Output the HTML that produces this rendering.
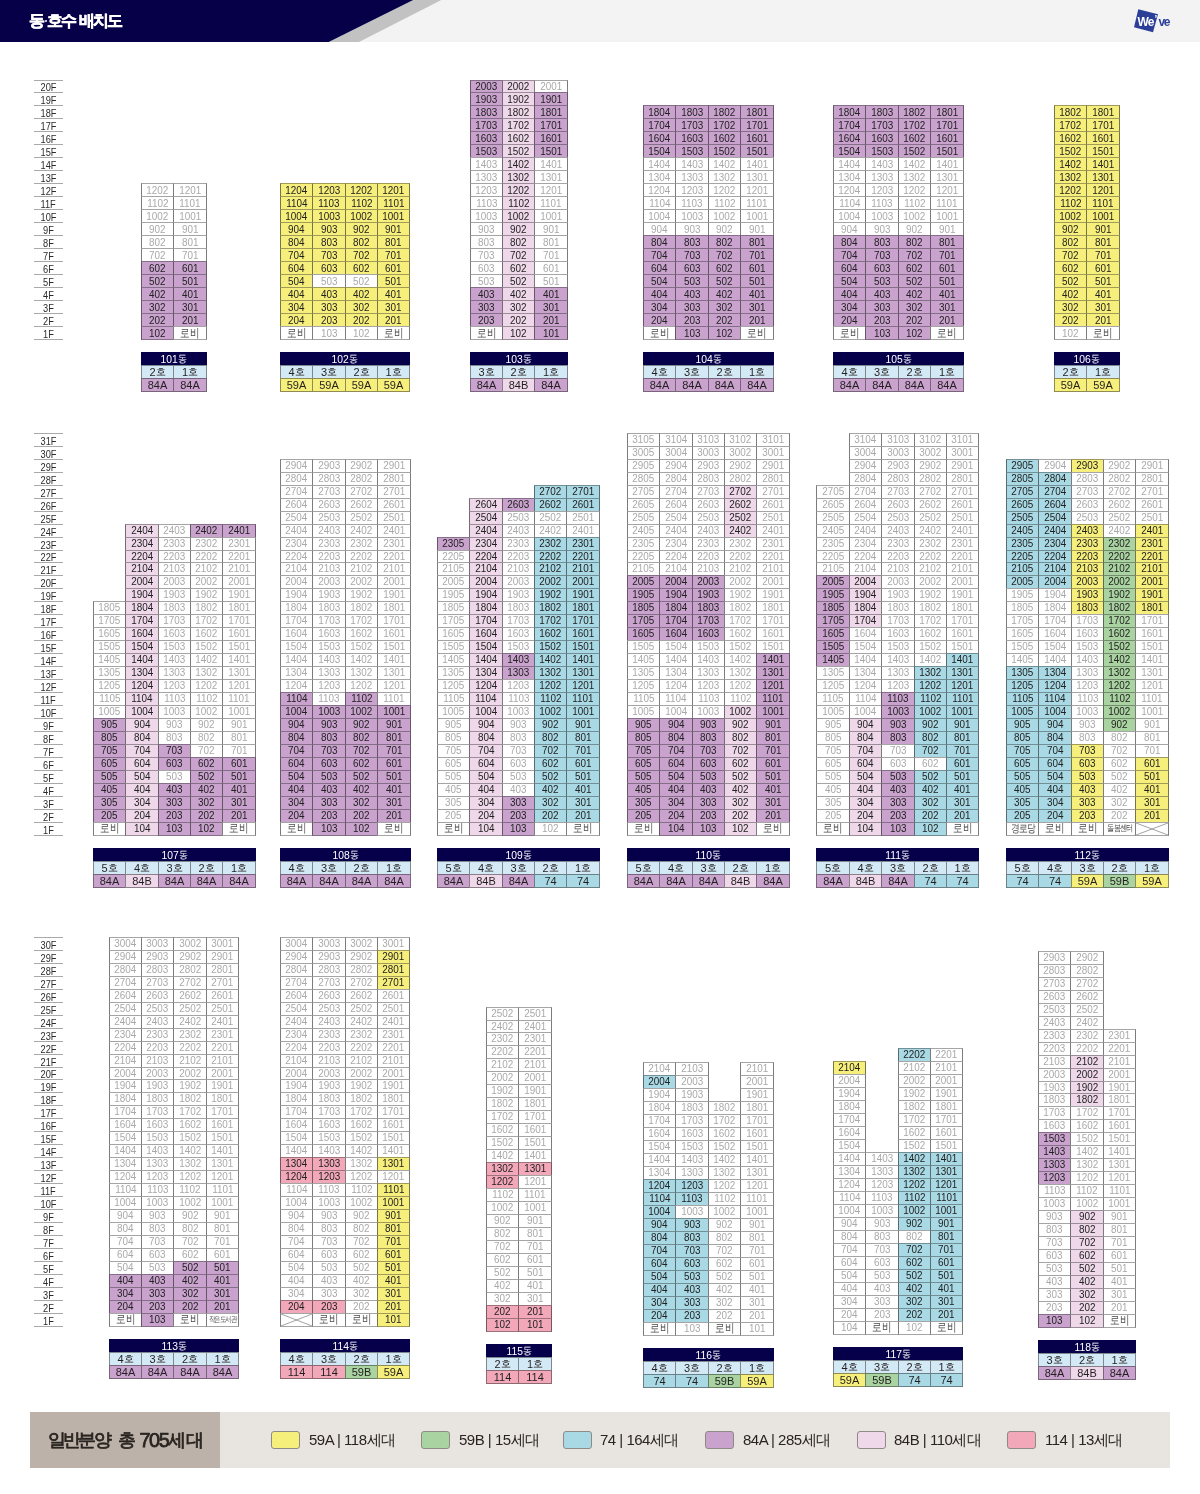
<!DOCTYPE html><html><head><meta charset="utf-8"><title>동·호수 배치도</title><style>
*{margin:0;padding:0;box-sizing:border-box}
html,body{width:1200px;height:1494px;background:#fff;overflow:hidden}
body{position:relative;font-family:"Liberation Sans",sans-serif;color:#222}
.a{position:absolute}
.c{position:absolute;border:1px solid rgba(40,40,40,.42);border-left-color:rgba(30,30,30,.58);border-right-color:rgba(30,30,30,.58);text-align:center;font-size:11px;white-space:nowrap;overflow:hidden}
.c span{display:inline-block;transform:scaleX(.9);transform-origin:50% 50%;margin:0 -20px}
.W{color:#a9a9a9}
.w{color:#4a4a4a}
.c.w span{transform:scaleX(.8)}
i{font-style:normal;font-size:10px;position:relative;top:-1px}
.k{font-size:11.5px}
.s{font-size:9px;letter-spacing:-1px}
.xs{font-size:8px;letter-spacing:-1px}
.m{font-size:11px;letter-spacing:-1px}
.fl{position:absolute;left:34px;width:29px;text-align:center;font-size:11px;color:#2b2b2b;border-top:1px solid #a9a9a9;padding-top:1px}
.fl span{display:inline-block;transform:scaleX(.84)}
.flb{position:absolute;left:34px;width:29px;border-top:1px solid #a9a9a9}
.lh{position:absolute;background:#06004a;color:#fff;text-align:center;font-size:11.5px;border:1px solid #06004a}
.lh span{display:inline-block;transform:scaleX(.9)}
.lc{position:absolute;border:1px solid rgba(40,40,40,.5);text-align:center;font-size:11px;color:#231f20}
..c span{display:inline-block;transform:scaleX(.9)}
</style></head><body><div class="a" style="left:0;top:0;width:1200px;height:1494px;will-change:transform">
<div class="a" style="left:0;top:0;width:1200px;height:42px;background:#f3f3f3"></div>
<svg class="a" style="left:0;top:0" width="1200" height="42" viewBox="0 0 1200 42"><polygon points="413.2,0 441.3,0 359,42 328.7,42" fill="#c2c2c2"/><polygon points="0,0 413.2,0 328.7,42 0,42" fill="#060048"/></svg>
<div class="a" style="left:29.2px;top:9px;height:24px;line-height:24px;font-size:16px;font-weight:bold;-webkit-text-stroke:0.5px #fff;color:#fff;white-space:nowrap">동</div>
<div class="a" style="left:47.2px;top:9px;height:24px;line-height:24px;font-size:16px;font-weight:bold;-webkit-text-stroke:0.5px #fff;color:#fff;white-space:nowrap">호</div>
<div class="a" style="left:61.2px;top:9px;height:24px;line-height:24px;font-size:16px;font-weight:bold;-webkit-text-stroke:0.5px #fff;color:#fff;white-space:nowrap">수</div>
<div class="a" style="left:79.2px;top:9px;height:24px;line-height:24px;font-size:16px;font-weight:bold;-webkit-text-stroke:0.5px #fff;color:#fff;white-space:nowrap">배</div>
<div class="a" style="left:93.2px;top:9px;height:24px;line-height:24px;font-size:16px;font-weight:bold;-webkit-text-stroke:0.5px #fff;color:#fff;white-space:nowrap">치</div>
<div class="a" style="left:107.2px;top:9px;height:24px;line-height:24px;font-size:16px;font-weight:bold;-webkit-text-stroke:0.5px #fff;color:#fff;white-space:nowrap">도</div>
<div class="a" style="left:44.6px;top:19.6px;width:2.6px;height:2.6px;border-radius:50%;background:#fff"></div>
<svg class="a" style="left:1128px;top:4px" width="46" height="34" viewBox="0 0 46 34"><polygon points="10.3,5.3 30,10.3 25,28.3 6,23.3" fill="#2b3f99"/><text x="9.6" y="21.7" font-family="Liberation Sans" font-weight="bold" font-size="12" fill="#fff" letter-spacing="-1">We</text><text x="26.6" y="18.5" font-family="Liberation Sans" font-weight="bold" font-size="10" fill="#fff">’</text><text x="30.5" y="21.7" font-family="Liberation Sans" font-weight="bold" font-size="12" fill="#2b3f99" letter-spacing="-1.3">ve</text></svg>
<div class="fl" style="top:80px;height:12px;line-height:11px"><span>20F</span></div>
<div class="fl" style="top:92px;height:13px;line-height:12px"><span>19F</span></div>
<div class="fl" style="top:105px;height:13px;line-height:12px"><span>18F</span></div>
<div class="fl" style="top:118px;height:13px;line-height:12px"><span>17F</span></div>
<div class="fl" style="top:131px;height:13px;line-height:12px"><span>16F</span></div>
<div class="fl" style="top:144px;height:13px;line-height:12px"><span>15F</span></div>
<div class="fl" style="top:157px;height:13px;line-height:12px"><span>14F</span></div>
<div class="fl" style="top:170px;height:13px;line-height:12px"><span>13F</span></div>
<div class="fl" style="top:183px;height:13px;line-height:12px"><span>12F</span></div>
<div class="fl" style="top:196px;height:13px;line-height:12px"><span>11F</span></div>
<div class="fl" style="top:209px;height:13px;line-height:12px"><span>10F</span></div>
<div class="fl" style="top:222px;height:13px;line-height:12px"><span>9F</span></div>
<div class="fl" style="top:235px;height:13px;line-height:12px"><span>8F</span></div>
<div class="fl" style="top:248px;height:13px;line-height:12px"><span>7F</span></div>
<div class="fl" style="top:261px;height:13px;line-height:12px"><span>6F</span></div>
<div class="fl" style="top:274px;height:13px;line-height:12px"><span>5F</span></div>
<div class="fl" style="top:287px;height:13px;line-height:12px"><span>4F</span></div>
<div class="fl" style="top:300px;height:13px;line-height:12px"><span>3F</span></div>
<div class="fl" style="top:313px;height:13px;line-height:12px"><span>2F</span></div>
<div class="fl" style="top:326px;height:13px;line-height:12px"><span>1F</span></div>
<div class="flb" style="top:339px;height:1px"></div>
<div class="fl" style="top:433px;height:13px;line-height:12px"><span>31F</span></div>
<div class="fl" style="top:446px;height:13px;line-height:12px"><span>30F</span></div>
<div class="fl" style="top:459px;height:13px;line-height:12px"><span>29F</span></div>
<div class="fl" style="top:472px;height:13px;line-height:12px"><span>28F</span></div>
<div class="fl" style="top:485px;height:13px;line-height:12px"><span>27F</span></div>
<div class="fl" style="top:498px;height:13px;line-height:12px"><span>26F</span></div>
<div class="fl" style="top:511px;height:13px;line-height:12px"><span>25F</span></div>
<div class="fl" style="top:524px;height:13px;line-height:12px"><span>24F</span></div>
<div class="fl" style="top:537px;height:13px;line-height:12px"><span>23F</span></div>
<div class="fl" style="top:550px;height:12px;line-height:11px"><span>22F</span></div>
<div class="fl" style="top:562px;height:13px;line-height:12px"><span>21F</span></div>
<div class="fl" style="top:575px;height:13px;line-height:12px"><span>20F</span></div>
<div class="fl" style="top:588px;height:13px;line-height:12px"><span>19F</span></div>
<div class="fl" style="top:601px;height:13px;line-height:12px"><span>18F</span></div>
<div class="fl" style="top:614px;height:13px;line-height:12px"><span>17F</span></div>
<div class="fl" style="top:627px;height:13px;line-height:12px"><span>16F</span></div>
<div class="fl" style="top:640px;height:13px;line-height:12px"><span>15F</span></div>
<div class="fl" style="top:653px;height:13px;line-height:12px"><span>14F</span></div>
<div class="fl" style="top:666px;height:13px;line-height:12px"><span>13F</span></div>
<div class="fl" style="top:679px;height:13px;line-height:12px"><span>12F</span></div>
<div class="fl" style="top:692px;height:13px;line-height:12px"><span>11F</span></div>
<div class="fl" style="top:705px;height:13px;line-height:12px"><span>10F</span></div>
<div class="fl" style="top:718px;height:13px;line-height:12px"><span>9F</span></div>
<div class="fl" style="top:731px;height:13px;line-height:12px"><span>8F</span></div>
<div class="fl" style="top:744px;height:13px;line-height:12px"><span>7F</span></div>
<div class="fl" style="top:757px;height:13px;line-height:12px"><span>6F</span></div>
<div class="fl" style="top:770px;height:13px;line-height:12px"><span>5F</span></div>
<div class="fl" style="top:783px;height:13px;line-height:12px"><span>4F</span></div>
<div class="fl" style="top:796px;height:13px;line-height:12px"><span>3F</span></div>
<div class="fl" style="top:809px;height:13px;line-height:12px"><span>2F</span></div>
<div class="fl" style="top:822px;height:13px;line-height:12px"><span>1F</span></div>
<div class="flb" style="top:835px;height:1px"></div>
<div class="fl" style="top:937px;height:13px;line-height:12px"><span>30F</span></div>
<div class="fl" style="top:950px;height:13px;line-height:12px"><span>29F</span></div>
<div class="fl" style="top:963px;height:13px;line-height:12px"><span>28F</span></div>
<div class="fl" style="top:976px;height:13px;line-height:12px"><span>27F</span></div>
<div class="fl" style="top:989px;height:13px;line-height:12px"><span>26F</span></div>
<div class="fl" style="top:1002px;height:13px;line-height:12px"><span>25F</span></div>
<div class="fl" style="top:1015px;height:13px;line-height:12px"><span>24F</span></div>
<div class="fl" style="top:1028px;height:13px;line-height:12px"><span>23F</span></div>
<div class="fl" style="top:1041px;height:13px;line-height:12px"><span>22F</span></div>
<div class="fl" style="top:1054px;height:13px;line-height:12px"><span>21F</span></div>
<div class="fl" style="top:1067px;height:12px;line-height:11px"><span>20F</span></div>
<div class="fl" style="top:1079px;height:13px;line-height:12px"><span>19F</span></div>
<div class="fl" style="top:1092px;height:13px;line-height:12px"><span>18F</span></div>
<div class="fl" style="top:1105px;height:13px;line-height:12px"><span>17F</span></div>
<div class="fl" style="top:1118px;height:13px;line-height:12px"><span>16F</span></div>
<div class="fl" style="top:1131px;height:13px;line-height:12px"><span>15F</span></div>
<div class="fl" style="top:1144px;height:13px;line-height:12px"><span>14F</span></div>
<div class="fl" style="top:1157px;height:13px;line-height:12px"><span>13F</span></div>
<div class="fl" style="top:1170px;height:13px;line-height:12px"><span>12F</span></div>
<div class="fl" style="top:1183px;height:13px;line-height:12px"><span>11F</span></div>
<div class="fl" style="top:1196px;height:13px;line-height:12px"><span>10F</span></div>
<div class="fl" style="top:1209px;height:13px;line-height:12px"><span>9F</span></div>
<div class="fl" style="top:1222px;height:13px;line-height:12px"><span>8F</span></div>
<div class="fl" style="top:1235px;height:13px;line-height:12px"><span>7F</span></div>
<div class="fl" style="top:1248px;height:13px;line-height:12px"><span>6F</span></div>
<div class="fl" style="top:1261px;height:13px;line-height:12px"><span>5F</span></div>
<div class="fl" style="top:1274px;height:13px;line-height:12px"><span>4F</span></div>
<div class="fl" style="top:1287px;height:13px;line-height:12px"><span>3F</span></div>
<div class="fl" style="top:1300px;height:13px;line-height:12px"><span>2F</span></div>
<div class="fl" style="top:1313px;height:13px;line-height:12px"><span>1F</span></div>
<div class="flb" style="top:1326px;height:1px"></div>
<div class="c W" style="left:141px;top:183px;width:32px;height:13px;line-height:12px;background:#ffffff;border-right-width:0px;border-bottom-width:0px"><span>1202</span></div>
<div class="c W" style="left:173px;top:183px;width:34px;height:13px;line-height:12px;background:#ffffff;border-right-width:1px;border-bottom-width:0px"><span>1201</span></div>
<div class="c W" style="left:141px;top:196px;width:32px;height:13px;line-height:12px;background:#ffffff;border-right-width:0px;border-bottom-width:0px"><span>1102</span></div>
<div class="c W" style="left:173px;top:196px;width:34px;height:13px;line-height:12px;background:#ffffff;border-right-width:1px;border-bottom-width:0px"><span>1101</span></div>
<div class="c W" style="left:141px;top:209px;width:32px;height:13px;line-height:12px;background:#ffffff;border-right-width:0px;border-bottom-width:0px"><span>1002</span></div>
<div class="c W" style="left:173px;top:209px;width:34px;height:13px;line-height:12px;background:#ffffff;border-right-width:1px;border-bottom-width:0px"><span>1001</span></div>
<div class="c W" style="left:141px;top:222px;width:32px;height:13px;line-height:12px;background:#ffffff;border-right-width:0px;border-bottom-width:0px"><span>902</span></div>
<div class="c W" style="left:173px;top:222px;width:34px;height:13px;line-height:12px;background:#ffffff;border-right-width:1px;border-bottom-width:0px"><span>901</span></div>
<div class="c W" style="left:141px;top:235px;width:32px;height:13px;line-height:12px;background:#ffffff;border-right-width:0px;border-bottom-width:0px"><span>802</span></div>
<div class="c W" style="left:173px;top:235px;width:34px;height:13px;line-height:12px;background:#ffffff;border-right-width:1px;border-bottom-width:0px"><span>801</span></div>
<div class="c W" style="left:141px;top:248px;width:32px;height:13px;line-height:12px;background:#ffffff;border-right-width:0px;border-bottom-width:0px"><span>702</span></div>
<div class="c W" style="left:173px;top:248px;width:34px;height:13px;line-height:12px;background:#ffffff;border-right-width:1px;border-bottom-width:0px"><span>701</span></div>
<div class="c" style="left:141px;top:261px;width:32px;height:13px;line-height:12px;background:#c9a2cd;border-right-width:0px;border-bottom-width:0px"><span>602</span></div>
<div class="c" style="left:173px;top:261px;width:34px;height:13px;line-height:12px;background:#c9a2cd;border-right-width:1px;border-bottom-width:0px"><span>601</span></div>
<div class="c" style="left:141px;top:274px;width:32px;height:13px;line-height:12px;background:#c9a2cd;border-right-width:0px;border-bottom-width:0px"><span>502</span></div>
<div class="c" style="left:173px;top:274px;width:34px;height:13px;line-height:12px;background:#c9a2cd;border-right-width:1px;border-bottom-width:0px"><span>501</span></div>
<div class="c" style="left:141px;top:287px;width:32px;height:13px;line-height:12px;background:#c9a2cd;border-right-width:0px;border-bottom-width:0px"><span>402</span></div>
<div class="c" style="left:173px;top:287px;width:34px;height:13px;line-height:12px;background:#c9a2cd;border-right-width:1px;border-bottom-width:0px"><span>401</span></div>
<div class="c" style="left:141px;top:300px;width:32px;height:13px;line-height:12px;background:#c9a2cd;border-right-width:0px;border-bottom-width:0px"><span>302</span></div>
<div class="c" style="left:173px;top:300px;width:34px;height:13px;line-height:12px;background:#c9a2cd;border-right-width:1px;border-bottom-width:0px"><span>301</span></div>
<div class="c" style="left:141px;top:313px;width:32px;height:13px;line-height:12px;background:#c9a2cd;border-right-width:0px;border-bottom-width:0px"><span>202</span></div>
<div class="c" style="left:173px;top:313px;width:34px;height:13px;line-height:12px;background:#c9a2cd;border-right-width:1px;border-bottom-width:0px"><span>201</span></div>
<div class="c" style="left:141px;top:326px;width:32px;height:14px;line-height:12px;background:#c9a2cd;border-right-width:0px;border-bottom-width:1px"><span>102</span></div>
<div class="c w k" style="left:173px;top:326px;width:34px;height:14px;line-height:12px;background:#ffffff;border-right-width:1px;border-bottom-width:1px"><span>로비</span></div>
<div class="lh" style="left:141px;top:352px;width:66px;height:14px;line-height:12px"><span>101<i>동</i></span></div>
<div class="lc" style="left:141px;top:365px;width:33px;height:14px;line-height:12px;background:#d3eaf6"><span>2<i>호</i></span></div>
<div class="lc" style="left:141px;top:378px;width:33px;height:14px;line-height:12px;background:#c9a2cd"><span>84A</span></div>
<div class="lc" style="left:173px;top:365px;width:34px;height:14px;line-height:12px;background:#d3eaf6"><span>1<i>호</i></span></div>
<div class="lc" style="left:173px;top:378px;width:34px;height:14px;line-height:12px;background:#c9a2cd"><span>84A</span></div>
<div class="c" style="left:280px;top:183px;width:32px;height:13px;line-height:12px;background:#f7ef7b;border-right-width:0px;border-bottom-width:0px"><span>1204</span></div>
<div class="c" style="left:312px;top:183px;width:33px;height:13px;line-height:12px;background:#f7ef7b;border-right-width:0px;border-bottom-width:0px"><span>1203</span></div>
<div class="c" style="left:345px;top:183px;width:32px;height:13px;line-height:12px;background:#f7ef7b;border-right-width:0px;border-bottom-width:0px"><span>1202</span></div>
<div class="c" style="left:377px;top:183px;width:33px;height:13px;line-height:12px;background:#f7ef7b;border-right-width:1px;border-bottom-width:0px"><span>1201</span></div>
<div class="c" style="left:280px;top:196px;width:32px;height:13px;line-height:12px;background:#f7ef7b;border-right-width:0px;border-bottom-width:0px"><span>1104</span></div>
<div class="c" style="left:312px;top:196px;width:33px;height:13px;line-height:12px;background:#f7ef7b;border-right-width:0px;border-bottom-width:0px"><span>1103</span></div>
<div class="c" style="left:345px;top:196px;width:32px;height:13px;line-height:12px;background:#f7ef7b;border-right-width:0px;border-bottom-width:0px"><span>1102</span></div>
<div class="c" style="left:377px;top:196px;width:33px;height:13px;line-height:12px;background:#f7ef7b;border-right-width:1px;border-bottom-width:0px"><span>1101</span></div>
<div class="c" style="left:280px;top:209px;width:32px;height:13px;line-height:12px;background:#f7ef7b;border-right-width:0px;border-bottom-width:0px"><span>1004</span></div>
<div class="c" style="left:312px;top:209px;width:33px;height:13px;line-height:12px;background:#f7ef7b;border-right-width:0px;border-bottom-width:0px"><span>1003</span></div>
<div class="c" style="left:345px;top:209px;width:32px;height:13px;line-height:12px;background:#f7ef7b;border-right-width:0px;border-bottom-width:0px"><span>1002</span></div>
<div class="c" style="left:377px;top:209px;width:33px;height:13px;line-height:12px;background:#f7ef7b;border-right-width:1px;border-bottom-width:0px"><span>1001</span></div>
<div class="c" style="left:280px;top:222px;width:32px;height:13px;line-height:12px;background:#f7ef7b;border-right-width:0px;border-bottom-width:0px"><span>904</span></div>
<div class="c" style="left:312px;top:222px;width:33px;height:13px;line-height:12px;background:#f7ef7b;border-right-width:0px;border-bottom-width:0px"><span>903</span></div>
<div class="c" style="left:345px;top:222px;width:32px;height:13px;line-height:12px;background:#f7ef7b;border-right-width:0px;border-bottom-width:0px"><span>902</span></div>
<div class="c" style="left:377px;top:222px;width:33px;height:13px;line-height:12px;background:#f7ef7b;border-right-width:1px;border-bottom-width:0px"><span>901</span></div>
<div class="c" style="left:280px;top:235px;width:32px;height:13px;line-height:12px;background:#f7ef7b;border-right-width:0px;border-bottom-width:0px"><span>804</span></div>
<div class="c" style="left:312px;top:235px;width:33px;height:13px;line-height:12px;background:#f7ef7b;border-right-width:0px;border-bottom-width:0px"><span>803</span></div>
<div class="c" style="left:345px;top:235px;width:32px;height:13px;line-height:12px;background:#f7ef7b;border-right-width:0px;border-bottom-width:0px"><span>802</span></div>
<div class="c" style="left:377px;top:235px;width:33px;height:13px;line-height:12px;background:#f7ef7b;border-right-width:1px;border-bottom-width:0px"><span>801</span></div>
<div class="c" style="left:280px;top:248px;width:32px;height:13px;line-height:12px;background:#f7ef7b;border-right-width:0px;border-bottom-width:0px"><span>704</span></div>
<div class="c" style="left:312px;top:248px;width:33px;height:13px;line-height:12px;background:#f7ef7b;border-right-width:0px;border-bottom-width:0px"><span>703</span></div>
<div class="c" style="left:345px;top:248px;width:32px;height:13px;line-height:12px;background:#f7ef7b;border-right-width:0px;border-bottom-width:0px"><span>702</span></div>
<div class="c" style="left:377px;top:248px;width:33px;height:13px;line-height:12px;background:#f7ef7b;border-right-width:1px;border-bottom-width:0px"><span>701</span></div>
<div class="c" style="left:280px;top:261px;width:32px;height:13px;line-height:12px;background:#f7ef7b;border-right-width:0px;border-bottom-width:0px"><span>604</span></div>
<div class="c" style="left:312px;top:261px;width:33px;height:13px;line-height:12px;background:#f7ef7b;border-right-width:0px;border-bottom-width:0px"><span>603</span></div>
<div class="c" style="left:345px;top:261px;width:32px;height:13px;line-height:12px;background:#f7ef7b;border-right-width:0px;border-bottom-width:0px"><span>602</span></div>
<div class="c" style="left:377px;top:261px;width:33px;height:13px;line-height:12px;background:#f7ef7b;border-right-width:1px;border-bottom-width:0px"><span>601</span></div>
<div class="c" style="left:280px;top:274px;width:32px;height:13px;line-height:12px;background:#f7ef7b;border-right-width:0px;border-bottom-width:0px"><span>504</span></div>
<div class="c W" style="left:312px;top:274px;width:33px;height:13px;line-height:12px;background:#ffffff;border-right-width:0px;border-bottom-width:0px"><span>503</span></div>
<div class="c W" style="left:345px;top:274px;width:32px;height:13px;line-height:12px;background:#ffffff;border-right-width:0px;border-bottom-width:0px"><span>502</span></div>
<div class="c" style="left:377px;top:274px;width:33px;height:13px;line-height:12px;background:#f7ef7b;border-right-width:1px;border-bottom-width:0px"><span>501</span></div>
<div class="c" style="left:280px;top:287px;width:32px;height:13px;line-height:12px;background:#f7ef7b;border-right-width:0px;border-bottom-width:0px"><span>404</span></div>
<div class="c" style="left:312px;top:287px;width:33px;height:13px;line-height:12px;background:#f7ef7b;border-right-width:0px;border-bottom-width:0px"><span>403</span></div>
<div class="c" style="left:345px;top:287px;width:32px;height:13px;line-height:12px;background:#f7ef7b;border-right-width:0px;border-bottom-width:0px"><span>402</span></div>
<div class="c" style="left:377px;top:287px;width:33px;height:13px;line-height:12px;background:#f7ef7b;border-right-width:1px;border-bottom-width:0px"><span>401</span></div>
<div class="c" style="left:280px;top:300px;width:32px;height:13px;line-height:12px;background:#f7ef7b;border-right-width:0px;border-bottom-width:0px"><span>304</span></div>
<div class="c" style="left:312px;top:300px;width:33px;height:13px;line-height:12px;background:#f7ef7b;border-right-width:0px;border-bottom-width:0px"><span>303</span></div>
<div class="c" style="left:345px;top:300px;width:32px;height:13px;line-height:12px;background:#f7ef7b;border-right-width:0px;border-bottom-width:0px"><span>302</span></div>
<div class="c" style="left:377px;top:300px;width:33px;height:13px;line-height:12px;background:#f7ef7b;border-right-width:1px;border-bottom-width:0px"><span>301</span></div>
<div class="c" style="left:280px;top:313px;width:32px;height:13px;line-height:12px;background:#f7ef7b;border-right-width:0px;border-bottom-width:0px"><span>204</span></div>
<div class="c" style="left:312px;top:313px;width:33px;height:13px;line-height:12px;background:#f7ef7b;border-right-width:0px;border-bottom-width:0px"><span>203</span></div>
<div class="c" style="left:345px;top:313px;width:32px;height:13px;line-height:12px;background:#f7ef7b;border-right-width:0px;border-bottom-width:0px"><span>202</span></div>
<div class="c" style="left:377px;top:313px;width:33px;height:13px;line-height:12px;background:#f7ef7b;border-right-width:1px;border-bottom-width:0px"><span>201</span></div>
<div class="c w k" style="left:280px;top:326px;width:32px;height:14px;line-height:12px;background:#ffffff;border-right-width:0px;border-bottom-width:1px"><span>로비</span></div>
<div class="c W" style="left:312px;top:326px;width:33px;height:14px;line-height:12px;background:#ffffff;border-right-width:0px;border-bottom-width:1px"><span>103</span></div>
<div class="c W" style="left:345px;top:326px;width:32px;height:14px;line-height:12px;background:#ffffff;border-right-width:0px;border-bottom-width:1px"><span>102</span></div>
<div class="c w k" style="left:377px;top:326px;width:33px;height:14px;line-height:12px;background:#ffffff;border-right-width:1px;border-bottom-width:1px"><span>로비</span></div>
<div class="lh" style="left:280px;top:352px;width:130px;height:14px;line-height:12px"><span>102<i>동</i></span></div>
<div class="lc" style="left:280px;top:365px;width:33px;height:14px;line-height:12px;background:#d3eaf6"><span>4<i>호</i></span></div>
<div class="lc" style="left:280px;top:378px;width:33px;height:14px;line-height:12px;background:#f7ef7b"><span>59A</span></div>
<div class="lc" style="left:312px;top:365px;width:34px;height:14px;line-height:12px;background:#d3eaf6"><span>3<i>호</i></span></div>
<div class="lc" style="left:312px;top:378px;width:34px;height:14px;line-height:12px;background:#f7ef7b"><span>59A</span></div>
<div class="lc" style="left:345px;top:365px;width:33px;height:14px;line-height:12px;background:#d3eaf6"><span>2<i>호</i></span></div>
<div class="lc" style="left:345px;top:378px;width:33px;height:14px;line-height:12px;background:#f7ef7b"><span>59A</span></div>
<div class="lc" style="left:377px;top:365px;width:33px;height:14px;line-height:12px;background:#d3eaf6"><span>1<i>호</i></span></div>
<div class="lc" style="left:377px;top:378px;width:33px;height:14px;line-height:12px;background:#f7ef7b"><span>59A</span></div>
<div class="c" style="left:470px;top:80px;width:32px;height:12px;line-height:11px;background:#c9a2cd;border-right-width:0px;border-bottom-width:0px"><span>2003</span></div>
<div class="c" style="left:502px;top:80px;width:32px;height:12px;line-height:11px;background:#eed8e9;border-right-width:0px;border-bottom-width:0px"><span>2002</span></div>
<div class="c W" style="left:534px;top:80px;width:34px;height:12px;line-height:11px;background:#ffffff;border-right-width:1px;border-bottom-width:0px"><span>2001</span></div>
<div class="c" style="left:470px;top:92px;width:32px;height:13px;line-height:12px;background:#c9a2cd;border-right-width:0px;border-bottom-width:0px"><span>1903</span></div>
<div class="c" style="left:502px;top:92px;width:32px;height:13px;line-height:12px;background:#eed8e9;border-right-width:0px;border-bottom-width:0px"><span>1902</span></div>
<div class="c" style="left:534px;top:92px;width:34px;height:13px;line-height:12px;background:#c9a2cd;border-right-width:1px;border-bottom-width:0px"><span>1901</span></div>
<div class="c" style="left:470px;top:105px;width:32px;height:13px;line-height:12px;background:#c9a2cd;border-right-width:0px;border-bottom-width:0px"><span>1803</span></div>
<div class="c" style="left:502px;top:105px;width:32px;height:13px;line-height:12px;background:#eed8e9;border-right-width:0px;border-bottom-width:0px"><span>1802</span></div>
<div class="c" style="left:534px;top:105px;width:34px;height:13px;line-height:12px;background:#c9a2cd;border-right-width:1px;border-bottom-width:0px"><span>1801</span></div>
<div class="c" style="left:470px;top:118px;width:32px;height:13px;line-height:12px;background:#c9a2cd;border-right-width:0px;border-bottom-width:0px"><span>1703</span></div>
<div class="c" style="left:502px;top:118px;width:32px;height:13px;line-height:12px;background:#eed8e9;border-right-width:0px;border-bottom-width:0px"><span>1702</span></div>
<div class="c" style="left:534px;top:118px;width:34px;height:13px;line-height:12px;background:#c9a2cd;border-right-width:1px;border-bottom-width:0px"><span>1701</span></div>
<div class="c" style="left:470px;top:131px;width:32px;height:13px;line-height:12px;background:#c9a2cd;border-right-width:0px;border-bottom-width:0px"><span>1603</span></div>
<div class="c" style="left:502px;top:131px;width:32px;height:13px;line-height:12px;background:#eed8e9;border-right-width:0px;border-bottom-width:0px"><span>1602</span></div>
<div class="c" style="left:534px;top:131px;width:34px;height:13px;line-height:12px;background:#c9a2cd;border-right-width:1px;border-bottom-width:0px"><span>1601</span></div>
<div class="c" style="left:470px;top:144px;width:32px;height:13px;line-height:12px;background:#c9a2cd;border-right-width:0px;border-bottom-width:0px"><span>1503</span></div>
<div class="c" style="left:502px;top:144px;width:32px;height:13px;line-height:12px;background:#eed8e9;border-right-width:0px;border-bottom-width:0px"><span>1502</span></div>
<div class="c" style="left:534px;top:144px;width:34px;height:13px;line-height:12px;background:#c9a2cd;border-right-width:1px;border-bottom-width:0px"><span>1501</span></div>
<div class="c W" style="left:470px;top:157px;width:32px;height:13px;line-height:12px;background:#ffffff;border-right-width:0px;border-bottom-width:0px"><span>1403</span></div>
<div class="c" style="left:502px;top:157px;width:32px;height:13px;line-height:12px;background:#eed8e9;border-right-width:0px;border-bottom-width:0px"><span>1402</span></div>
<div class="c W" style="left:534px;top:157px;width:34px;height:13px;line-height:12px;background:#ffffff;border-right-width:1px;border-bottom-width:0px"><span>1401</span></div>
<div class="c W" style="left:470px;top:170px;width:32px;height:13px;line-height:12px;background:#ffffff;border-right-width:0px;border-bottom-width:0px"><span>1303</span></div>
<div class="c" style="left:502px;top:170px;width:32px;height:13px;line-height:12px;background:#eed8e9;border-right-width:0px;border-bottom-width:0px"><span>1302</span></div>
<div class="c W" style="left:534px;top:170px;width:34px;height:13px;line-height:12px;background:#ffffff;border-right-width:1px;border-bottom-width:0px"><span>1301</span></div>
<div class="c W" style="left:470px;top:183px;width:32px;height:13px;line-height:12px;background:#ffffff;border-right-width:0px;border-bottom-width:0px"><span>1203</span></div>
<div class="c" style="left:502px;top:183px;width:32px;height:13px;line-height:12px;background:#eed8e9;border-right-width:0px;border-bottom-width:0px"><span>1202</span></div>
<div class="c W" style="left:534px;top:183px;width:34px;height:13px;line-height:12px;background:#ffffff;border-right-width:1px;border-bottom-width:0px"><span>1201</span></div>
<div class="c W" style="left:470px;top:196px;width:32px;height:13px;line-height:12px;background:#ffffff;border-right-width:0px;border-bottom-width:0px"><span>1103</span></div>
<div class="c" style="left:502px;top:196px;width:32px;height:13px;line-height:12px;background:#eed8e9;border-right-width:0px;border-bottom-width:0px"><span>1102</span></div>
<div class="c W" style="left:534px;top:196px;width:34px;height:13px;line-height:12px;background:#ffffff;border-right-width:1px;border-bottom-width:0px"><span>1101</span></div>
<div class="c W" style="left:470px;top:209px;width:32px;height:13px;line-height:12px;background:#ffffff;border-right-width:0px;border-bottom-width:0px"><span>1003</span></div>
<div class="c" style="left:502px;top:209px;width:32px;height:13px;line-height:12px;background:#eed8e9;border-right-width:0px;border-bottom-width:0px"><span>1002</span></div>
<div class="c W" style="left:534px;top:209px;width:34px;height:13px;line-height:12px;background:#ffffff;border-right-width:1px;border-bottom-width:0px"><span>1001</span></div>
<div class="c W" style="left:470px;top:222px;width:32px;height:13px;line-height:12px;background:#ffffff;border-right-width:0px;border-bottom-width:0px"><span>903</span></div>
<div class="c" style="left:502px;top:222px;width:32px;height:13px;line-height:12px;background:#eed8e9;border-right-width:0px;border-bottom-width:0px"><span>902</span></div>
<div class="c W" style="left:534px;top:222px;width:34px;height:13px;line-height:12px;background:#ffffff;border-right-width:1px;border-bottom-width:0px"><span>901</span></div>
<div class="c W" style="left:470px;top:235px;width:32px;height:13px;line-height:12px;background:#ffffff;border-right-width:0px;border-bottom-width:0px"><span>803</span></div>
<div class="c" style="left:502px;top:235px;width:32px;height:13px;line-height:12px;background:#eed8e9;border-right-width:0px;border-bottom-width:0px"><span>802</span></div>
<div class="c W" style="left:534px;top:235px;width:34px;height:13px;line-height:12px;background:#ffffff;border-right-width:1px;border-bottom-width:0px"><span>801</span></div>
<div class="c W" style="left:470px;top:248px;width:32px;height:13px;line-height:12px;background:#ffffff;border-right-width:0px;border-bottom-width:0px"><span>703</span></div>
<div class="c" style="left:502px;top:248px;width:32px;height:13px;line-height:12px;background:#eed8e9;border-right-width:0px;border-bottom-width:0px"><span>702</span></div>
<div class="c W" style="left:534px;top:248px;width:34px;height:13px;line-height:12px;background:#ffffff;border-right-width:1px;border-bottom-width:0px"><span>701</span></div>
<div class="c W" style="left:470px;top:261px;width:32px;height:13px;line-height:12px;background:#ffffff;border-right-width:0px;border-bottom-width:0px"><span>603</span></div>
<div class="c" style="left:502px;top:261px;width:32px;height:13px;line-height:12px;background:#eed8e9;border-right-width:0px;border-bottom-width:0px"><span>602</span></div>
<div class="c W" style="left:534px;top:261px;width:34px;height:13px;line-height:12px;background:#ffffff;border-right-width:1px;border-bottom-width:0px"><span>601</span></div>
<div class="c W" style="left:470px;top:274px;width:32px;height:13px;line-height:12px;background:#ffffff;border-right-width:0px;border-bottom-width:0px"><span>503</span></div>
<div class="c" style="left:502px;top:274px;width:32px;height:13px;line-height:12px;background:#eed8e9;border-right-width:0px;border-bottom-width:0px"><span>502</span></div>
<div class="c W" style="left:534px;top:274px;width:34px;height:13px;line-height:12px;background:#ffffff;border-right-width:1px;border-bottom-width:0px"><span>501</span></div>
<div class="c" style="left:470px;top:287px;width:32px;height:13px;line-height:12px;background:#c9a2cd;border-right-width:0px;border-bottom-width:0px"><span>403</span></div>
<div class="c" style="left:502px;top:287px;width:32px;height:13px;line-height:12px;background:#eed8e9;border-right-width:0px;border-bottom-width:0px"><span>402</span></div>
<div class="c" style="left:534px;top:287px;width:34px;height:13px;line-height:12px;background:#c9a2cd;border-right-width:1px;border-bottom-width:0px"><span>401</span></div>
<div class="c" style="left:470px;top:300px;width:32px;height:13px;line-height:12px;background:#c9a2cd;border-right-width:0px;border-bottom-width:0px"><span>303</span></div>
<div class="c" style="left:502px;top:300px;width:32px;height:13px;line-height:12px;background:#eed8e9;border-right-width:0px;border-bottom-width:0px"><span>302</span></div>
<div class="c" style="left:534px;top:300px;width:34px;height:13px;line-height:12px;background:#c9a2cd;border-right-width:1px;border-bottom-width:0px"><span>301</span></div>
<div class="c" style="left:470px;top:313px;width:32px;height:13px;line-height:12px;background:#c9a2cd;border-right-width:0px;border-bottom-width:0px"><span>203</span></div>
<div class="c" style="left:502px;top:313px;width:32px;height:13px;line-height:12px;background:#eed8e9;border-right-width:0px;border-bottom-width:0px"><span>202</span></div>
<div class="c" style="left:534px;top:313px;width:34px;height:13px;line-height:12px;background:#c9a2cd;border-right-width:1px;border-bottom-width:0px"><span>201</span></div>
<div class="c w k" style="left:470px;top:326px;width:32px;height:14px;line-height:12px;background:#ffffff;border-right-width:0px;border-bottom-width:1px"><span>로비</span></div>
<div class="c" style="left:502px;top:326px;width:32px;height:14px;line-height:12px;background:#eed8e9;border-right-width:0px;border-bottom-width:1px"><span>102</span></div>
<div class="c" style="left:534px;top:326px;width:34px;height:14px;line-height:12px;background:#c9a2cd;border-right-width:1px;border-bottom-width:1px"><span>101</span></div>
<div class="lh" style="left:470px;top:352px;width:98px;height:14px;line-height:12px"><span>103<i>동</i></span></div>
<div class="lc" style="left:470px;top:365px;width:33px;height:14px;line-height:12px;background:#d3eaf6"><span>3<i>호</i></span></div>
<div class="lc" style="left:470px;top:378px;width:33px;height:14px;line-height:12px;background:#c9a2cd"><span>84A</span></div>
<div class="lc" style="left:502px;top:365px;width:33px;height:14px;line-height:12px;background:#d3eaf6"><span>2<i>호</i></span></div>
<div class="lc" style="left:502px;top:378px;width:33px;height:14px;line-height:12px;background:#eed8e9"><span>84B</span></div>
<div class="lc" style="left:534px;top:365px;width:34px;height:14px;line-height:12px;background:#d3eaf6"><span>1<i>호</i></span></div>
<div class="lc" style="left:534px;top:378px;width:34px;height:14px;line-height:12px;background:#c9a2cd"><span>84A</span></div>
<div class="c" style="left:643px;top:105px;width:32px;height:13px;line-height:12px;background:#c9a2cd;border-right-width:0px;border-bottom-width:0px"><span>1804</span></div>
<div class="c" style="left:675px;top:105px;width:33px;height:13px;line-height:12px;background:#c9a2cd;border-right-width:0px;border-bottom-width:0px"><span>1803</span></div>
<div class="c" style="left:708px;top:105px;width:32px;height:13px;line-height:12px;background:#c9a2cd;border-right-width:0px;border-bottom-width:0px"><span>1802</span></div>
<div class="c" style="left:740px;top:105px;width:34px;height:13px;line-height:12px;background:#c9a2cd;border-right-width:1px;border-bottom-width:0px"><span>1801</span></div>
<div class="c" style="left:643px;top:118px;width:32px;height:13px;line-height:12px;background:#c9a2cd;border-right-width:0px;border-bottom-width:0px"><span>1704</span></div>
<div class="c" style="left:675px;top:118px;width:33px;height:13px;line-height:12px;background:#c9a2cd;border-right-width:0px;border-bottom-width:0px"><span>1703</span></div>
<div class="c" style="left:708px;top:118px;width:32px;height:13px;line-height:12px;background:#c9a2cd;border-right-width:0px;border-bottom-width:0px"><span>1702</span></div>
<div class="c" style="left:740px;top:118px;width:34px;height:13px;line-height:12px;background:#c9a2cd;border-right-width:1px;border-bottom-width:0px"><span>1701</span></div>
<div class="c" style="left:643px;top:131px;width:32px;height:13px;line-height:12px;background:#c9a2cd;border-right-width:0px;border-bottom-width:0px"><span>1604</span></div>
<div class="c" style="left:675px;top:131px;width:33px;height:13px;line-height:12px;background:#c9a2cd;border-right-width:0px;border-bottom-width:0px"><span>1603</span></div>
<div class="c" style="left:708px;top:131px;width:32px;height:13px;line-height:12px;background:#c9a2cd;border-right-width:0px;border-bottom-width:0px"><span>1602</span></div>
<div class="c" style="left:740px;top:131px;width:34px;height:13px;line-height:12px;background:#c9a2cd;border-right-width:1px;border-bottom-width:0px"><span>1601</span></div>
<div class="c" style="left:643px;top:144px;width:32px;height:13px;line-height:12px;background:#c9a2cd;border-right-width:0px;border-bottom-width:0px"><span>1504</span></div>
<div class="c" style="left:675px;top:144px;width:33px;height:13px;line-height:12px;background:#c9a2cd;border-right-width:0px;border-bottom-width:0px"><span>1503</span></div>
<div class="c" style="left:708px;top:144px;width:32px;height:13px;line-height:12px;background:#c9a2cd;border-right-width:0px;border-bottom-width:0px"><span>1502</span></div>
<div class="c" style="left:740px;top:144px;width:34px;height:13px;line-height:12px;background:#c9a2cd;border-right-width:1px;border-bottom-width:0px"><span>1501</span></div>
<div class="c W" style="left:643px;top:157px;width:32px;height:13px;line-height:12px;background:#ffffff;border-right-width:0px;border-bottom-width:0px"><span>1404</span></div>
<div class="c W" style="left:675px;top:157px;width:33px;height:13px;line-height:12px;background:#ffffff;border-right-width:0px;border-bottom-width:0px"><span>1403</span></div>
<div class="c W" style="left:708px;top:157px;width:32px;height:13px;line-height:12px;background:#ffffff;border-right-width:0px;border-bottom-width:0px"><span>1402</span></div>
<div class="c W" style="left:740px;top:157px;width:34px;height:13px;line-height:12px;background:#ffffff;border-right-width:1px;border-bottom-width:0px"><span>1401</span></div>
<div class="c W" style="left:643px;top:170px;width:32px;height:13px;line-height:12px;background:#ffffff;border-right-width:0px;border-bottom-width:0px"><span>1304</span></div>
<div class="c W" style="left:675px;top:170px;width:33px;height:13px;line-height:12px;background:#ffffff;border-right-width:0px;border-bottom-width:0px"><span>1303</span></div>
<div class="c W" style="left:708px;top:170px;width:32px;height:13px;line-height:12px;background:#ffffff;border-right-width:0px;border-bottom-width:0px"><span>1302</span></div>
<div class="c W" style="left:740px;top:170px;width:34px;height:13px;line-height:12px;background:#ffffff;border-right-width:1px;border-bottom-width:0px"><span>1301</span></div>
<div class="c W" style="left:643px;top:183px;width:32px;height:13px;line-height:12px;background:#ffffff;border-right-width:0px;border-bottom-width:0px"><span>1204</span></div>
<div class="c W" style="left:675px;top:183px;width:33px;height:13px;line-height:12px;background:#ffffff;border-right-width:0px;border-bottom-width:0px"><span>1203</span></div>
<div class="c W" style="left:708px;top:183px;width:32px;height:13px;line-height:12px;background:#ffffff;border-right-width:0px;border-bottom-width:0px"><span>1202</span></div>
<div class="c W" style="left:740px;top:183px;width:34px;height:13px;line-height:12px;background:#ffffff;border-right-width:1px;border-bottom-width:0px"><span>1201</span></div>
<div class="c W" style="left:643px;top:196px;width:32px;height:13px;line-height:12px;background:#ffffff;border-right-width:0px;border-bottom-width:0px"><span>1104</span></div>
<div class="c W" style="left:675px;top:196px;width:33px;height:13px;line-height:12px;background:#ffffff;border-right-width:0px;border-bottom-width:0px"><span>1103</span></div>
<div class="c W" style="left:708px;top:196px;width:32px;height:13px;line-height:12px;background:#ffffff;border-right-width:0px;border-bottom-width:0px"><span>1102</span></div>
<div class="c W" style="left:740px;top:196px;width:34px;height:13px;line-height:12px;background:#ffffff;border-right-width:1px;border-bottom-width:0px"><span>1101</span></div>
<div class="c W" style="left:643px;top:209px;width:32px;height:13px;line-height:12px;background:#ffffff;border-right-width:0px;border-bottom-width:0px"><span>1004</span></div>
<div class="c W" style="left:675px;top:209px;width:33px;height:13px;line-height:12px;background:#ffffff;border-right-width:0px;border-bottom-width:0px"><span>1003</span></div>
<div class="c W" style="left:708px;top:209px;width:32px;height:13px;line-height:12px;background:#ffffff;border-right-width:0px;border-bottom-width:0px"><span>1002</span></div>
<div class="c W" style="left:740px;top:209px;width:34px;height:13px;line-height:12px;background:#ffffff;border-right-width:1px;border-bottom-width:0px"><span>1001</span></div>
<div class="c W" style="left:643px;top:222px;width:32px;height:13px;line-height:12px;background:#ffffff;border-right-width:0px;border-bottom-width:0px"><span>904</span></div>
<div class="c W" style="left:675px;top:222px;width:33px;height:13px;line-height:12px;background:#ffffff;border-right-width:0px;border-bottom-width:0px"><span>903</span></div>
<div class="c W" style="left:708px;top:222px;width:32px;height:13px;line-height:12px;background:#ffffff;border-right-width:0px;border-bottom-width:0px"><span>902</span></div>
<div class="c W" style="left:740px;top:222px;width:34px;height:13px;line-height:12px;background:#ffffff;border-right-width:1px;border-bottom-width:0px"><span>901</span></div>
<div class="c" style="left:643px;top:235px;width:32px;height:13px;line-height:12px;background:#c9a2cd;border-right-width:0px;border-bottom-width:0px"><span>804</span></div>
<div class="c" style="left:675px;top:235px;width:33px;height:13px;line-height:12px;background:#c9a2cd;border-right-width:0px;border-bottom-width:0px"><span>803</span></div>
<div class="c" style="left:708px;top:235px;width:32px;height:13px;line-height:12px;background:#c9a2cd;border-right-width:0px;border-bottom-width:0px"><span>802</span></div>
<div class="c" style="left:740px;top:235px;width:34px;height:13px;line-height:12px;background:#c9a2cd;border-right-width:1px;border-bottom-width:0px"><span>801</span></div>
<div class="c" style="left:643px;top:248px;width:32px;height:13px;line-height:12px;background:#c9a2cd;border-right-width:0px;border-bottom-width:0px"><span>704</span></div>
<div class="c" style="left:675px;top:248px;width:33px;height:13px;line-height:12px;background:#c9a2cd;border-right-width:0px;border-bottom-width:0px"><span>703</span></div>
<div class="c" style="left:708px;top:248px;width:32px;height:13px;line-height:12px;background:#c9a2cd;border-right-width:0px;border-bottom-width:0px"><span>702</span></div>
<div class="c" style="left:740px;top:248px;width:34px;height:13px;line-height:12px;background:#c9a2cd;border-right-width:1px;border-bottom-width:0px"><span>701</span></div>
<div class="c" style="left:643px;top:261px;width:32px;height:13px;line-height:12px;background:#c9a2cd;border-right-width:0px;border-bottom-width:0px"><span>604</span></div>
<div class="c" style="left:675px;top:261px;width:33px;height:13px;line-height:12px;background:#c9a2cd;border-right-width:0px;border-bottom-width:0px"><span>603</span></div>
<div class="c" style="left:708px;top:261px;width:32px;height:13px;line-height:12px;background:#c9a2cd;border-right-width:0px;border-bottom-width:0px"><span>602</span></div>
<div class="c" style="left:740px;top:261px;width:34px;height:13px;line-height:12px;background:#c9a2cd;border-right-width:1px;border-bottom-width:0px"><span>601</span></div>
<div class="c" style="left:643px;top:274px;width:32px;height:13px;line-height:12px;background:#c9a2cd;border-right-width:0px;border-bottom-width:0px"><span>504</span></div>
<div class="c" style="left:675px;top:274px;width:33px;height:13px;line-height:12px;background:#c9a2cd;border-right-width:0px;border-bottom-width:0px"><span>503</span></div>
<div class="c" style="left:708px;top:274px;width:32px;height:13px;line-height:12px;background:#c9a2cd;border-right-width:0px;border-bottom-width:0px"><span>502</span></div>
<div class="c" style="left:740px;top:274px;width:34px;height:13px;line-height:12px;background:#c9a2cd;border-right-width:1px;border-bottom-width:0px"><span>501</span></div>
<div class="c" style="left:643px;top:287px;width:32px;height:13px;line-height:12px;background:#c9a2cd;border-right-width:0px;border-bottom-width:0px"><span>404</span></div>
<div class="c" style="left:675px;top:287px;width:33px;height:13px;line-height:12px;background:#c9a2cd;border-right-width:0px;border-bottom-width:0px"><span>403</span></div>
<div class="c" style="left:708px;top:287px;width:32px;height:13px;line-height:12px;background:#c9a2cd;border-right-width:0px;border-bottom-width:0px"><span>402</span></div>
<div class="c" style="left:740px;top:287px;width:34px;height:13px;line-height:12px;background:#c9a2cd;border-right-width:1px;border-bottom-width:0px"><span>401</span></div>
<div class="c" style="left:643px;top:300px;width:32px;height:13px;line-height:12px;background:#c9a2cd;border-right-width:0px;border-bottom-width:0px"><span>304</span></div>
<div class="c" style="left:675px;top:300px;width:33px;height:13px;line-height:12px;background:#c9a2cd;border-right-width:0px;border-bottom-width:0px"><span>303</span></div>
<div class="c" style="left:708px;top:300px;width:32px;height:13px;line-height:12px;background:#c9a2cd;border-right-width:0px;border-bottom-width:0px"><span>302</span></div>
<div class="c" style="left:740px;top:300px;width:34px;height:13px;line-height:12px;background:#c9a2cd;border-right-width:1px;border-bottom-width:0px"><span>301</span></div>
<div class="c" style="left:643px;top:313px;width:32px;height:13px;line-height:12px;background:#c9a2cd;border-right-width:0px;border-bottom-width:0px"><span>204</span></div>
<div class="c" style="left:675px;top:313px;width:33px;height:13px;line-height:12px;background:#c9a2cd;border-right-width:0px;border-bottom-width:0px"><span>203</span></div>
<div class="c" style="left:708px;top:313px;width:32px;height:13px;line-height:12px;background:#c9a2cd;border-right-width:0px;border-bottom-width:0px"><span>202</span></div>
<div class="c" style="left:740px;top:313px;width:34px;height:13px;line-height:12px;background:#c9a2cd;border-right-width:1px;border-bottom-width:0px"><span>201</span></div>
<div class="c w k" style="left:643px;top:326px;width:32px;height:14px;line-height:12px;background:#ffffff;border-right-width:0px;border-bottom-width:1px"><span>로비</span></div>
<div class="c" style="left:675px;top:326px;width:33px;height:14px;line-height:12px;background:#c9a2cd;border-right-width:0px;border-bottom-width:1px"><span>103</span></div>
<div class="c" style="left:708px;top:326px;width:32px;height:14px;line-height:12px;background:#c9a2cd;border-right-width:0px;border-bottom-width:1px"><span>102</span></div>
<div class="c w k" style="left:740px;top:326px;width:34px;height:14px;line-height:12px;background:#ffffff;border-right-width:1px;border-bottom-width:1px"><span>로비</span></div>
<div class="lh" style="left:643px;top:352px;width:131px;height:14px;line-height:12px"><span>104<i>동</i></span></div>
<div class="lc" style="left:643px;top:365px;width:33px;height:14px;line-height:12px;background:#d3eaf6"><span>4<i>호</i></span></div>
<div class="lc" style="left:643px;top:378px;width:33px;height:14px;line-height:12px;background:#c9a2cd"><span>84A</span></div>
<div class="lc" style="left:675px;top:365px;width:34px;height:14px;line-height:12px;background:#d3eaf6"><span>3<i>호</i></span></div>
<div class="lc" style="left:675px;top:378px;width:34px;height:14px;line-height:12px;background:#c9a2cd"><span>84A</span></div>
<div class="lc" style="left:708px;top:365px;width:33px;height:14px;line-height:12px;background:#d3eaf6"><span>2<i>호</i></span></div>
<div class="lc" style="left:708px;top:378px;width:33px;height:14px;line-height:12px;background:#c9a2cd"><span>84A</span></div>
<div class="lc" style="left:740px;top:365px;width:34px;height:14px;line-height:12px;background:#d3eaf6"><span>1<i>호</i></span></div>
<div class="lc" style="left:740px;top:378px;width:34px;height:14px;line-height:12px;background:#c9a2cd"><span>84A</span></div>
<div class="c" style="left:833px;top:105px;width:32px;height:13px;line-height:12px;background:#c9a2cd;border-right-width:0px;border-bottom-width:0px"><span>1804</span></div>
<div class="c" style="left:865px;top:105px;width:33px;height:13px;line-height:12px;background:#c9a2cd;border-right-width:0px;border-bottom-width:0px"><span>1803</span></div>
<div class="c" style="left:898px;top:105px;width:32px;height:13px;line-height:12px;background:#c9a2cd;border-right-width:0px;border-bottom-width:0px"><span>1802</span></div>
<div class="c" style="left:930px;top:105px;width:34px;height:13px;line-height:12px;background:#c9a2cd;border-right-width:1px;border-bottom-width:0px"><span>1801</span></div>
<div class="c" style="left:833px;top:118px;width:32px;height:13px;line-height:12px;background:#c9a2cd;border-right-width:0px;border-bottom-width:0px"><span>1704</span></div>
<div class="c" style="left:865px;top:118px;width:33px;height:13px;line-height:12px;background:#c9a2cd;border-right-width:0px;border-bottom-width:0px"><span>1703</span></div>
<div class="c" style="left:898px;top:118px;width:32px;height:13px;line-height:12px;background:#c9a2cd;border-right-width:0px;border-bottom-width:0px"><span>1702</span></div>
<div class="c" style="left:930px;top:118px;width:34px;height:13px;line-height:12px;background:#c9a2cd;border-right-width:1px;border-bottom-width:0px"><span>1701</span></div>
<div class="c" style="left:833px;top:131px;width:32px;height:13px;line-height:12px;background:#c9a2cd;border-right-width:0px;border-bottom-width:0px"><span>1604</span></div>
<div class="c" style="left:865px;top:131px;width:33px;height:13px;line-height:12px;background:#c9a2cd;border-right-width:0px;border-bottom-width:0px"><span>1603</span></div>
<div class="c" style="left:898px;top:131px;width:32px;height:13px;line-height:12px;background:#c9a2cd;border-right-width:0px;border-bottom-width:0px"><span>1602</span></div>
<div class="c" style="left:930px;top:131px;width:34px;height:13px;line-height:12px;background:#c9a2cd;border-right-width:1px;border-bottom-width:0px"><span>1601</span></div>
<div class="c" style="left:833px;top:144px;width:32px;height:13px;line-height:12px;background:#c9a2cd;border-right-width:0px;border-bottom-width:0px"><span>1504</span></div>
<div class="c" style="left:865px;top:144px;width:33px;height:13px;line-height:12px;background:#c9a2cd;border-right-width:0px;border-bottom-width:0px"><span>1503</span></div>
<div class="c" style="left:898px;top:144px;width:32px;height:13px;line-height:12px;background:#c9a2cd;border-right-width:0px;border-bottom-width:0px"><span>1502</span></div>
<div class="c" style="left:930px;top:144px;width:34px;height:13px;line-height:12px;background:#c9a2cd;border-right-width:1px;border-bottom-width:0px"><span>1501</span></div>
<div class="c W" style="left:833px;top:157px;width:32px;height:13px;line-height:12px;background:#ffffff;border-right-width:0px;border-bottom-width:0px"><span>1404</span></div>
<div class="c W" style="left:865px;top:157px;width:33px;height:13px;line-height:12px;background:#ffffff;border-right-width:0px;border-bottom-width:0px"><span>1403</span></div>
<div class="c W" style="left:898px;top:157px;width:32px;height:13px;line-height:12px;background:#ffffff;border-right-width:0px;border-bottom-width:0px"><span>1402</span></div>
<div class="c W" style="left:930px;top:157px;width:34px;height:13px;line-height:12px;background:#ffffff;border-right-width:1px;border-bottom-width:0px"><span>1401</span></div>
<div class="c W" style="left:833px;top:170px;width:32px;height:13px;line-height:12px;background:#ffffff;border-right-width:0px;border-bottom-width:0px"><span>1304</span></div>
<div class="c W" style="left:865px;top:170px;width:33px;height:13px;line-height:12px;background:#ffffff;border-right-width:0px;border-bottom-width:0px"><span>1303</span></div>
<div class="c W" style="left:898px;top:170px;width:32px;height:13px;line-height:12px;background:#ffffff;border-right-width:0px;border-bottom-width:0px"><span>1302</span></div>
<div class="c W" style="left:930px;top:170px;width:34px;height:13px;line-height:12px;background:#ffffff;border-right-width:1px;border-bottom-width:0px"><span>1301</span></div>
<div class="c W" style="left:833px;top:183px;width:32px;height:13px;line-height:12px;background:#ffffff;border-right-width:0px;border-bottom-width:0px"><span>1204</span></div>
<div class="c W" style="left:865px;top:183px;width:33px;height:13px;line-height:12px;background:#ffffff;border-right-width:0px;border-bottom-width:0px"><span>1203</span></div>
<div class="c W" style="left:898px;top:183px;width:32px;height:13px;line-height:12px;background:#ffffff;border-right-width:0px;border-bottom-width:0px"><span>1202</span></div>
<div class="c W" style="left:930px;top:183px;width:34px;height:13px;line-height:12px;background:#ffffff;border-right-width:1px;border-bottom-width:0px"><span>1201</span></div>
<div class="c W" style="left:833px;top:196px;width:32px;height:13px;line-height:12px;background:#ffffff;border-right-width:0px;border-bottom-width:0px"><span>1104</span></div>
<div class="c W" style="left:865px;top:196px;width:33px;height:13px;line-height:12px;background:#ffffff;border-right-width:0px;border-bottom-width:0px"><span>1103</span></div>
<div class="c W" style="left:898px;top:196px;width:32px;height:13px;line-height:12px;background:#ffffff;border-right-width:0px;border-bottom-width:0px"><span>1102</span></div>
<div class="c W" style="left:930px;top:196px;width:34px;height:13px;line-height:12px;background:#ffffff;border-right-width:1px;border-bottom-width:0px"><span>1101</span></div>
<div class="c W" style="left:833px;top:209px;width:32px;height:13px;line-height:12px;background:#ffffff;border-right-width:0px;border-bottom-width:0px"><span>1004</span></div>
<div class="c W" style="left:865px;top:209px;width:33px;height:13px;line-height:12px;background:#ffffff;border-right-width:0px;border-bottom-width:0px"><span>1003</span></div>
<div class="c W" style="left:898px;top:209px;width:32px;height:13px;line-height:12px;background:#ffffff;border-right-width:0px;border-bottom-width:0px"><span>1002</span></div>
<div class="c W" style="left:930px;top:209px;width:34px;height:13px;line-height:12px;background:#ffffff;border-right-width:1px;border-bottom-width:0px"><span>1001</span></div>
<div class="c W" style="left:833px;top:222px;width:32px;height:13px;line-height:12px;background:#ffffff;border-right-width:0px;border-bottom-width:0px"><span>904</span></div>
<div class="c W" style="left:865px;top:222px;width:33px;height:13px;line-height:12px;background:#ffffff;border-right-width:0px;border-bottom-width:0px"><span>903</span></div>
<div class="c W" style="left:898px;top:222px;width:32px;height:13px;line-height:12px;background:#ffffff;border-right-width:0px;border-bottom-width:0px"><span>902</span></div>
<div class="c W" style="left:930px;top:222px;width:34px;height:13px;line-height:12px;background:#ffffff;border-right-width:1px;border-bottom-width:0px"><span>901</span></div>
<div class="c" style="left:833px;top:235px;width:32px;height:13px;line-height:12px;background:#c9a2cd;border-right-width:0px;border-bottom-width:0px"><span>804</span></div>
<div class="c" style="left:865px;top:235px;width:33px;height:13px;line-height:12px;background:#c9a2cd;border-right-width:0px;border-bottom-width:0px"><span>803</span></div>
<div class="c" style="left:898px;top:235px;width:32px;height:13px;line-height:12px;background:#c9a2cd;border-right-width:0px;border-bottom-width:0px"><span>802</span></div>
<div class="c" style="left:930px;top:235px;width:34px;height:13px;line-height:12px;background:#c9a2cd;border-right-width:1px;border-bottom-width:0px"><span>801</span></div>
<div class="c" style="left:833px;top:248px;width:32px;height:13px;line-height:12px;background:#c9a2cd;border-right-width:0px;border-bottom-width:0px"><span>704</span></div>
<div class="c" style="left:865px;top:248px;width:33px;height:13px;line-height:12px;background:#c9a2cd;border-right-width:0px;border-bottom-width:0px"><span>703</span></div>
<div class="c" style="left:898px;top:248px;width:32px;height:13px;line-height:12px;background:#c9a2cd;border-right-width:0px;border-bottom-width:0px"><span>702</span></div>
<div class="c" style="left:930px;top:248px;width:34px;height:13px;line-height:12px;background:#c9a2cd;border-right-width:1px;border-bottom-width:0px"><span>701</span></div>
<div class="c" style="left:833px;top:261px;width:32px;height:13px;line-height:12px;background:#c9a2cd;border-right-width:0px;border-bottom-width:0px"><span>604</span></div>
<div class="c" style="left:865px;top:261px;width:33px;height:13px;line-height:12px;background:#c9a2cd;border-right-width:0px;border-bottom-width:0px"><span>603</span></div>
<div class="c" style="left:898px;top:261px;width:32px;height:13px;line-height:12px;background:#c9a2cd;border-right-width:0px;border-bottom-width:0px"><span>602</span></div>
<div class="c" style="left:930px;top:261px;width:34px;height:13px;line-height:12px;background:#c9a2cd;border-right-width:1px;border-bottom-width:0px"><span>601</span></div>
<div class="c" style="left:833px;top:274px;width:32px;height:13px;line-height:12px;background:#c9a2cd;border-right-width:0px;border-bottom-width:0px"><span>504</span></div>
<div class="c" style="left:865px;top:274px;width:33px;height:13px;line-height:12px;background:#c9a2cd;border-right-width:0px;border-bottom-width:0px"><span>503</span></div>
<div class="c" style="left:898px;top:274px;width:32px;height:13px;line-height:12px;background:#c9a2cd;border-right-width:0px;border-bottom-width:0px"><span>502</span></div>
<div class="c" style="left:930px;top:274px;width:34px;height:13px;line-height:12px;background:#c9a2cd;border-right-width:1px;border-bottom-width:0px"><span>501</span></div>
<div class="c" style="left:833px;top:287px;width:32px;height:13px;line-height:12px;background:#c9a2cd;border-right-width:0px;border-bottom-width:0px"><span>404</span></div>
<div class="c" style="left:865px;top:287px;width:33px;height:13px;line-height:12px;background:#c9a2cd;border-right-width:0px;border-bottom-width:0px"><span>403</span></div>
<div class="c" style="left:898px;top:287px;width:32px;height:13px;line-height:12px;background:#c9a2cd;border-right-width:0px;border-bottom-width:0px"><span>402</span></div>
<div class="c" style="left:930px;top:287px;width:34px;height:13px;line-height:12px;background:#c9a2cd;border-right-width:1px;border-bottom-width:0px"><span>401</span></div>
<div class="c" style="left:833px;top:300px;width:32px;height:13px;line-height:12px;background:#c9a2cd;border-right-width:0px;border-bottom-width:0px"><span>304</span></div>
<div class="c" style="left:865px;top:300px;width:33px;height:13px;line-height:12px;background:#c9a2cd;border-right-width:0px;border-bottom-width:0px"><span>303</span></div>
<div class="c" style="left:898px;top:300px;width:32px;height:13px;line-height:12px;background:#c9a2cd;border-right-width:0px;border-bottom-width:0px"><span>302</span></div>
<div class="c" style="left:930px;top:300px;width:34px;height:13px;line-height:12px;background:#c9a2cd;border-right-width:1px;border-bottom-width:0px"><span>301</span></div>
<div class="c" style="left:833px;top:313px;width:32px;height:13px;line-height:12px;background:#c9a2cd;border-right-width:0px;border-bottom-width:0px"><span>204</span></div>
<div class="c" style="left:865px;top:313px;width:33px;height:13px;line-height:12px;background:#c9a2cd;border-right-width:0px;border-bottom-width:0px"><span>203</span></div>
<div class="c" style="left:898px;top:313px;width:32px;height:13px;line-height:12px;background:#c9a2cd;border-right-width:0px;border-bottom-width:0px"><span>202</span></div>
<div class="c" style="left:930px;top:313px;width:34px;height:13px;line-height:12px;background:#c9a2cd;border-right-width:1px;border-bottom-width:0px"><span>201</span></div>
<div class="c w k" style="left:833px;top:326px;width:32px;height:14px;line-height:12px;background:#ffffff;border-right-width:0px;border-bottom-width:1px"><span>로비</span></div>
<div class="c" style="left:865px;top:326px;width:33px;height:14px;line-height:12px;background:#c9a2cd;border-right-width:0px;border-bottom-width:1px"><span>103</span></div>
<div class="c" style="left:898px;top:326px;width:32px;height:14px;line-height:12px;background:#c9a2cd;border-right-width:0px;border-bottom-width:1px"><span>102</span></div>
<div class="c w k" style="left:930px;top:326px;width:34px;height:14px;line-height:12px;background:#ffffff;border-right-width:1px;border-bottom-width:1px"><span>로비</span></div>
<div class="lh" style="left:833px;top:352px;width:131px;height:14px;line-height:12px"><span>105<i>동</i></span></div>
<div class="lc" style="left:833px;top:365px;width:33px;height:14px;line-height:12px;background:#d3eaf6"><span>4<i>호</i></span></div>
<div class="lc" style="left:833px;top:378px;width:33px;height:14px;line-height:12px;background:#c9a2cd"><span>84A</span></div>
<div class="lc" style="left:865px;top:365px;width:34px;height:14px;line-height:12px;background:#d3eaf6"><span>3<i>호</i></span></div>
<div class="lc" style="left:865px;top:378px;width:34px;height:14px;line-height:12px;background:#c9a2cd"><span>84A</span></div>
<div class="lc" style="left:898px;top:365px;width:33px;height:14px;line-height:12px;background:#d3eaf6"><span>2<i>호</i></span></div>
<div class="lc" style="left:898px;top:378px;width:33px;height:14px;line-height:12px;background:#c9a2cd"><span>84A</span></div>
<div class="lc" style="left:930px;top:365px;width:34px;height:14px;line-height:12px;background:#d3eaf6"><span>1<i>호</i></span></div>
<div class="lc" style="left:930px;top:378px;width:34px;height:14px;line-height:12px;background:#c9a2cd"><span>84A</span></div>
<div class="c" style="left:1054px;top:105px;width:32px;height:13px;line-height:12px;background:#f7ef7b;border-right-width:0px;border-bottom-width:0px"><span>1802</span></div>
<div class="c" style="left:1086px;top:105px;width:34px;height:13px;line-height:12px;background:#f7ef7b;border-right-width:1px;border-bottom-width:0px"><span>1801</span></div>
<div class="c" style="left:1054px;top:118px;width:32px;height:13px;line-height:12px;background:#f7ef7b;border-right-width:0px;border-bottom-width:0px"><span>1702</span></div>
<div class="c" style="left:1086px;top:118px;width:34px;height:13px;line-height:12px;background:#f7ef7b;border-right-width:1px;border-bottom-width:0px"><span>1701</span></div>
<div class="c" style="left:1054px;top:131px;width:32px;height:13px;line-height:12px;background:#f7ef7b;border-right-width:0px;border-bottom-width:0px"><span>1602</span></div>
<div class="c" style="left:1086px;top:131px;width:34px;height:13px;line-height:12px;background:#f7ef7b;border-right-width:1px;border-bottom-width:0px"><span>1601</span></div>
<div class="c" style="left:1054px;top:144px;width:32px;height:13px;line-height:12px;background:#f7ef7b;border-right-width:0px;border-bottom-width:0px"><span>1502</span></div>
<div class="c" style="left:1086px;top:144px;width:34px;height:13px;line-height:12px;background:#f7ef7b;border-right-width:1px;border-bottom-width:0px"><span>1501</span></div>
<div class="c" style="left:1054px;top:157px;width:32px;height:13px;line-height:12px;background:#f7ef7b;border-right-width:0px;border-bottom-width:0px"><span>1402</span></div>
<div class="c" style="left:1086px;top:157px;width:34px;height:13px;line-height:12px;background:#f7ef7b;border-right-width:1px;border-bottom-width:0px"><span>1401</span></div>
<div class="c" style="left:1054px;top:170px;width:32px;height:13px;line-height:12px;background:#f7ef7b;border-right-width:0px;border-bottom-width:0px"><span>1302</span></div>
<div class="c" style="left:1086px;top:170px;width:34px;height:13px;line-height:12px;background:#f7ef7b;border-right-width:1px;border-bottom-width:0px"><span>1301</span></div>
<div class="c" style="left:1054px;top:183px;width:32px;height:13px;line-height:12px;background:#f7ef7b;border-right-width:0px;border-bottom-width:0px"><span>1202</span></div>
<div class="c" style="left:1086px;top:183px;width:34px;height:13px;line-height:12px;background:#f7ef7b;border-right-width:1px;border-bottom-width:0px"><span>1201</span></div>
<div class="c" style="left:1054px;top:196px;width:32px;height:13px;line-height:12px;background:#f7ef7b;border-right-width:0px;border-bottom-width:0px"><span>1102</span></div>
<div class="c" style="left:1086px;top:196px;width:34px;height:13px;line-height:12px;background:#f7ef7b;border-right-width:1px;border-bottom-width:0px"><span>1101</span></div>
<div class="c" style="left:1054px;top:209px;width:32px;height:13px;line-height:12px;background:#f7ef7b;border-right-width:0px;border-bottom-width:0px"><span>1002</span></div>
<div class="c" style="left:1086px;top:209px;width:34px;height:13px;line-height:12px;background:#f7ef7b;border-right-width:1px;border-bottom-width:0px"><span>1001</span></div>
<div class="c" style="left:1054px;top:222px;width:32px;height:13px;line-height:12px;background:#f7ef7b;border-right-width:0px;border-bottom-width:0px"><span>902</span></div>
<div class="c" style="left:1086px;top:222px;width:34px;height:13px;line-height:12px;background:#f7ef7b;border-right-width:1px;border-bottom-width:0px"><span>901</span></div>
<div class="c" style="left:1054px;top:235px;width:32px;height:13px;line-height:12px;background:#f7ef7b;border-right-width:0px;border-bottom-width:0px"><span>802</span></div>
<div class="c" style="left:1086px;top:235px;width:34px;height:13px;line-height:12px;background:#f7ef7b;border-right-width:1px;border-bottom-width:0px"><span>801</span></div>
<div class="c" style="left:1054px;top:248px;width:32px;height:13px;line-height:12px;background:#f7ef7b;border-right-width:0px;border-bottom-width:0px"><span>702</span></div>
<div class="c" style="left:1086px;top:248px;width:34px;height:13px;line-height:12px;background:#f7ef7b;border-right-width:1px;border-bottom-width:0px"><span>701</span></div>
<div class="c" style="left:1054px;top:261px;width:32px;height:13px;line-height:12px;background:#f7ef7b;border-right-width:0px;border-bottom-width:0px"><span>602</span></div>
<div class="c" style="left:1086px;top:261px;width:34px;height:13px;line-height:12px;background:#f7ef7b;border-right-width:1px;border-bottom-width:0px"><span>601</span></div>
<div class="c" style="left:1054px;top:274px;width:32px;height:13px;line-height:12px;background:#f7ef7b;border-right-width:0px;border-bottom-width:0px"><span>502</span></div>
<div class="c" style="left:1086px;top:274px;width:34px;height:13px;line-height:12px;background:#f7ef7b;border-right-width:1px;border-bottom-width:0px"><span>501</span></div>
<div class="c" style="left:1054px;top:287px;width:32px;height:13px;line-height:12px;background:#f7ef7b;border-right-width:0px;border-bottom-width:0px"><span>402</span></div>
<div class="c" style="left:1086px;top:287px;width:34px;height:13px;line-height:12px;background:#f7ef7b;border-right-width:1px;border-bottom-width:0px"><span>401</span></div>
<div class="c" style="left:1054px;top:300px;width:32px;height:13px;line-height:12px;background:#f7ef7b;border-right-width:0px;border-bottom-width:0px"><span>302</span></div>
<div class="c" style="left:1086px;top:300px;width:34px;height:13px;line-height:12px;background:#f7ef7b;border-right-width:1px;border-bottom-width:0px"><span>301</span></div>
<div class="c" style="left:1054px;top:313px;width:32px;height:13px;line-height:12px;background:#f7ef7b;border-right-width:0px;border-bottom-width:0px"><span>202</span></div>
<div class="c" style="left:1086px;top:313px;width:34px;height:13px;line-height:12px;background:#f7ef7b;border-right-width:1px;border-bottom-width:0px"><span>201</span></div>
<div class="c W" style="left:1054px;top:326px;width:32px;height:14px;line-height:12px;background:#ffffff;border-right-width:0px;border-bottom-width:1px"><span>102</span></div>
<div class="c w k" style="left:1086px;top:326px;width:34px;height:14px;line-height:12px;background:#ffffff;border-right-width:1px;border-bottom-width:1px"><span>로비</span></div>
<div class="lh" style="left:1054px;top:352px;width:66px;height:14px;line-height:12px"><span>106<i>동</i></span></div>
<div class="lc" style="left:1054px;top:365px;width:33px;height:14px;line-height:12px;background:#d3eaf6"><span>2<i>호</i></span></div>
<div class="lc" style="left:1054px;top:378px;width:33px;height:14px;line-height:12px;background:#f7ef7b"><span>59A</span></div>
<div class="lc" style="left:1086px;top:365px;width:34px;height:14px;line-height:12px;background:#d3eaf6"><span>1<i>호</i></span></div>
<div class="lc" style="left:1086px;top:378px;width:34px;height:14px;line-height:12px;background:#f7ef7b"><span>59A</span></div>
<div class="c" style="left:125px;top:524px;width:33px;height:13px;line-height:11px;background:#eed8e9;border-right-width:0px;border-bottom-width:0px"><span>2404</span></div>
<div class="c W" style="left:158px;top:524px;width:32px;height:13px;line-height:11px;background:#ffffff;border-right-width:0px;border-bottom-width:0px"><span>2403</span></div>
<div class="c" style="left:190px;top:524px;width:32px;height:13px;line-height:11px;background:#c9a2cd;border-right-width:0px;border-bottom-width:0px"><span>2402</span></div>
<div class="c" style="left:222px;top:524px;width:34px;height:13px;line-height:11px;background:#c9a2cd;border-right-width:1px;border-bottom-width:0px"><span>2401</span></div>
<div class="c" style="left:125px;top:537px;width:33px;height:13px;line-height:11px;background:#eed8e9;border-right-width:0px;border-bottom-width:0px"><span>2304</span></div>
<div class="c W" style="left:158px;top:537px;width:32px;height:13px;line-height:11px;background:#ffffff;border-right-width:0px;border-bottom-width:0px"><span>2303</span></div>
<div class="c W" style="left:190px;top:537px;width:32px;height:13px;line-height:11px;background:#ffffff;border-right-width:0px;border-bottom-width:0px"><span>2302</span></div>
<div class="c W" style="left:222px;top:537px;width:34px;height:13px;line-height:11px;background:#ffffff;border-right-width:1px;border-bottom-width:0px"><span>2301</span></div>
<div class="c" style="left:125px;top:550px;width:33px;height:12px;line-height:10px;background:#eed8e9;border-right-width:0px;border-bottom-width:0px"><span>2204</span></div>
<div class="c W" style="left:158px;top:550px;width:32px;height:12px;line-height:10px;background:#ffffff;border-right-width:0px;border-bottom-width:0px"><span>2203</span></div>
<div class="c W" style="left:190px;top:550px;width:32px;height:12px;line-height:10px;background:#ffffff;border-right-width:0px;border-bottom-width:0px"><span>2202</span></div>
<div class="c W" style="left:222px;top:550px;width:34px;height:12px;line-height:10px;background:#ffffff;border-right-width:1px;border-bottom-width:0px"><span>2201</span></div>
<div class="c" style="left:125px;top:562px;width:33px;height:13px;line-height:11px;background:#eed8e9;border-right-width:0px;border-bottom-width:0px"><span>2104</span></div>
<div class="c W" style="left:158px;top:562px;width:32px;height:13px;line-height:11px;background:#ffffff;border-right-width:0px;border-bottom-width:0px"><span>2103</span></div>
<div class="c W" style="left:190px;top:562px;width:32px;height:13px;line-height:11px;background:#ffffff;border-right-width:0px;border-bottom-width:0px"><span>2102</span></div>
<div class="c W" style="left:222px;top:562px;width:34px;height:13px;line-height:11px;background:#ffffff;border-right-width:1px;border-bottom-width:0px"><span>2101</span></div>
<div class="c" style="left:125px;top:575px;width:33px;height:13px;line-height:11px;background:#eed8e9;border-right-width:0px;border-bottom-width:0px"><span>2004</span></div>
<div class="c W" style="left:158px;top:575px;width:32px;height:13px;line-height:11px;background:#ffffff;border-right-width:0px;border-bottom-width:0px"><span>2003</span></div>
<div class="c W" style="left:190px;top:575px;width:32px;height:13px;line-height:11px;background:#ffffff;border-right-width:0px;border-bottom-width:0px"><span>2002</span></div>
<div class="c W" style="left:222px;top:575px;width:34px;height:13px;line-height:11px;background:#ffffff;border-right-width:1px;border-bottom-width:0px"><span>2001</span></div>
<div class="c" style="left:125px;top:588px;width:33px;height:13px;line-height:11px;background:#eed8e9;border-right-width:0px;border-bottom-width:0px"><span>1904</span></div>
<div class="c W" style="left:158px;top:588px;width:32px;height:13px;line-height:11px;background:#ffffff;border-right-width:0px;border-bottom-width:0px"><span>1903</span></div>
<div class="c W" style="left:190px;top:588px;width:32px;height:13px;line-height:11px;background:#ffffff;border-right-width:0px;border-bottom-width:0px"><span>1902</span></div>
<div class="c W" style="left:222px;top:588px;width:34px;height:13px;line-height:11px;background:#ffffff;border-right-width:1px;border-bottom-width:0px"><span>1901</span></div>
<div class="c W" style="left:93px;top:601px;width:32px;height:13px;line-height:11px;background:#ffffff;border-right-width:0px;border-bottom-width:0px"><span>1805</span></div>
<div class="c" style="left:125px;top:601px;width:33px;height:13px;line-height:11px;background:#eed8e9;border-right-width:0px;border-bottom-width:0px"><span>1804</span></div>
<div class="c W" style="left:158px;top:601px;width:32px;height:13px;line-height:11px;background:#ffffff;border-right-width:0px;border-bottom-width:0px"><span>1803</span></div>
<div class="c W" style="left:190px;top:601px;width:32px;height:13px;line-height:11px;background:#ffffff;border-right-width:0px;border-bottom-width:0px"><span>1802</span></div>
<div class="c W" style="left:222px;top:601px;width:34px;height:13px;line-height:11px;background:#ffffff;border-right-width:1px;border-bottom-width:0px"><span>1801</span></div>
<div class="c W" style="left:93px;top:614px;width:32px;height:13px;line-height:11px;background:#ffffff;border-right-width:0px;border-bottom-width:0px"><span>1705</span></div>
<div class="c" style="left:125px;top:614px;width:33px;height:13px;line-height:11px;background:#eed8e9;border-right-width:0px;border-bottom-width:0px"><span>1704</span></div>
<div class="c W" style="left:158px;top:614px;width:32px;height:13px;line-height:11px;background:#ffffff;border-right-width:0px;border-bottom-width:0px"><span>1703</span></div>
<div class="c W" style="left:190px;top:614px;width:32px;height:13px;line-height:11px;background:#ffffff;border-right-width:0px;border-bottom-width:0px"><span>1702</span></div>
<div class="c W" style="left:222px;top:614px;width:34px;height:13px;line-height:11px;background:#ffffff;border-right-width:1px;border-bottom-width:0px"><span>1701</span></div>
<div class="c W" style="left:93px;top:627px;width:32px;height:13px;line-height:11px;background:#ffffff;border-right-width:0px;border-bottom-width:0px"><span>1605</span></div>
<div class="c" style="left:125px;top:627px;width:33px;height:13px;line-height:11px;background:#eed8e9;border-right-width:0px;border-bottom-width:0px"><span>1604</span></div>
<div class="c W" style="left:158px;top:627px;width:32px;height:13px;line-height:11px;background:#ffffff;border-right-width:0px;border-bottom-width:0px"><span>1603</span></div>
<div class="c W" style="left:190px;top:627px;width:32px;height:13px;line-height:11px;background:#ffffff;border-right-width:0px;border-bottom-width:0px"><span>1602</span></div>
<div class="c W" style="left:222px;top:627px;width:34px;height:13px;line-height:11px;background:#ffffff;border-right-width:1px;border-bottom-width:0px"><span>1601</span></div>
<div class="c W" style="left:93px;top:640px;width:32px;height:13px;line-height:11px;background:#ffffff;border-right-width:0px;border-bottom-width:0px"><span>1505</span></div>
<div class="c" style="left:125px;top:640px;width:33px;height:13px;line-height:11px;background:#eed8e9;border-right-width:0px;border-bottom-width:0px"><span>1504</span></div>
<div class="c W" style="left:158px;top:640px;width:32px;height:13px;line-height:11px;background:#ffffff;border-right-width:0px;border-bottom-width:0px"><span>1503</span></div>
<div class="c W" style="left:190px;top:640px;width:32px;height:13px;line-height:11px;background:#ffffff;border-right-width:0px;border-bottom-width:0px"><span>1502</span></div>
<div class="c W" style="left:222px;top:640px;width:34px;height:13px;line-height:11px;background:#ffffff;border-right-width:1px;border-bottom-width:0px"><span>1501</span></div>
<div class="c W" style="left:93px;top:653px;width:32px;height:13px;line-height:11px;background:#ffffff;border-right-width:0px;border-bottom-width:0px"><span>1405</span></div>
<div class="c" style="left:125px;top:653px;width:33px;height:13px;line-height:11px;background:#eed8e9;border-right-width:0px;border-bottom-width:0px"><span>1404</span></div>
<div class="c W" style="left:158px;top:653px;width:32px;height:13px;line-height:11px;background:#ffffff;border-right-width:0px;border-bottom-width:0px"><span>1403</span></div>
<div class="c W" style="left:190px;top:653px;width:32px;height:13px;line-height:11px;background:#ffffff;border-right-width:0px;border-bottom-width:0px"><span>1402</span></div>
<div class="c W" style="left:222px;top:653px;width:34px;height:13px;line-height:11px;background:#ffffff;border-right-width:1px;border-bottom-width:0px"><span>1401</span></div>
<div class="c W" style="left:93px;top:666px;width:32px;height:13px;line-height:11px;background:#ffffff;border-right-width:0px;border-bottom-width:0px"><span>1305</span></div>
<div class="c" style="left:125px;top:666px;width:33px;height:13px;line-height:11px;background:#eed8e9;border-right-width:0px;border-bottom-width:0px"><span>1304</span></div>
<div class="c W" style="left:158px;top:666px;width:32px;height:13px;line-height:11px;background:#ffffff;border-right-width:0px;border-bottom-width:0px"><span>1303</span></div>
<div class="c W" style="left:190px;top:666px;width:32px;height:13px;line-height:11px;background:#ffffff;border-right-width:0px;border-bottom-width:0px"><span>1302</span></div>
<div class="c W" style="left:222px;top:666px;width:34px;height:13px;line-height:11px;background:#ffffff;border-right-width:1px;border-bottom-width:0px"><span>1301</span></div>
<div class="c W" style="left:93px;top:679px;width:32px;height:13px;line-height:11px;background:#ffffff;border-right-width:0px;border-bottom-width:0px"><span>1205</span></div>
<div class="c" style="left:125px;top:679px;width:33px;height:13px;line-height:11px;background:#eed8e9;border-right-width:0px;border-bottom-width:0px"><span>1204</span></div>
<div class="c W" style="left:158px;top:679px;width:32px;height:13px;line-height:11px;background:#ffffff;border-right-width:0px;border-bottom-width:0px"><span>1203</span></div>
<div class="c W" style="left:190px;top:679px;width:32px;height:13px;line-height:11px;background:#ffffff;border-right-width:0px;border-bottom-width:0px"><span>1202</span></div>
<div class="c W" style="left:222px;top:679px;width:34px;height:13px;line-height:11px;background:#ffffff;border-right-width:1px;border-bottom-width:0px"><span>1201</span></div>
<div class="c W" style="left:93px;top:692px;width:32px;height:13px;line-height:11px;background:#ffffff;border-right-width:0px;border-bottom-width:0px"><span>1105</span></div>
<div class="c" style="left:125px;top:692px;width:33px;height:13px;line-height:11px;background:#eed8e9;border-right-width:0px;border-bottom-width:0px"><span>1104</span></div>
<div class="c W" style="left:158px;top:692px;width:32px;height:13px;line-height:11px;background:#ffffff;border-right-width:0px;border-bottom-width:0px"><span>1103</span></div>
<div class="c W" style="left:190px;top:692px;width:32px;height:13px;line-height:11px;background:#ffffff;border-right-width:0px;border-bottom-width:0px"><span>1102</span></div>
<div class="c W" style="left:222px;top:692px;width:34px;height:13px;line-height:11px;background:#ffffff;border-right-width:1px;border-bottom-width:0px"><span>1101</span></div>
<div class="c W" style="left:93px;top:705px;width:32px;height:13px;line-height:11px;background:#ffffff;border-right-width:0px;border-bottom-width:0px"><span>1005</span></div>
<div class="c" style="left:125px;top:705px;width:33px;height:13px;line-height:11px;background:#eed8e9;border-right-width:0px;border-bottom-width:0px"><span>1004</span></div>
<div class="c W" style="left:158px;top:705px;width:32px;height:13px;line-height:11px;background:#ffffff;border-right-width:0px;border-bottom-width:0px"><span>1003</span></div>
<div class="c W" style="left:190px;top:705px;width:32px;height:13px;line-height:11px;background:#ffffff;border-right-width:0px;border-bottom-width:0px"><span>1002</span></div>
<div class="c W" style="left:222px;top:705px;width:34px;height:13px;line-height:11px;background:#ffffff;border-right-width:1px;border-bottom-width:0px"><span>1001</span></div>
<div class="c" style="left:93px;top:718px;width:32px;height:13px;line-height:11px;background:#c9a2cd;border-right-width:0px;border-bottom-width:0px"><span>905</span></div>
<div class="c" style="left:125px;top:718px;width:33px;height:13px;line-height:11px;background:#eed8e9;border-right-width:0px;border-bottom-width:0px"><span>904</span></div>
<div class="c W" style="left:158px;top:718px;width:32px;height:13px;line-height:11px;background:#ffffff;border-right-width:0px;border-bottom-width:0px"><span>903</span></div>
<div class="c W" style="left:190px;top:718px;width:32px;height:13px;line-height:11px;background:#ffffff;border-right-width:0px;border-bottom-width:0px"><span>902</span></div>
<div class="c W" style="left:222px;top:718px;width:34px;height:13px;line-height:11px;background:#ffffff;border-right-width:1px;border-bottom-width:0px"><span>901</span></div>
<div class="c" style="left:93px;top:731px;width:32px;height:13px;line-height:11px;background:#c9a2cd;border-right-width:0px;border-bottom-width:0px"><span>805</span></div>
<div class="c" style="left:125px;top:731px;width:33px;height:13px;line-height:11px;background:#eed8e9;border-right-width:0px;border-bottom-width:0px"><span>804</span></div>
<div class="c W" style="left:158px;top:731px;width:32px;height:13px;line-height:11px;background:#ffffff;border-right-width:0px;border-bottom-width:0px"><span>803</span></div>
<div class="c W" style="left:190px;top:731px;width:32px;height:13px;line-height:11px;background:#ffffff;border-right-width:0px;border-bottom-width:0px"><span>802</span></div>
<div class="c W" style="left:222px;top:731px;width:34px;height:13px;line-height:11px;background:#ffffff;border-right-width:1px;border-bottom-width:0px"><span>801</span></div>
<div class="c" style="left:93px;top:744px;width:32px;height:13px;line-height:11px;background:#c9a2cd;border-right-width:0px;border-bottom-width:0px"><span>705</span></div>
<div class="c" style="left:125px;top:744px;width:33px;height:13px;line-height:11px;background:#eed8e9;border-right-width:0px;border-bottom-width:0px"><span>704</span></div>
<div class="c" style="left:158px;top:744px;width:32px;height:13px;line-height:11px;background:#c9a2cd;border-right-width:0px;border-bottom-width:0px"><span>703</span></div>
<div class="c W" style="left:190px;top:744px;width:32px;height:13px;line-height:11px;background:#ffffff;border-right-width:0px;border-bottom-width:0px"><span>702</span></div>
<div class="c W" style="left:222px;top:744px;width:34px;height:13px;line-height:11px;background:#ffffff;border-right-width:1px;border-bottom-width:0px"><span>701</span></div>
<div class="c" style="left:93px;top:757px;width:32px;height:13px;line-height:11px;background:#c9a2cd;border-right-width:0px;border-bottom-width:0px"><span>605</span></div>
<div class="c" style="left:125px;top:757px;width:33px;height:13px;line-height:11px;background:#eed8e9;border-right-width:0px;border-bottom-width:0px"><span>604</span></div>
<div class="c" style="left:158px;top:757px;width:32px;height:13px;line-height:11px;background:#c9a2cd;border-right-width:0px;border-bottom-width:0px"><span>603</span></div>
<div class="c" style="left:190px;top:757px;width:32px;height:13px;line-height:11px;background:#c9a2cd;border-right-width:0px;border-bottom-width:0px"><span>602</span></div>
<div class="c" style="left:222px;top:757px;width:34px;height:13px;line-height:11px;background:#c9a2cd;border-right-width:1px;border-bottom-width:0px"><span>601</span></div>
<div class="c" style="left:93px;top:770px;width:32px;height:13px;line-height:11px;background:#c9a2cd;border-right-width:0px;border-bottom-width:0px"><span>505</span></div>
<div class="c" style="left:125px;top:770px;width:33px;height:13px;line-height:11px;background:#eed8e9;border-right-width:0px;border-bottom-width:0px"><span>504</span></div>
<div class="c W" style="left:158px;top:770px;width:32px;height:13px;line-height:11px;background:#ffffff;border-right-width:0px;border-bottom-width:0px"><span>503</span></div>
<div class="c" style="left:190px;top:770px;width:32px;height:13px;line-height:11px;background:#c9a2cd;border-right-width:0px;border-bottom-width:0px"><span>502</span></div>
<div class="c" style="left:222px;top:770px;width:34px;height:13px;line-height:11px;background:#c9a2cd;border-right-width:1px;border-bottom-width:0px"><span>501</span></div>
<div class="c" style="left:93px;top:783px;width:32px;height:13px;line-height:11px;background:#c9a2cd;border-right-width:0px;border-bottom-width:0px"><span>405</span></div>
<div class="c" style="left:125px;top:783px;width:33px;height:13px;line-height:11px;background:#eed8e9;border-right-width:0px;border-bottom-width:0px"><span>404</span></div>
<div class="c" style="left:158px;top:783px;width:32px;height:13px;line-height:11px;background:#c9a2cd;border-right-width:0px;border-bottom-width:0px"><span>403</span></div>
<div class="c" style="left:190px;top:783px;width:32px;height:13px;line-height:11px;background:#c9a2cd;border-right-width:0px;border-bottom-width:0px"><span>402</span></div>
<div class="c" style="left:222px;top:783px;width:34px;height:13px;line-height:11px;background:#c9a2cd;border-right-width:1px;border-bottom-width:0px"><span>401</span></div>
<div class="c" style="left:93px;top:796px;width:32px;height:13px;line-height:11px;background:#c9a2cd;border-right-width:0px;border-bottom-width:0px"><span>305</span></div>
<div class="c" style="left:125px;top:796px;width:33px;height:13px;line-height:11px;background:#eed8e9;border-right-width:0px;border-bottom-width:0px"><span>304</span></div>
<div class="c" style="left:158px;top:796px;width:32px;height:13px;line-height:11px;background:#c9a2cd;border-right-width:0px;border-bottom-width:0px"><span>303</span></div>
<div class="c" style="left:190px;top:796px;width:32px;height:13px;line-height:11px;background:#c9a2cd;border-right-width:0px;border-bottom-width:0px"><span>302</span></div>
<div class="c" style="left:222px;top:796px;width:34px;height:13px;line-height:11px;background:#c9a2cd;border-right-width:1px;border-bottom-width:0px"><span>301</span></div>
<div class="c" style="left:93px;top:809px;width:32px;height:13px;line-height:11px;background:#c9a2cd;border-right-width:0px;border-bottom-width:0px"><span>205</span></div>
<div class="c" style="left:125px;top:809px;width:33px;height:13px;line-height:11px;background:#eed8e9;border-right-width:0px;border-bottom-width:0px"><span>204</span></div>
<div class="c" style="left:158px;top:809px;width:32px;height:13px;line-height:11px;background:#c9a2cd;border-right-width:0px;border-bottom-width:0px"><span>203</span></div>
<div class="c" style="left:190px;top:809px;width:32px;height:13px;line-height:11px;background:#c9a2cd;border-right-width:0px;border-bottom-width:0px"><span>202</span></div>
<div class="c" style="left:222px;top:809px;width:34px;height:13px;line-height:11px;background:#c9a2cd;border-right-width:1px;border-bottom-width:0px"><span>201</span></div>
<div class="c w k" style="left:93px;top:822px;width:32px;height:14px;line-height:11px;background:#ffffff;border-right-width:0px;border-bottom-width:1px"><span>로비</span></div>
<div class="c" style="left:125px;top:822px;width:33px;height:14px;line-height:11px;background:#eed8e9;border-right-width:0px;border-bottom-width:1px"><span>104</span></div>
<div class="c" style="left:158px;top:822px;width:32px;height:14px;line-height:11px;background:#c9a2cd;border-right-width:0px;border-bottom-width:1px"><span>103</span></div>
<div class="c" style="left:190px;top:822px;width:32px;height:14px;line-height:11px;background:#c9a2cd;border-right-width:0px;border-bottom-width:1px"><span>102</span></div>
<div class="c w k" style="left:222px;top:822px;width:34px;height:14px;line-height:11px;background:#ffffff;border-right-width:1px;border-bottom-width:1px"><span>로비</span></div>
<div class="lh" style="left:93px;top:848px;width:163px;height:14px;line-height:12px"><span>107<i>동</i></span></div>
<div class="lc" style="left:93px;top:861px;width:33px;height:14px;line-height:12px;background:#d3eaf6"><span>5<i>호</i></span></div>
<div class="lc" style="left:93px;top:874px;width:33px;height:14px;line-height:12px;background:#c9a2cd"><span>84A</span></div>
<div class="lc" style="left:125px;top:861px;width:34px;height:14px;line-height:12px;background:#d3eaf6"><span>4<i>호</i></span></div>
<div class="lc" style="left:125px;top:874px;width:34px;height:14px;line-height:12px;background:#eed8e9"><span>84B</span></div>
<div class="lc" style="left:158px;top:861px;width:33px;height:14px;line-height:12px;background:#d3eaf6"><span>3<i>호</i></span></div>
<div class="lc" style="left:158px;top:874px;width:33px;height:14px;line-height:12px;background:#c9a2cd"><span>84A</span></div>
<div class="lc" style="left:190px;top:861px;width:33px;height:14px;line-height:12px;background:#d3eaf6"><span>2<i>호</i></span></div>
<div class="lc" style="left:190px;top:874px;width:33px;height:14px;line-height:12px;background:#c9a2cd"><span>84A</span></div>
<div class="lc" style="left:222px;top:861px;width:34px;height:14px;line-height:12px;background:#d3eaf6"><span>1<i>호</i></span></div>
<div class="lc" style="left:222px;top:874px;width:34px;height:14px;line-height:12px;background:#c9a2cd"><span>84A</span></div>
<div class="c W" style="left:280px;top:459px;width:32px;height:13px;line-height:11px;background:#ffffff;border-right-width:0px;border-bottom-width:0px"><span>2904</span></div>
<div class="c W" style="left:312px;top:459px;width:33px;height:13px;line-height:11px;background:#ffffff;border-right-width:0px;border-bottom-width:0px"><span>2903</span></div>
<div class="c W" style="left:345px;top:459px;width:32px;height:13px;line-height:11px;background:#ffffff;border-right-width:0px;border-bottom-width:0px"><span>2902</span></div>
<div class="c W" style="left:377px;top:459px;width:34px;height:13px;line-height:11px;background:#ffffff;border-right-width:1px;border-bottom-width:0px"><span>2901</span></div>
<div class="c W" style="left:280px;top:472px;width:32px;height:13px;line-height:11px;background:#ffffff;border-right-width:0px;border-bottom-width:0px"><span>2804</span></div>
<div class="c W" style="left:312px;top:472px;width:33px;height:13px;line-height:11px;background:#ffffff;border-right-width:0px;border-bottom-width:0px"><span>2803</span></div>
<div class="c W" style="left:345px;top:472px;width:32px;height:13px;line-height:11px;background:#ffffff;border-right-width:0px;border-bottom-width:0px"><span>2802</span></div>
<div class="c W" style="left:377px;top:472px;width:34px;height:13px;line-height:11px;background:#ffffff;border-right-width:1px;border-bottom-width:0px"><span>2801</span></div>
<div class="c W" style="left:280px;top:485px;width:32px;height:13px;line-height:11px;background:#ffffff;border-right-width:0px;border-bottom-width:0px"><span>2704</span></div>
<div class="c W" style="left:312px;top:485px;width:33px;height:13px;line-height:11px;background:#ffffff;border-right-width:0px;border-bottom-width:0px"><span>2703</span></div>
<div class="c W" style="left:345px;top:485px;width:32px;height:13px;line-height:11px;background:#ffffff;border-right-width:0px;border-bottom-width:0px"><span>2702</span></div>
<div class="c W" style="left:377px;top:485px;width:34px;height:13px;line-height:11px;background:#ffffff;border-right-width:1px;border-bottom-width:0px"><span>2701</span></div>
<div class="c W" style="left:280px;top:498px;width:32px;height:13px;line-height:11px;background:#ffffff;border-right-width:0px;border-bottom-width:0px"><span>2604</span></div>
<div class="c W" style="left:312px;top:498px;width:33px;height:13px;line-height:11px;background:#ffffff;border-right-width:0px;border-bottom-width:0px"><span>2603</span></div>
<div class="c W" style="left:345px;top:498px;width:32px;height:13px;line-height:11px;background:#ffffff;border-right-width:0px;border-bottom-width:0px"><span>2602</span></div>
<div class="c W" style="left:377px;top:498px;width:34px;height:13px;line-height:11px;background:#ffffff;border-right-width:1px;border-bottom-width:0px"><span>2601</span></div>
<div class="c W" style="left:280px;top:511px;width:32px;height:13px;line-height:11px;background:#ffffff;border-right-width:0px;border-bottom-width:0px"><span>2504</span></div>
<div class="c W" style="left:312px;top:511px;width:33px;height:13px;line-height:11px;background:#ffffff;border-right-width:0px;border-bottom-width:0px"><span>2503</span></div>
<div class="c W" style="left:345px;top:511px;width:32px;height:13px;line-height:11px;background:#ffffff;border-right-width:0px;border-bottom-width:0px"><span>2502</span></div>
<div class="c W" style="left:377px;top:511px;width:34px;height:13px;line-height:11px;background:#ffffff;border-right-width:1px;border-bottom-width:0px"><span>2501</span></div>
<div class="c W" style="left:280px;top:524px;width:32px;height:13px;line-height:11px;background:#ffffff;border-right-width:0px;border-bottom-width:0px"><span>2404</span></div>
<div class="c W" style="left:312px;top:524px;width:33px;height:13px;line-height:11px;background:#ffffff;border-right-width:0px;border-bottom-width:0px"><span>2403</span></div>
<div class="c W" style="left:345px;top:524px;width:32px;height:13px;line-height:11px;background:#ffffff;border-right-width:0px;border-bottom-width:0px"><span>2402</span></div>
<div class="c W" style="left:377px;top:524px;width:34px;height:13px;line-height:11px;background:#ffffff;border-right-width:1px;border-bottom-width:0px"><span>2401</span></div>
<div class="c W" style="left:280px;top:537px;width:32px;height:13px;line-height:11px;background:#ffffff;border-right-width:0px;border-bottom-width:0px"><span>2304</span></div>
<div class="c W" style="left:312px;top:537px;width:33px;height:13px;line-height:11px;background:#ffffff;border-right-width:0px;border-bottom-width:0px"><span>2303</span></div>
<div class="c W" style="left:345px;top:537px;width:32px;height:13px;line-height:11px;background:#ffffff;border-right-width:0px;border-bottom-width:0px"><span>2302</span></div>
<div class="c W" style="left:377px;top:537px;width:34px;height:13px;line-height:11px;background:#ffffff;border-right-width:1px;border-bottom-width:0px"><span>2301</span></div>
<div class="c W" style="left:280px;top:550px;width:32px;height:12px;line-height:10px;background:#ffffff;border-right-width:0px;border-bottom-width:0px"><span>2204</span></div>
<div class="c W" style="left:312px;top:550px;width:33px;height:12px;line-height:10px;background:#ffffff;border-right-width:0px;border-bottom-width:0px"><span>2203</span></div>
<div class="c W" style="left:345px;top:550px;width:32px;height:12px;line-height:10px;background:#ffffff;border-right-width:0px;border-bottom-width:0px"><span>2202</span></div>
<div class="c W" style="left:377px;top:550px;width:34px;height:12px;line-height:10px;background:#ffffff;border-right-width:1px;border-bottom-width:0px"><span>2201</span></div>
<div class="c W" style="left:280px;top:562px;width:32px;height:13px;line-height:11px;background:#ffffff;border-right-width:0px;border-bottom-width:0px"><span>2104</span></div>
<div class="c W" style="left:312px;top:562px;width:33px;height:13px;line-height:11px;background:#ffffff;border-right-width:0px;border-bottom-width:0px"><span>2103</span></div>
<div class="c W" style="left:345px;top:562px;width:32px;height:13px;line-height:11px;background:#ffffff;border-right-width:0px;border-bottom-width:0px"><span>2102</span></div>
<div class="c W" style="left:377px;top:562px;width:34px;height:13px;line-height:11px;background:#ffffff;border-right-width:1px;border-bottom-width:0px"><span>2101</span></div>
<div class="c W" style="left:280px;top:575px;width:32px;height:13px;line-height:11px;background:#ffffff;border-right-width:0px;border-bottom-width:0px"><span>2004</span></div>
<div class="c W" style="left:312px;top:575px;width:33px;height:13px;line-height:11px;background:#ffffff;border-right-width:0px;border-bottom-width:0px"><span>2003</span></div>
<div class="c W" style="left:345px;top:575px;width:32px;height:13px;line-height:11px;background:#ffffff;border-right-width:0px;border-bottom-width:0px"><span>2002</span></div>
<div class="c W" style="left:377px;top:575px;width:34px;height:13px;line-height:11px;background:#ffffff;border-right-width:1px;border-bottom-width:0px"><span>2001</span></div>
<div class="c W" style="left:280px;top:588px;width:32px;height:13px;line-height:11px;background:#ffffff;border-right-width:0px;border-bottom-width:0px"><span>1904</span></div>
<div class="c W" style="left:312px;top:588px;width:33px;height:13px;line-height:11px;background:#ffffff;border-right-width:0px;border-bottom-width:0px"><span>1903</span></div>
<div class="c W" style="left:345px;top:588px;width:32px;height:13px;line-height:11px;background:#ffffff;border-right-width:0px;border-bottom-width:0px"><span>1902</span></div>
<div class="c W" style="left:377px;top:588px;width:34px;height:13px;line-height:11px;background:#ffffff;border-right-width:1px;border-bottom-width:0px"><span>1901</span></div>
<div class="c W" style="left:280px;top:601px;width:32px;height:13px;line-height:11px;background:#ffffff;border-right-width:0px;border-bottom-width:0px"><span>1804</span></div>
<div class="c W" style="left:312px;top:601px;width:33px;height:13px;line-height:11px;background:#ffffff;border-right-width:0px;border-bottom-width:0px"><span>1803</span></div>
<div class="c W" style="left:345px;top:601px;width:32px;height:13px;line-height:11px;background:#ffffff;border-right-width:0px;border-bottom-width:0px"><span>1802</span></div>
<div class="c W" style="left:377px;top:601px;width:34px;height:13px;line-height:11px;background:#ffffff;border-right-width:1px;border-bottom-width:0px"><span>1801</span></div>
<div class="c W" style="left:280px;top:614px;width:32px;height:13px;line-height:11px;background:#ffffff;border-right-width:0px;border-bottom-width:0px"><span>1704</span></div>
<div class="c W" style="left:312px;top:614px;width:33px;height:13px;line-height:11px;background:#ffffff;border-right-width:0px;border-bottom-width:0px"><span>1703</span></div>
<div class="c W" style="left:345px;top:614px;width:32px;height:13px;line-height:11px;background:#ffffff;border-right-width:0px;border-bottom-width:0px"><span>1702</span></div>
<div class="c W" style="left:377px;top:614px;width:34px;height:13px;line-height:11px;background:#ffffff;border-right-width:1px;border-bottom-width:0px"><span>1701</span></div>
<div class="c W" style="left:280px;top:627px;width:32px;height:13px;line-height:11px;background:#ffffff;border-right-width:0px;border-bottom-width:0px"><span>1604</span></div>
<div class="c W" style="left:312px;top:627px;width:33px;height:13px;line-height:11px;background:#ffffff;border-right-width:0px;border-bottom-width:0px"><span>1603</span></div>
<div class="c W" style="left:345px;top:627px;width:32px;height:13px;line-height:11px;background:#ffffff;border-right-width:0px;border-bottom-width:0px"><span>1602</span></div>
<div class="c W" style="left:377px;top:627px;width:34px;height:13px;line-height:11px;background:#ffffff;border-right-width:1px;border-bottom-width:0px"><span>1601</span></div>
<div class="c W" style="left:280px;top:640px;width:32px;height:13px;line-height:11px;background:#ffffff;border-right-width:0px;border-bottom-width:0px"><span>1504</span></div>
<div class="c W" style="left:312px;top:640px;width:33px;height:13px;line-height:11px;background:#ffffff;border-right-width:0px;border-bottom-width:0px"><span>1503</span></div>
<div class="c W" style="left:345px;top:640px;width:32px;height:13px;line-height:11px;background:#ffffff;border-right-width:0px;border-bottom-width:0px"><span>1502</span></div>
<div class="c W" style="left:377px;top:640px;width:34px;height:13px;line-height:11px;background:#ffffff;border-right-width:1px;border-bottom-width:0px"><span>1501</span></div>
<div class="c W" style="left:280px;top:653px;width:32px;height:13px;line-height:11px;background:#ffffff;border-right-width:0px;border-bottom-width:0px"><span>1404</span></div>
<div class="c W" style="left:312px;top:653px;width:33px;height:13px;line-height:11px;background:#ffffff;border-right-width:0px;border-bottom-width:0px"><span>1403</span></div>
<div class="c W" style="left:345px;top:653px;width:32px;height:13px;line-height:11px;background:#ffffff;border-right-width:0px;border-bottom-width:0px"><span>1402</span></div>
<div class="c W" style="left:377px;top:653px;width:34px;height:13px;line-height:11px;background:#ffffff;border-right-width:1px;border-bottom-width:0px"><span>1401</span></div>
<div class="c W" style="left:280px;top:666px;width:32px;height:13px;line-height:11px;background:#ffffff;border-right-width:0px;border-bottom-width:0px"><span>1304</span></div>
<div class="c W" style="left:312px;top:666px;width:33px;height:13px;line-height:11px;background:#ffffff;border-right-width:0px;border-bottom-width:0px"><span>1303</span></div>
<div class="c W" style="left:345px;top:666px;width:32px;height:13px;line-height:11px;background:#ffffff;border-right-width:0px;border-bottom-width:0px"><span>1302</span></div>
<div class="c W" style="left:377px;top:666px;width:34px;height:13px;line-height:11px;background:#ffffff;border-right-width:1px;border-bottom-width:0px"><span>1301</span></div>
<div class="c W" style="left:280px;top:679px;width:32px;height:13px;line-height:11px;background:#ffffff;border-right-width:0px;border-bottom-width:0px"><span>1204</span></div>
<div class="c W" style="left:312px;top:679px;width:33px;height:13px;line-height:11px;background:#ffffff;border-right-width:0px;border-bottom-width:0px"><span>1203</span></div>
<div class="c W" style="left:345px;top:679px;width:32px;height:13px;line-height:11px;background:#ffffff;border-right-width:0px;border-bottom-width:0px"><span>1202</span></div>
<div class="c W" style="left:377px;top:679px;width:34px;height:13px;line-height:11px;background:#ffffff;border-right-width:1px;border-bottom-width:0px"><span>1201</span></div>
<div class="c" style="left:280px;top:692px;width:32px;height:13px;line-height:11px;background:#c9a2cd;border-right-width:0px;border-bottom-width:0px"><span>1104</span></div>
<div class="c W" style="left:312px;top:692px;width:33px;height:13px;line-height:11px;background:#ffffff;border-right-width:0px;border-bottom-width:0px"><span>1103</span></div>
<div class="c" style="left:345px;top:692px;width:32px;height:13px;line-height:11px;background:#c9a2cd;border-right-width:0px;border-bottom-width:0px"><span>1102</span></div>
<div class="c W" style="left:377px;top:692px;width:34px;height:13px;line-height:11px;background:#ffffff;border-right-width:1px;border-bottom-width:0px"><span>1101</span></div>
<div class="c" style="left:280px;top:705px;width:32px;height:13px;line-height:11px;background:#c9a2cd;border-right-width:0px;border-bottom-width:0px"><span>1004</span></div>
<div class="c" style="left:312px;top:705px;width:33px;height:13px;line-height:11px;background:#c9a2cd;border-right-width:0px;border-bottom-width:0px"><span>1003</span></div>
<div class="c" style="left:345px;top:705px;width:32px;height:13px;line-height:11px;background:#c9a2cd;border-right-width:0px;border-bottom-width:0px"><span>1002</span></div>
<div class="c" style="left:377px;top:705px;width:34px;height:13px;line-height:11px;background:#c9a2cd;border-right-width:1px;border-bottom-width:0px"><span>1001</span></div>
<div class="c" style="left:280px;top:718px;width:32px;height:13px;line-height:11px;background:#c9a2cd;border-right-width:0px;border-bottom-width:0px"><span>904</span></div>
<div class="c" style="left:312px;top:718px;width:33px;height:13px;line-height:11px;background:#c9a2cd;border-right-width:0px;border-bottom-width:0px"><span>903</span></div>
<div class="c" style="left:345px;top:718px;width:32px;height:13px;line-height:11px;background:#c9a2cd;border-right-width:0px;border-bottom-width:0px"><span>902</span></div>
<div class="c" style="left:377px;top:718px;width:34px;height:13px;line-height:11px;background:#c9a2cd;border-right-width:1px;border-bottom-width:0px"><span>901</span></div>
<div class="c" style="left:280px;top:731px;width:32px;height:13px;line-height:11px;background:#c9a2cd;border-right-width:0px;border-bottom-width:0px"><span>804</span></div>
<div class="c" style="left:312px;top:731px;width:33px;height:13px;line-height:11px;background:#c9a2cd;border-right-width:0px;border-bottom-width:0px"><span>803</span></div>
<div class="c" style="left:345px;top:731px;width:32px;height:13px;line-height:11px;background:#c9a2cd;border-right-width:0px;border-bottom-width:0px"><span>802</span></div>
<div class="c" style="left:377px;top:731px;width:34px;height:13px;line-height:11px;background:#c9a2cd;border-right-width:1px;border-bottom-width:0px"><span>801</span></div>
<div class="c" style="left:280px;top:744px;width:32px;height:13px;line-height:11px;background:#c9a2cd;border-right-width:0px;border-bottom-width:0px"><span>704</span></div>
<div class="c" style="left:312px;top:744px;width:33px;height:13px;line-height:11px;background:#c9a2cd;border-right-width:0px;border-bottom-width:0px"><span>703</span></div>
<div class="c" style="left:345px;top:744px;width:32px;height:13px;line-height:11px;background:#c9a2cd;border-right-width:0px;border-bottom-width:0px"><span>702</span></div>
<div class="c" style="left:377px;top:744px;width:34px;height:13px;line-height:11px;background:#c9a2cd;border-right-width:1px;border-bottom-width:0px"><span>701</span></div>
<div class="c" style="left:280px;top:757px;width:32px;height:13px;line-height:11px;background:#c9a2cd;border-right-width:0px;border-bottom-width:0px"><span>604</span></div>
<div class="c" style="left:312px;top:757px;width:33px;height:13px;line-height:11px;background:#c9a2cd;border-right-width:0px;border-bottom-width:0px"><span>603</span></div>
<div class="c" style="left:345px;top:757px;width:32px;height:13px;line-height:11px;background:#c9a2cd;border-right-width:0px;border-bottom-width:0px"><span>602</span></div>
<div class="c" style="left:377px;top:757px;width:34px;height:13px;line-height:11px;background:#c9a2cd;border-right-width:1px;border-bottom-width:0px"><span>601</span></div>
<div class="c" style="left:280px;top:770px;width:32px;height:13px;line-height:11px;background:#c9a2cd;border-right-width:0px;border-bottom-width:0px"><span>504</span></div>
<div class="c" style="left:312px;top:770px;width:33px;height:13px;line-height:11px;background:#c9a2cd;border-right-width:0px;border-bottom-width:0px"><span>503</span></div>
<div class="c" style="left:345px;top:770px;width:32px;height:13px;line-height:11px;background:#c9a2cd;border-right-width:0px;border-bottom-width:0px"><span>502</span></div>
<div class="c" style="left:377px;top:770px;width:34px;height:13px;line-height:11px;background:#c9a2cd;border-right-width:1px;border-bottom-width:0px"><span>501</span></div>
<div class="c" style="left:280px;top:783px;width:32px;height:13px;line-height:11px;background:#c9a2cd;border-right-width:0px;border-bottom-width:0px"><span>404</span></div>
<div class="c" style="left:312px;top:783px;width:33px;height:13px;line-height:11px;background:#c9a2cd;border-right-width:0px;border-bottom-width:0px"><span>403</span></div>
<div class="c" style="left:345px;top:783px;width:32px;height:13px;line-height:11px;background:#c9a2cd;border-right-width:0px;border-bottom-width:0px"><span>402</span></div>
<div class="c" style="left:377px;top:783px;width:34px;height:13px;line-height:11px;background:#c9a2cd;border-right-width:1px;border-bottom-width:0px"><span>401</span></div>
<div class="c" style="left:280px;top:796px;width:32px;height:13px;line-height:11px;background:#c9a2cd;border-right-width:0px;border-bottom-width:0px"><span>304</span></div>
<div class="c" style="left:312px;top:796px;width:33px;height:13px;line-height:11px;background:#c9a2cd;border-right-width:0px;border-bottom-width:0px"><span>303</span></div>
<div class="c" style="left:345px;top:796px;width:32px;height:13px;line-height:11px;background:#c9a2cd;border-right-width:0px;border-bottom-width:0px"><span>302</span></div>
<div class="c" style="left:377px;top:796px;width:34px;height:13px;line-height:11px;background:#c9a2cd;border-right-width:1px;border-bottom-width:0px"><span>301</span></div>
<div class="c" style="left:280px;top:809px;width:32px;height:13px;line-height:11px;background:#c9a2cd;border-right-width:0px;border-bottom-width:0px"><span>204</span></div>
<div class="c" style="left:312px;top:809px;width:33px;height:13px;line-height:11px;background:#c9a2cd;border-right-width:0px;border-bottom-width:0px"><span>203</span></div>
<div class="c" style="left:345px;top:809px;width:32px;height:13px;line-height:11px;background:#c9a2cd;border-right-width:0px;border-bottom-width:0px"><span>202</span></div>
<div class="c" style="left:377px;top:809px;width:34px;height:13px;line-height:11px;background:#c9a2cd;border-right-width:1px;border-bottom-width:0px"><span>201</span></div>
<div class="c w k" style="left:280px;top:822px;width:32px;height:14px;line-height:11px;background:#ffffff;border-right-width:0px;border-bottom-width:1px"><span>로비</span></div>
<div class="c" style="left:312px;top:822px;width:33px;height:14px;line-height:11px;background:#c9a2cd;border-right-width:0px;border-bottom-width:1px"><span>103</span></div>
<div class="c" style="left:345px;top:822px;width:32px;height:14px;line-height:11px;background:#c9a2cd;border-right-width:0px;border-bottom-width:1px"><span>102</span></div>
<div class="c w k" style="left:377px;top:822px;width:34px;height:14px;line-height:11px;background:#ffffff;border-right-width:1px;border-bottom-width:1px"><span>로비</span></div>
<div class="lh" style="left:280px;top:848px;width:131px;height:14px;line-height:12px"><span>108<i>동</i></span></div>
<div class="lc" style="left:280px;top:861px;width:33px;height:14px;line-height:12px;background:#d3eaf6"><span>4<i>호</i></span></div>
<div class="lc" style="left:280px;top:874px;width:33px;height:14px;line-height:12px;background:#c9a2cd"><span>84A</span></div>
<div class="lc" style="left:312px;top:861px;width:34px;height:14px;line-height:12px;background:#d3eaf6"><span>3<i>호</i></span></div>
<div class="lc" style="left:312px;top:874px;width:34px;height:14px;line-height:12px;background:#c9a2cd"><span>84A</span></div>
<div class="lc" style="left:345px;top:861px;width:33px;height:14px;line-height:12px;background:#d3eaf6"><span>2<i>호</i></span></div>
<div class="lc" style="left:345px;top:874px;width:33px;height:14px;line-height:12px;background:#c9a2cd"><span>84A</span></div>
<div class="lc" style="left:377px;top:861px;width:34px;height:14px;line-height:12px;background:#d3eaf6"><span>1<i>호</i></span></div>
<div class="lc" style="left:377px;top:874px;width:34px;height:14px;line-height:12px;background:#c9a2cd"><span>84A</span></div>
<div class="c" style="left:534px;top:485px;width:32px;height:13px;line-height:11px;background:#a8d9e4;border-right-width:0px;border-bottom-width:0px"><span>2702</span></div>
<div class="c" style="left:566px;top:485px;width:34px;height:13px;line-height:11px;background:#a8d9e4;border-right-width:1px;border-bottom-width:0px"><span>2701</span></div>
<div class="c" style="left:469px;top:498px;width:33px;height:13px;line-height:11px;background:#eed8e9;border-right-width:0px;border-bottom-width:0px"><span>2604</span></div>
<div class="c" style="left:502px;top:498px;width:32px;height:13px;line-height:11px;background:#c9a2cd;border-right-width:0px;border-bottom-width:0px"><span>2603</span></div>
<div class="c" style="left:534px;top:498px;width:32px;height:13px;line-height:11px;background:#a8d9e4;border-right-width:0px;border-bottom-width:0px"><span>2602</span></div>
<div class="c" style="left:566px;top:498px;width:34px;height:13px;line-height:11px;background:#a8d9e4;border-right-width:1px;border-bottom-width:0px"><span>2601</span></div>
<div class="c" style="left:469px;top:511px;width:33px;height:13px;line-height:11px;background:#eed8e9;border-right-width:0px;border-bottom-width:0px"><span>2504</span></div>
<div class="c W" style="left:502px;top:511px;width:32px;height:13px;line-height:11px;background:#ffffff;border-right-width:0px;border-bottom-width:0px"><span>2503</span></div>
<div class="c W" style="left:534px;top:511px;width:32px;height:13px;line-height:11px;background:#ffffff;border-right-width:0px;border-bottom-width:0px"><span>2502</span></div>
<div class="c W" style="left:566px;top:511px;width:34px;height:13px;line-height:11px;background:#ffffff;border-right-width:1px;border-bottom-width:0px"><span>2501</span></div>
<div class="c" style="left:469px;top:524px;width:33px;height:13px;line-height:11px;background:#eed8e9;border-right-width:0px;border-bottom-width:0px"><span>2404</span></div>
<div class="c W" style="left:502px;top:524px;width:32px;height:13px;line-height:11px;background:#ffffff;border-right-width:0px;border-bottom-width:0px"><span>2403</span></div>
<div class="c W" style="left:534px;top:524px;width:32px;height:13px;line-height:11px;background:#ffffff;border-right-width:0px;border-bottom-width:0px"><span>2402</span></div>
<div class="c W" style="left:566px;top:524px;width:34px;height:13px;line-height:11px;background:#ffffff;border-right-width:1px;border-bottom-width:0px"><span>2401</span></div>
<div class="c" style="left:437px;top:537px;width:32px;height:13px;line-height:11px;background:#c9a2cd;border-right-width:0px;border-bottom-width:0px"><span>2305</span></div>
<div class="c" style="left:469px;top:537px;width:33px;height:13px;line-height:11px;background:#eed8e9;border-right-width:0px;border-bottom-width:0px"><span>2304</span></div>
<div class="c W" style="left:502px;top:537px;width:32px;height:13px;line-height:11px;background:#ffffff;border-right-width:0px;border-bottom-width:0px"><span>2303</span></div>
<div class="c" style="left:534px;top:537px;width:32px;height:13px;line-height:11px;background:#a8d9e4;border-right-width:0px;border-bottom-width:0px"><span>2302</span></div>
<div class="c" style="left:566px;top:537px;width:34px;height:13px;line-height:11px;background:#a8d9e4;border-right-width:1px;border-bottom-width:0px"><span>2301</span></div>
<div class="c W" style="left:437px;top:550px;width:32px;height:12px;line-height:10px;background:#ffffff;border-right-width:0px;border-bottom-width:0px"><span>2205</span></div>
<div class="c" style="left:469px;top:550px;width:33px;height:12px;line-height:10px;background:#eed8e9;border-right-width:0px;border-bottom-width:0px"><span>2204</span></div>
<div class="c W" style="left:502px;top:550px;width:32px;height:12px;line-height:10px;background:#ffffff;border-right-width:0px;border-bottom-width:0px"><span>2203</span></div>
<div class="c" style="left:534px;top:550px;width:32px;height:12px;line-height:10px;background:#a8d9e4;border-right-width:0px;border-bottom-width:0px"><span>2202</span></div>
<div class="c" style="left:566px;top:550px;width:34px;height:12px;line-height:10px;background:#a8d9e4;border-right-width:1px;border-bottom-width:0px"><span>2201</span></div>
<div class="c W" style="left:437px;top:562px;width:32px;height:13px;line-height:11px;background:#ffffff;border-right-width:0px;border-bottom-width:0px"><span>2105</span></div>
<div class="c" style="left:469px;top:562px;width:33px;height:13px;line-height:11px;background:#eed8e9;border-right-width:0px;border-bottom-width:0px"><span>2104</span></div>
<div class="c W" style="left:502px;top:562px;width:32px;height:13px;line-height:11px;background:#ffffff;border-right-width:0px;border-bottom-width:0px"><span>2103</span></div>
<div class="c" style="left:534px;top:562px;width:32px;height:13px;line-height:11px;background:#a8d9e4;border-right-width:0px;border-bottom-width:0px"><span>2102</span></div>
<div class="c" style="left:566px;top:562px;width:34px;height:13px;line-height:11px;background:#a8d9e4;border-right-width:1px;border-bottom-width:0px"><span>2101</span></div>
<div class="c W" style="left:437px;top:575px;width:32px;height:13px;line-height:11px;background:#ffffff;border-right-width:0px;border-bottom-width:0px"><span>2005</span></div>
<div class="c" style="left:469px;top:575px;width:33px;height:13px;line-height:11px;background:#eed8e9;border-right-width:0px;border-bottom-width:0px"><span>2004</span></div>
<div class="c W" style="left:502px;top:575px;width:32px;height:13px;line-height:11px;background:#ffffff;border-right-width:0px;border-bottom-width:0px"><span>2003</span></div>
<div class="c" style="left:534px;top:575px;width:32px;height:13px;line-height:11px;background:#a8d9e4;border-right-width:0px;border-bottom-width:0px"><span>2002</span></div>
<div class="c" style="left:566px;top:575px;width:34px;height:13px;line-height:11px;background:#a8d9e4;border-right-width:1px;border-bottom-width:0px"><span>2001</span></div>
<div class="c W" style="left:437px;top:588px;width:32px;height:13px;line-height:11px;background:#ffffff;border-right-width:0px;border-bottom-width:0px"><span>1905</span></div>
<div class="c" style="left:469px;top:588px;width:33px;height:13px;line-height:11px;background:#eed8e9;border-right-width:0px;border-bottom-width:0px"><span>1904</span></div>
<div class="c W" style="left:502px;top:588px;width:32px;height:13px;line-height:11px;background:#ffffff;border-right-width:0px;border-bottom-width:0px"><span>1903</span></div>
<div class="c" style="left:534px;top:588px;width:32px;height:13px;line-height:11px;background:#a8d9e4;border-right-width:0px;border-bottom-width:0px"><span>1902</span></div>
<div class="c" style="left:566px;top:588px;width:34px;height:13px;line-height:11px;background:#a8d9e4;border-right-width:1px;border-bottom-width:0px"><span>1901</span></div>
<div class="c W" style="left:437px;top:601px;width:32px;height:13px;line-height:11px;background:#ffffff;border-right-width:0px;border-bottom-width:0px"><span>1805</span></div>
<div class="c" style="left:469px;top:601px;width:33px;height:13px;line-height:11px;background:#eed8e9;border-right-width:0px;border-bottom-width:0px"><span>1804</span></div>
<div class="c W" style="left:502px;top:601px;width:32px;height:13px;line-height:11px;background:#ffffff;border-right-width:0px;border-bottom-width:0px"><span>1803</span></div>
<div class="c" style="left:534px;top:601px;width:32px;height:13px;line-height:11px;background:#a8d9e4;border-right-width:0px;border-bottom-width:0px"><span>1802</span></div>
<div class="c" style="left:566px;top:601px;width:34px;height:13px;line-height:11px;background:#a8d9e4;border-right-width:1px;border-bottom-width:0px"><span>1801</span></div>
<div class="c W" style="left:437px;top:614px;width:32px;height:13px;line-height:11px;background:#ffffff;border-right-width:0px;border-bottom-width:0px"><span>1705</span></div>
<div class="c" style="left:469px;top:614px;width:33px;height:13px;line-height:11px;background:#eed8e9;border-right-width:0px;border-bottom-width:0px"><span>1704</span></div>
<div class="c W" style="left:502px;top:614px;width:32px;height:13px;line-height:11px;background:#ffffff;border-right-width:0px;border-bottom-width:0px"><span>1703</span></div>
<div class="c" style="left:534px;top:614px;width:32px;height:13px;line-height:11px;background:#a8d9e4;border-right-width:0px;border-bottom-width:0px"><span>1702</span></div>
<div class="c" style="left:566px;top:614px;width:34px;height:13px;line-height:11px;background:#a8d9e4;border-right-width:1px;border-bottom-width:0px"><span>1701</span></div>
<div class="c W" style="left:437px;top:627px;width:32px;height:13px;line-height:11px;background:#ffffff;border-right-width:0px;border-bottom-width:0px"><span>1605</span></div>
<div class="c" style="left:469px;top:627px;width:33px;height:13px;line-height:11px;background:#eed8e9;border-right-width:0px;border-bottom-width:0px"><span>1604</span></div>
<div class="c W" style="left:502px;top:627px;width:32px;height:13px;line-height:11px;background:#ffffff;border-right-width:0px;border-bottom-width:0px"><span>1603</span></div>
<div class="c" style="left:534px;top:627px;width:32px;height:13px;line-height:11px;background:#a8d9e4;border-right-width:0px;border-bottom-width:0px"><span>1602</span></div>
<div class="c" style="left:566px;top:627px;width:34px;height:13px;line-height:11px;background:#a8d9e4;border-right-width:1px;border-bottom-width:0px"><span>1601</span></div>
<div class="c W" style="left:437px;top:640px;width:32px;height:13px;line-height:11px;background:#ffffff;border-right-width:0px;border-bottom-width:0px"><span>1505</span></div>
<div class="c" style="left:469px;top:640px;width:33px;height:13px;line-height:11px;background:#eed8e9;border-right-width:0px;border-bottom-width:0px"><span>1504</span></div>
<div class="c W" style="left:502px;top:640px;width:32px;height:13px;line-height:11px;background:#ffffff;border-right-width:0px;border-bottom-width:0px"><span>1503</span></div>
<div class="c" style="left:534px;top:640px;width:32px;height:13px;line-height:11px;background:#a8d9e4;border-right-width:0px;border-bottom-width:0px"><span>1502</span></div>
<div class="c" style="left:566px;top:640px;width:34px;height:13px;line-height:11px;background:#a8d9e4;border-right-width:1px;border-bottom-width:0px"><span>1501</span></div>
<div class="c W" style="left:437px;top:653px;width:32px;height:13px;line-height:11px;background:#ffffff;border-right-width:0px;border-bottom-width:0px"><span>1405</span></div>
<div class="c" style="left:469px;top:653px;width:33px;height:13px;line-height:11px;background:#eed8e9;border-right-width:0px;border-bottom-width:0px"><span>1404</span></div>
<div class="c" style="left:502px;top:653px;width:32px;height:13px;line-height:11px;background:#c9a2cd;border-right-width:0px;border-bottom-width:0px"><span>1403</span></div>
<div class="c" style="left:534px;top:653px;width:32px;height:13px;line-height:11px;background:#a8d9e4;border-right-width:0px;border-bottom-width:0px"><span>1402</span></div>
<div class="c" style="left:566px;top:653px;width:34px;height:13px;line-height:11px;background:#a8d9e4;border-right-width:1px;border-bottom-width:0px"><span>1401</span></div>
<div class="c W" style="left:437px;top:666px;width:32px;height:13px;line-height:11px;background:#ffffff;border-right-width:0px;border-bottom-width:0px"><span>1305</span></div>
<div class="c" style="left:469px;top:666px;width:33px;height:13px;line-height:11px;background:#eed8e9;border-right-width:0px;border-bottom-width:0px"><span>1304</span></div>
<div class="c" style="left:502px;top:666px;width:32px;height:13px;line-height:11px;background:#c9a2cd;border-right-width:0px;border-bottom-width:0px"><span>1303</span></div>
<div class="c" style="left:534px;top:666px;width:32px;height:13px;line-height:11px;background:#a8d9e4;border-right-width:0px;border-bottom-width:0px"><span>1302</span></div>
<div class="c" style="left:566px;top:666px;width:34px;height:13px;line-height:11px;background:#a8d9e4;border-right-width:1px;border-bottom-width:0px"><span>1301</span></div>
<div class="c W" style="left:437px;top:679px;width:32px;height:13px;line-height:11px;background:#ffffff;border-right-width:0px;border-bottom-width:0px"><span>1205</span></div>
<div class="c" style="left:469px;top:679px;width:33px;height:13px;line-height:11px;background:#eed8e9;border-right-width:0px;border-bottom-width:0px"><span>1204</span></div>
<div class="c W" style="left:502px;top:679px;width:32px;height:13px;line-height:11px;background:#ffffff;border-right-width:0px;border-bottom-width:0px"><span>1203</span></div>
<div class="c" style="left:534px;top:679px;width:32px;height:13px;line-height:11px;background:#a8d9e4;border-right-width:0px;border-bottom-width:0px"><span>1202</span></div>
<div class="c" style="left:566px;top:679px;width:34px;height:13px;line-height:11px;background:#a8d9e4;border-right-width:1px;border-bottom-width:0px"><span>1201</span></div>
<div class="c W" style="left:437px;top:692px;width:32px;height:13px;line-height:11px;background:#ffffff;border-right-width:0px;border-bottom-width:0px"><span>1105</span></div>
<div class="c" style="left:469px;top:692px;width:33px;height:13px;line-height:11px;background:#eed8e9;border-right-width:0px;border-bottom-width:0px"><span>1104</span></div>
<div class="c W" style="left:502px;top:692px;width:32px;height:13px;line-height:11px;background:#ffffff;border-right-width:0px;border-bottom-width:0px"><span>1103</span></div>
<div class="c" style="left:534px;top:692px;width:32px;height:13px;line-height:11px;background:#a8d9e4;border-right-width:0px;border-bottom-width:0px"><span>1102</span></div>
<div class="c" style="left:566px;top:692px;width:34px;height:13px;line-height:11px;background:#a8d9e4;border-right-width:1px;border-bottom-width:0px"><span>1101</span></div>
<div class="c W" style="left:437px;top:705px;width:32px;height:13px;line-height:11px;background:#ffffff;border-right-width:0px;border-bottom-width:0px"><span>1005</span></div>
<div class="c" style="left:469px;top:705px;width:33px;height:13px;line-height:11px;background:#eed8e9;border-right-width:0px;border-bottom-width:0px"><span>1004</span></div>
<div class="c W" style="left:502px;top:705px;width:32px;height:13px;line-height:11px;background:#ffffff;border-right-width:0px;border-bottom-width:0px"><span>1003</span></div>
<div class="c" style="left:534px;top:705px;width:32px;height:13px;line-height:11px;background:#a8d9e4;border-right-width:0px;border-bottom-width:0px"><span>1002</span></div>
<div class="c" style="left:566px;top:705px;width:34px;height:13px;line-height:11px;background:#a8d9e4;border-right-width:1px;border-bottom-width:0px"><span>1001</span></div>
<div class="c W" style="left:437px;top:718px;width:32px;height:13px;line-height:11px;background:#ffffff;border-right-width:0px;border-bottom-width:0px"><span>905</span></div>
<div class="c" style="left:469px;top:718px;width:33px;height:13px;line-height:11px;background:#eed8e9;border-right-width:0px;border-bottom-width:0px"><span>904</span></div>
<div class="c W" style="left:502px;top:718px;width:32px;height:13px;line-height:11px;background:#ffffff;border-right-width:0px;border-bottom-width:0px"><span>903</span></div>
<div class="c" style="left:534px;top:718px;width:32px;height:13px;line-height:11px;background:#a8d9e4;border-right-width:0px;border-bottom-width:0px"><span>902</span></div>
<div class="c" style="left:566px;top:718px;width:34px;height:13px;line-height:11px;background:#a8d9e4;border-right-width:1px;border-bottom-width:0px"><span>901</span></div>
<div class="c W" style="left:437px;top:731px;width:32px;height:13px;line-height:11px;background:#ffffff;border-right-width:0px;border-bottom-width:0px"><span>805</span></div>
<div class="c" style="left:469px;top:731px;width:33px;height:13px;line-height:11px;background:#eed8e9;border-right-width:0px;border-bottom-width:0px"><span>804</span></div>
<div class="c W" style="left:502px;top:731px;width:32px;height:13px;line-height:11px;background:#ffffff;border-right-width:0px;border-bottom-width:0px"><span>803</span></div>
<div class="c" style="left:534px;top:731px;width:32px;height:13px;line-height:11px;background:#a8d9e4;border-right-width:0px;border-bottom-width:0px"><span>802</span></div>
<div class="c" style="left:566px;top:731px;width:34px;height:13px;line-height:11px;background:#a8d9e4;border-right-width:1px;border-bottom-width:0px"><span>801</span></div>
<div class="c W" style="left:437px;top:744px;width:32px;height:13px;line-height:11px;background:#ffffff;border-right-width:0px;border-bottom-width:0px"><span>705</span></div>
<div class="c" style="left:469px;top:744px;width:33px;height:13px;line-height:11px;background:#eed8e9;border-right-width:0px;border-bottom-width:0px"><span>704</span></div>
<div class="c W" style="left:502px;top:744px;width:32px;height:13px;line-height:11px;background:#ffffff;border-right-width:0px;border-bottom-width:0px"><span>703</span></div>
<div class="c" style="left:534px;top:744px;width:32px;height:13px;line-height:11px;background:#a8d9e4;border-right-width:0px;border-bottom-width:0px"><span>702</span></div>
<div class="c" style="left:566px;top:744px;width:34px;height:13px;line-height:11px;background:#a8d9e4;border-right-width:1px;border-bottom-width:0px"><span>701</span></div>
<div class="c W" style="left:437px;top:757px;width:32px;height:13px;line-height:11px;background:#ffffff;border-right-width:0px;border-bottom-width:0px"><span>605</span></div>
<div class="c" style="left:469px;top:757px;width:33px;height:13px;line-height:11px;background:#eed8e9;border-right-width:0px;border-bottom-width:0px"><span>604</span></div>
<div class="c W" style="left:502px;top:757px;width:32px;height:13px;line-height:11px;background:#ffffff;border-right-width:0px;border-bottom-width:0px"><span>603</span></div>
<div class="c" style="left:534px;top:757px;width:32px;height:13px;line-height:11px;background:#a8d9e4;border-right-width:0px;border-bottom-width:0px"><span>602</span></div>
<div class="c" style="left:566px;top:757px;width:34px;height:13px;line-height:11px;background:#a8d9e4;border-right-width:1px;border-bottom-width:0px"><span>601</span></div>
<div class="c W" style="left:437px;top:770px;width:32px;height:13px;line-height:11px;background:#ffffff;border-right-width:0px;border-bottom-width:0px"><span>505</span></div>
<div class="c" style="left:469px;top:770px;width:33px;height:13px;line-height:11px;background:#eed8e9;border-right-width:0px;border-bottom-width:0px"><span>504</span></div>
<div class="c W" style="left:502px;top:770px;width:32px;height:13px;line-height:11px;background:#ffffff;border-right-width:0px;border-bottom-width:0px"><span>503</span></div>
<div class="c" style="left:534px;top:770px;width:32px;height:13px;line-height:11px;background:#a8d9e4;border-right-width:0px;border-bottom-width:0px"><span>502</span></div>
<div class="c" style="left:566px;top:770px;width:34px;height:13px;line-height:11px;background:#a8d9e4;border-right-width:1px;border-bottom-width:0px"><span>501</span></div>
<div class="c W" style="left:437px;top:783px;width:32px;height:13px;line-height:11px;background:#ffffff;border-right-width:0px;border-bottom-width:0px"><span>405</span></div>
<div class="c" style="left:469px;top:783px;width:33px;height:13px;line-height:11px;background:#eed8e9;border-right-width:0px;border-bottom-width:0px"><span>404</span></div>
<div class="c W" style="left:502px;top:783px;width:32px;height:13px;line-height:11px;background:#ffffff;border-right-width:0px;border-bottom-width:0px"><span>403</span></div>
<div class="c" style="left:534px;top:783px;width:32px;height:13px;line-height:11px;background:#a8d9e4;border-right-width:0px;border-bottom-width:0px"><span>402</span></div>
<div class="c" style="left:566px;top:783px;width:34px;height:13px;line-height:11px;background:#a8d9e4;border-right-width:1px;border-bottom-width:0px"><span>401</span></div>
<div class="c W" style="left:437px;top:796px;width:32px;height:13px;line-height:11px;background:#ffffff;border-right-width:0px;border-bottom-width:0px"><span>305</span></div>
<div class="c" style="left:469px;top:796px;width:33px;height:13px;line-height:11px;background:#eed8e9;border-right-width:0px;border-bottom-width:0px"><span>304</span></div>
<div class="c" style="left:502px;top:796px;width:32px;height:13px;line-height:11px;background:#c9a2cd;border-right-width:0px;border-bottom-width:0px"><span>303</span></div>
<div class="c" style="left:534px;top:796px;width:32px;height:13px;line-height:11px;background:#a8d9e4;border-right-width:0px;border-bottom-width:0px"><span>302</span></div>
<div class="c" style="left:566px;top:796px;width:34px;height:13px;line-height:11px;background:#a8d9e4;border-right-width:1px;border-bottom-width:0px"><span>301</span></div>
<div class="c W" style="left:437px;top:809px;width:32px;height:13px;line-height:11px;background:#ffffff;border-right-width:0px;border-bottom-width:0px"><span>205</span></div>
<div class="c" style="left:469px;top:809px;width:33px;height:13px;line-height:11px;background:#eed8e9;border-right-width:0px;border-bottom-width:0px"><span>204</span></div>
<div class="c" style="left:502px;top:809px;width:32px;height:13px;line-height:11px;background:#c9a2cd;border-right-width:0px;border-bottom-width:0px"><span>203</span></div>
<div class="c" style="left:534px;top:809px;width:32px;height:13px;line-height:11px;background:#a8d9e4;border-right-width:0px;border-bottom-width:0px"><span>202</span></div>
<div class="c" style="left:566px;top:809px;width:34px;height:13px;line-height:11px;background:#a8d9e4;border-right-width:1px;border-bottom-width:0px"><span>201</span></div>
<div class="c w k" style="left:437px;top:822px;width:32px;height:14px;line-height:11px;background:#ffffff;border-right-width:0px;border-bottom-width:1px"><span>로비</span></div>
<div class="c" style="left:469px;top:822px;width:33px;height:14px;line-height:11px;background:#eed8e9;border-right-width:0px;border-bottom-width:1px"><span>104</span></div>
<div class="c" style="left:502px;top:822px;width:32px;height:14px;line-height:11px;background:#c9a2cd;border-right-width:0px;border-bottom-width:1px"><span>103</span></div>
<div class="c W" style="left:534px;top:822px;width:32px;height:14px;line-height:11px;background:#ffffff;border-right-width:0px;border-bottom-width:1px"><span>102</span></div>
<div class="c w k" style="left:566px;top:822px;width:34px;height:14px;line-height:11px;background:#ffffff;border-right-width:1px;border-bottom-width:1px"><span>로비</span></div>
<div class="lh" style="left:437px;top:848px;width:163px;height:14px;line-height:12px"><span>109<i>동</i></span></div>
<div class="lc" style="left:437px;top:861px;width:33px;height:14px;line-height:12px;background:#d3eaf6"><span>5<i>호</i></span></div>
<div class="lc" style="left:437px;top:874px;width:33px;height:14px;line-height:12px;background:#c9a2cd"><span>84A</span></div>
<div class="lc" style="left:469px;top:861px;width:34px;height:14px;line-height:12px;background:#d3eaf6"><span>4<i>호</i></span></div>
<div class="lc" style="left:469px;top:874px;width:34px;height:14px;line-height:12px;background:#eed8e9"><span>84B</span></div>
<div class="lc" style="left:502px;top:861px;width:33px;height:14px;line-height:12px;background:#d3eaf6"><span>3<i>호</i></span></div>
<div class="lc" style="left:502px;top:874px;width:33px;height:14px;line-height:12px;background:#c9a2cd"><span>84A</span></div>
<div class="lc" style="left:534px;top:861px;width:33px;height:14px;line-height:12px;background:#d3eaf6"><span>2<i>호</i></span></div>
<div class="lc" style="left:534px;top:874px;width:33px;height:14px;line-height:12px;background:#a8d9e4"><span>74</span></div>
<div class="lc" style="left:566px;top:861px;width:34px;height:14px;line-height:12px;background:#d3eaf6"><span>1<i>호</i></span></div>
<div class="lc" style="left:566px;top:874px;width:34px;height:14px;line-height:12px;background:#a8d9e4"><span>74</span></div>
<div class="c W" style="left:627px;top:433px;width:32px;height:13px;line-height:11px;background:#ffffff;border-right-width:0px;border-bottom-width:0px"><span>3105</span></div>
<div class="c W" style="left:659px;top:433px;width:33px;height:13px;line-height:11px;background:#ffffff;border-right-width:0px;border-bottom-width:0px"><span>3104</span></div>
<div class="c W" style="left:692px;top:433px;width:32px;height:13px;line-height:11px;background:#ffffff;border-right-width:0px;border-bottom-width:0px"><span>3103</span></div>
<div class="c W" style="left:724px;top:433px;width:32px;height:13px;line-height:11px;background:#ffffff;border-right-width:0px;border-bottom-width:0px"><span>3102</span></div>
<div class="c W" style="left:756px;top:433px;width:34px;height:13px;line-height:11px;background:#ffffff;border-right-width:1px;border-bottom-width:0px"><span>3101</span></div>
<div class="c W" style="left:627px;top:446px;width:32px;height:13px;line-height:11px;background:#ffffff;border-right-width:0px;border-bottom-width:0px"><span>3005</span></div>
<div class="c W" style="left:659px;top:446px;width:33px;height:13px;line-height:11px;background:#ffffff;border-right-width:0px;border-bottom-width:0px"><span>3004</span></div>
<div class="c W" style="left:692px;top:446px;width:32px;height:13px;line-height:11px;background:#ffffff;border-right-width:0px;border-bottom-width:0px"><span>3003</span></div>
<div class="c W" style="left:724px;top:446px;width:32px;height:13px;line-height:11px;background:#ffffff;border-right-width:0px;border-bottom-width:0px"><span>3002</span></div>
<div class="c W" style="left:756px;top:446px;width:34px;height:13px;line-height:11px;background:#ffffff;border-right-width:1px;border-bottom-width:0px"><span>3001</span></div>
<div class="c W" style="left:627px;top:459px;width:32px;height:13px;line-height:11px;background:#ffffff;border-right-width:0px;border-bottom-width:0px"><span>2905</span></div>
<div class="c W" style="left:659px;top:459px;width:33px;height:13px;line-height:11px;background:#ffffff;border-right-width:0px;border-bottom-width:0px"><span>2904</span></div>
<div class="c W" style="left:692px;top:459px;width:32px;height:13px;line-height:11px;background:#ffffff;border-right-width:0px;border-bottom-width:0px"><span>2903</span></div>
<div class="c W" style="left:724px;top:459px;width:32px;height:13px;line-height:11px;background:#ffffff;border-right-width:0px;border-bottom-width:0px"><span>2902</span></div>
<div class="c W" style="left:756px;top:459px;width:34px;height:13px;line-height:11px;background:#ffffff;border-right-width:1px;border-bottom-width:0px"><span>2901</span></div>
<div class="c W" style="left:627px;top:472px;width:32px;height:13px;line-height:11px;background:#ffffff;border-right-width:0px;border-bottom-width:0px"><span>2805</span></div>
<div class="c W" style="left:659px;top:472px;width:33px;height:13px;line-height:11px;background:#ffffff;border-right-width:0px;border-bottom-width:0px"><span>2804</span></div>
<div class="c W" style="left:692px;top:472px;width:32px;height:13px;line-height:11px;background:#ffffff;border-right-width:0px;border-bottom-width:0px"><span>2803</span></div>
<div class="c W" style="left:724px;top:472px;width:32px;height:13px;line-height:11px;background:#ffffff;border-right-width:0px;border-bottom-width:0px"><span>2802</span></div>
<div class="c W" style="left:756px;top:472px;width:34px;height:13px;line-height:11px;background:#ffffff;border-right-width:1px;border-bottom-width:0px"><span>2801</span></div>
<div class="c W" style="left:627px;top:485px;width:32px;height:13px;line-height:11px;background:#ffffff;border-right-width:0px;border-bottom-width:0px"><span>2705</span></div>
<div class="c W" style="left:659px;top:485px;width:33px;height:13px;line-height:11px;background:#ffffff;border-right-width:0px;border-bottom-width:0px"><span>2704</span></div>
<div class="c W" style="left:692px;top:485px;width:32px;height:13px;line-height:11px;background:#ffffff;border-right-width:0px;border-bottom-width:0px"><span>2703</span></div>
<div class="c" style="left:724px;top:485px;width:32px;height:13px;line-height:11px;background:#eed8e9;border-right-width:0px;border-bottom-width:0px"><span>2702</span></div>
<div class="c W" style="left:756px;top:485px;width:34px;height:13px;line-height:11px;background:#ffffff;border-right-width:1px;border-bottom-width:0px"><span>2701</span></div>
<div class="c W" style="left:627px;top:498px;width:32px;height:13px;line-height:11px;background:#ffffff;border-right-width:0px;border-bottom-width:0px"><span>2605</span></div>
<div class="c W" style="left:659px;top:498px;width:33px;height:13px;line-height:11px;background:#ffffff;border-right-width:0px;border-bottom-width:0px"><span>2604</span></div>
<div class="c W" style="left:692px;top:498px;width:32px;height:13px;line-height:11px;background:#ffffff;border-right-width:0px;border-bottom-width:0px"><span>2603</span></div>
<div class="c" style="left:724px;top:498px;width:32px;height:13px;line-height:11px;background:#eed8e9;border-right-width:0px;border-bottom-width:0px"><span>2602</span></div>
<div class="c W" style="left:756px;top:498px;width:34px;height:13px;line-height:11px;background:#ffffff;border-right-width:1px;border-bottom-width:0px"><span>2601</span></div>
<div class="c W" style="left:627px;top:511px;width:32px;height:13px;line-height:11px;background:#ffffff;border-right-width:0px;border-bottom-width:0px"><span>2505</span></div>
<div class="c W" style="left:659px;top:511px;width:33px;height:13px;line-height:11px;background:#ffffff;border-right-width:0px;border-bottom-width:0px"><span>2504</span></div>
<div class="c W" style="left:692px;top:511px;width:32px;height:13px;line-height:11px;background:#ffffff;border-right-width:0px;border-bottom-width:0px"><span>2503</span></div>
<div class="c" style="left:724px;top:511px;width:32px;height:13px;line-height:11px;background:#eed8e9;border-right-width:0px;border-bottom-width:0px"><span>2502</span></div>
<div class="c W" style="left:756px;top:511px;width:34px;height:13px;line-height:11px;background:#ffffff;border-right-width:1px;border-bottom-width:0px"><span>2501</span></div>
<div class="c W" style="left:627px;top:524px;width:32px;height:13px;line-height:11px;background:#ffffff;border-right-width:0px;border-bottom-width:0px"><span>2405</span></div>
<div class="c W" style="left:659px;top:524px;width:33px;height:13px;line-height:11px;background:#ffffff;border-right-width:0px;border-bottom-width:0px"><span>2404</span></div>
<div class="c W" style="left:692px;top:524px;width:32px;height:13px;line-height:11px;background:#ffffff;border-right-width:0px;border-bottom-width:0px"><span>2403</span></div>
<div class="c" style="left:724px;top:524px;width:32px;height:13px;line-height:11px;background:#eed8e9;border-right-width:0px;border-bottom-width:0px"><span>2402</span></div>
<div class="c W" style="left:756px;top:524px;width:34px;height:13px;line-height:11px;background:#ffffff;border-right-width:1px;border-bottom-width:0px"><span>2401</span></div>
<div class="c W" style="left:627px;top:537px;width:32px;height:13px;line-height:11px;background:#ffffff;border-right-width:0px;border-bottom-width:0px"><span>2305</span></div>
<div class="c W" style="left:659px;top:537px;width:33px;height:13px;line-height:11px;background:#ffffff;border-right-width:0px;border-bottom-width:0px"><span>2304</span></div>
<div class="c W" style="left:692px;top:537px;width:32px;height:13px;line-height:11px;background:#ffffff;border-right-width:0px;border-bottom-width:0px"><span>2303</span></div>
<div class="c W" style="left:724px;top:537px;width:32px;height:13px;line-height:11px;background:#ffffff;border-right-width:0px;border-bottom-width:0px"><span>2302</span></div>
<div class="c W" style="left:756px;top:537px;width:34px;height:13px;line-height:11px;background:#ffffff;border-right-width:1px;border-bottom-width:0px"><span>2301</span></div>
<div class="c W" style="left:627px;top:550px;width:32px;height:12px;line-height:10px;background:#ffffff;border-right-width:0px;border-bottom-width:0px"><span>2205</span></div>
<div class="c W" style="left:659px;top:550px;width:33px;height:12px;line-height:10px;background:#ffffff;border-right-width:0px;border-bottom-width:0px"><span>2204</span></div>
<div class="c W" style="left:692px;top:550px;width:32px;height:12px;line-height:10px;background:#ffffff;border-right-width:0px;border-bottom-width:0px"><span>2203</span></div>
<div class="c W" style="left:724px;top:550px;width:32px;height:12px;line-height:10px;background:#ffffff;border-right-width:0px;border-bottom-width:0px"><span>2202</span></div>
<div class="c W" style="left:756px;top:550px;width:34px;height:12px;line-height:10px;background:#ffffff;border-right-width:1px;border-bottom-width:0px"><span>2201</span></div>
<div class="c W" style="left:627px;top:562px;width:32px;height:13px;line-height:11px;background:#ffffff;border-right-width:0px;border-bottom-width:0px"><span>2105</span></div>
<div class="c W" style="left:659px;top:562px;width:33px;height:13px;line-height:11px;background:#ffffff;border-right-width:0px;border-bottom-width:0px"><span>2104</span></div>
<div class="c W" style="left:692px;top:562px;width:32px;height:13px;line-height:11px;background:#ffffff;border-right-width:0px;border-bottom-width:0px"><span>2103</span></div>
<div class="c W" style="left:724px;top:562px;width:32px;height:13px;line-height:11px;background:#ffffff;border-right-width:0px;border-bottom-width:0px"><span>2102</span></div>
<div class="c W" style="left:756px;top:562px;width:34px;height:13px;line-height:11px;background:#ffffff;border-right-width:1px;border-bottom-width:0px"><span>2101</span></div>
<div class="c" style="left:627px;top:575px;width:32px;height:13px;line-height:11px;background:#c9a2cd;border-right-width:0px;border-bottom-width:0px"><span>2005</span></div>
<div class="c" style="left:659px;top:575px;width:33px;height:13px;line-height:11px;background:#c9a2cd;border-right-width:0px;border-bottom-width:0px"><span>2004</span></div>
<div class="c" style="left:692px;top:575px;width:32px;height:13px;line-height:11px;background:#c9a2cd;border-right-width:0px;border-bottom-width:0px"><span>2003</span></div>
<div class="c W" style="left:724px;top:575px;width:32px;height:13px;line-height:11px;background:#ffffff;border-right-width:0px;border-bottom-width:0px"><span>2002</span></div>
<div class="c W" style="left:756px;top:575px;width:34px;height:13px;line-height:11px;background:#ffffff;border-right-width:1px;border-bottom-width:0px"><span>2001</span></div>
<div class="c" style="left:627px;top:588px;width:32px;height:13px;line-height:11px;background:#c9a2cd;border-right-width:0px;border-bottom-width:0px"><span>1905</span></div>
<div class="c" style="left:659px;top:588px;width:33px;height:13px;line-height:11px;background:#c9a2cd;border-right-width:0px;border-bottom-width:0px"><span>1904</span></div>
<div class="c" style="left:692px;top:588px;width:32px;height:13px;line-height:11px;background:#c9a2cd;border-right-width:0px;border-bottom-width:0px"><span>1903</span></div>
<div class="c W" style="left:724px;top:588px;width:32px;height:13px;line-height:11px;background:#ffffff;border-right-width:0px;border-bottom-width:0px"><span>1902</span></div>
<div class="c W" style="left:756px;top:588px;width:34px;height:13px;line-height:11px;background:#ffffff;border-right-width:1px;border-bottom-width:0px"><span>1901</span></div>
<div class="c" style="left:627px;top:601px;width:32px;height:13px;line-height:11px;background:#c9a2cd;border-right-width:0px;border-bottom-width:0px"><span>1805</span></div>
<div class="c" style="left:659px;top:601px;width:33px;height:13px;line-height:11px;background:#c9a2cd;border-right-width:0px;border-bottom-width:0px"><span>1804</span></div>
<div class="c" style="left:692px;top:601px;width:32px;height:13px;line-height:11px;background:#c9a2cd;border-right-width:0px;border-bottom-width:0px"><span>1803</span></div>
<div class="c W" style="left:724px;top:601px;width:32px;height:13px;line-height:11px;background:#ffffff;border-right-width:0px;border-bottom-width:0px"><span>1802</span></div>
<div class="c W" style="left:756px;top:601px;width:34px;height:13px;line-height:11px;background:#ffffff;border-right-width:1px;border-bottom-width:0px"><span>1801</span></div>
<div class="c" style="left:627px;top:614px;width:32px;height:13px;line-height:11px;background:#c9a2cd;border-right-width:0px;border-bottom-width:0px"><span>1705</span></div>
<div class="c" style="left:659px;top:614px;width:33px;height:13px;line-height:11px;background:#c9a2cd;border-right-width:0px;border-bottom-width:0px"><span>1704</span></div>
<div class="c" style="left:692px;top:614px;width:32px;height:13px;line-height:11px;background:#c9a2cd;border-right-width:0px;border-bottom-width:0px"><span>1703</span></div>
<div class="c W" style="left:724px;top:614px;width:32px;height:13px;line-height:11px;background:#ffffff;border-right-width:0px;border-bottom-width:0px"><span>1702</span></div>
<div class="c W" style="left:756px;top:614px;width:34px;height:13px;line-height:11px;background:#ffffff;border-right-width:1px;border-bottom-width:0px"><span>1701</span></div>
<div class="c" style="left:627px;top:627px;width:32px;height:13px;line-height:11px;background:#c9a2cd;border-right-width:0px;border-bottom-width:0px"><span>1605</span></div>
<div class="c" style="left:659px;top:627px;width:33px;height:13px;line-height:11px;background:#c9a2cd;border-right-width:0px;border-bottom-width:0px"><span>1604</span></div>
<div class="c" style="left:692px;top:627px;width:32px;height:13px;line-height:11px;background:#c9a2cd;border-right-width:0px;border-bottom-width:0px"><span>1603</span></div>
<div class="c W" style="left:724px;top:627px;width:32px;height:13px;line-height:11px;background:#ffffff;border-right-width:0px;border-bottom-width:0px"><span>1602</span></div>
<div class="c W" style="left:756px;top:627px;width:34px;height:13px;line-height:11px;background:#ffffff;border-right-width:1px;border-bottom-width:0px"><span>1601</span></div>
<div class="c W" style="left:627px;top:640px;width:32px;height:13px;line-height:11px;background:#ffffff;border-right-width:0px;border-bottom-width:0px"><span>1505</span></div>
<div class="c W" style="left:659px;top:640px;width:33px;height:13px;line-height:11px;background:#ffffff;border-right-width:0px;border-bottom-width:0px"><span>1504</span></div>
<div class="c W" style="left:692px;top:640px;width:32px;height:13px;line-height:11px;background:#ffffff;border-right-width:0px;border-bottom-width:0px"><span>1503</span></div>
<div class="c W" style="left:724px;top:640px;width:32px;height:13px;line-height:11px;background:#ffffff;border-right-width:0px;border-bottom-width:0px"><span>1502</span></div>
<div class="c W" style="left:756px;top:640px;width:34px;height:13px;line-height:11px;background:#ffffff;border-right-width:1px;border-bottom-width:0px"><span>1501</span></div>
<div class="c W" style="left:627px;top:653px;width:32px;height:13px;line-height:11px;background:#ffffff;border-right-width:0px;border-bottom-width:0px"><span>1405</span></div>
<div class="c W" style="left:659px;top:653px;width:33px;height:13px;line-height:11px;background:#ffffff;border-right-width:0px;border-bottom-width:0px"><span>1404</span></div>
<div class="c W" style="left:692px;top:653px;width:32px;height:13px;line-height:11px;background:#ffffff;border-right-width:0px;border-bottom-width:0px"><span>1403</span></div>
<div class="c W" style="left:724px;top:653px;width:32px;height:13px;line-height:11px;background:#ffffff;border-right-width:0px;border-bottom-width:0px"><span>1402</span></div>
<div class="c" style="left:756px;top:653px;width:34px;height:13px;line-height:11px;background:#c9a2cd;border-right-width:1px;border-bottom-width:0px"><span>1401</span></div>
<div class="c W" style="left:627px;top:666px;width:32px;height:13px;line-height:11px;background:#ffffff;border-right-width:0px;border-bottom-width:0px"><span>1305</span></div>
<div class="c W" style="left:659px;top:666px;width:33px;height:13px;line-height:11px;background:#ffffff;border-right-width:0px;border-bottom-width:0px"><span>1304</span></div>
<div class="c W" style="left:692px;top:666px;width:32px;height:13px;line-height:11px;background:#ffffff;border-right-width:0px;border-bottom-width:0px"><span>1303</span></div>
<div class="c W" style="left:724px;top:666px;width:32px;height:13px;line-height:11px;background:#ffffff;border-right-width:0px;border-bottom-width:0px"><span>1302</span></div>
<div class="c" style="left:756px;top:666px;width:34px;height:13px;line-height:11px;background:#c9a2cd;border-right-width:1px;border-bottom-width:0px"><span>1301</span></div>
<div class="c W" style="left:627px;top:679px;width:32px;height:13px;line-height:11px;background:#ffffff;border-right-width:0px;border-bottom-width:0px"><span>1205</span></div>
<div class="c W" style="left:659px;top:679px;width:33px;height:13px;line-height:11px;background:#ffffff;border-right-width:0px;border-bottom-width:0px"><span>1204</span></div>
<div class="c W" style="left:692px;top:679px;width:32px;height:13px;line-height:11px;background:#ffffff;border-right-width:0px;border-bottom-width:0px"><span>1203</span></div>
<div class="c W" style="left:724px;top:679px;width:32px;height:13px;line-height:11px;background:#ffffff;border-right-width:0px;border-bottom-width:0px"><span>1202</span></div>
<div class="c" style="left:756px;top:679px;width:34px;height:13px;line-height:11px;background:#c9a2cd;border-right-width:1px;border-bottom-width:0px"><span>1201</span></div>
<div class="c W" style="left:627px;top:692px;width:32px;height:13px;line-height:11px;background:#ffffff;border-right-width:0px;border-bottom-width:0px"><span>1105</span></div>
<div class="c W" style="left:659px;top:692px;width:33px;height:13px;line-height:11px;background:#ffffff;border-right-width:0px;border-bottom-width:0px"><span>1104</span></div>
<div class="c W" style="left:692px;top:692px;width:32px;height:13px;line-height:11px;background:#ffffff;border-right-width:0px;border-bottom-width:0px"><span>1103</span></div>
<div class="c W" style="left:724px;top:692px;width:32px;height:13px;line-height:11px;background:#ffffff;border-right-width:0px;border-bottom-width:0px"><span>1102</span></div>
<div class="c" style="left:756px;top:692px;width:34px;height:13px;line-height:11px;background:#c9a2cd;border-right-width:1px;border-bottom-width:0px"><span>1101</span></div>
<div class="c W" style="left:627px;top:705px;width:32px;height:13px;line-height:11px;background:#ffffff;border-right-width:0px;border-bottom-width:0px"><span>1005</span></div>
<div class="c W" style="left:659px;top:705px;width:33px;height:13px;line-height:11px;background:#ffffff;border-right-width:0px;border-bottom-width:0px"><span>1004</span></div>
<div class="c W" style="left:692px;top:705px;width:32px;height:13px;line-height:11px;background:#ffffff;border-right-width:0px;border-bottom-width:0px"><span>1003</span></div>
<div class="c" style="left:724px;top:705px;width:32px;height:13px;line-height:11px;background:#eed8e9;border-right-width:0px;border-bottom-width:0px"><span>1002</span></div>
<div class="c" style="left:756px;top:705px;width:34px;height:13px;line-height:11px;background:#c9a2cd;border-right-width:1px;border-bottom-width:0px"><span>1001</span></div>
<div class="c" style="left:627px;top:718px;width:32px;height:13px;line-height:11px;background:#c9a2cd;border-right-width:0px;border-bottom-width:0px"><span>905</span></div>
<div class="c" style="left:659px;top:718px;width:33px;height:13px;line-height:11px;background:#c9a2cd;border-right-width:0px;border-bottom-width:0px"><span>904</span></div>
<div class="c" style="left:692px;top:718px;width:32px;height:13px;line-height:11px;background:#c9a2cd;border-right-width:0px;border-bottom-width:0px"><span>903</span></div>
<div class="c" style="left:724px;top:718px;width:32px;height:13px;line-height:11px;background:#eed8e9;border-right-width:0px;border-bottom-width:0px"><span>902</span></div>
<div class="c" style="left:756px;top:718px;width:34px;height:13px;line-height:11px;background:#c9a2cd;border-right-width:1px;border-bottom-width:0px"><span>901</span></div>
<div class="c" style="left:627px;top:731px;width:32px;height:13px;line-height:11px;background:#c9a2cd;border-right-width:0px;border-bottom-width:0px"><span>805</span></div>
<div class="c" style="left:659px;top:731px;width:33px;height:13px;line-height:11px;background:#c9a2cd;border-right-width:0px;border-bottom-width:0px"><span>804</span></div>
<div class="c" style="left:692px;top:731px;width:32px;height:13px;line-height:11px;background:#c9a2cd;border-right-width:0px;border-bottom-width:0px"><span>803</span></div>
<div class="c" style="left:724px;top:731px;width:32px;height:13px;line-height:11px;background:#eed8e9;border-right-width:0px;border-bottom-width:0px"><span>802</span></div>
<div class="c" style="left:756px;top:731px;width:34px;height:13px;line-height:11px;background:#c9a2cd;border-right-width:1px;border-bottom-width:0px"><span>801</span></div>
<div class="c" style="left:627px;top:744px;width:32px;height:13px;line-height:11px;background:#c9a2cd;border-right-width:0px;border-bottom-width:0px"><span>705</span></div>
<div class="c" style="left:659px;top:744px;width:33px;height:13px;line-height:11px;background:#c9a2cd;border-right-width:0px;border-bottom-width:0px"><span>704</span></div>
<div class="c" style="left:692px;top:744px;width:32px;height:13px;line-height:11px;background:#c9a2cd;border-right-width:0px;border-bottom-width:0px"><span>703</span></div>
<div class="c" style="left:724px;top:744px;width:32px;height:13px;line-height:11px;background:#eed8e9;border-right-width:0px;border-bottom-width:0px"><span>702</span></div>
<div class="c" style="left:756px;top:744px;width:34px;height:13px;line-height:11px;background:#c9a2cd;border-right-width:1px;border-bottom-width:0px"><span>701</span></div>
<div class="c" style="left:627px;top:757px;width:32px;height:13px;line-height:11px;background:#c9a2cd;border-right-width:0px;border-bottom-width:0px"><span>605</span></div>
<div class="c" style="left:659px;top:757px;width:33px;height:13px;line-height:11px;background:#c9a2cd;border-right-width:0px;border-bottom-width:0px"><span>604</span></div>
<div class="c" style="left:692px;top:757px;width:32px;height:13px;line-height:11px;background:#c9a2cd;border-right-width:0px;border-bottom-width:0px"><span>603</span></div>
<div class="c" style="left:724px;top:757px;width:32px;height:13px;line-height:11px;background:#eed8e9;border-right-width:0px;border-bottom-width:0px"><span>602</span></div>
<div class="c" style="left:756px;top:757px;width:34px;height:13px;line-height:11px;background:#c9a2cd;border-right-width:1px;border-bottom-width:0px"><span>601</span></div>
<div class="c" style="left:627px;top:770px;width:32px;height:13px;line-height:11px;background:#c9a2cd;border-right-width:0px;border-bottom-width:0px"><span>505</span></div>
<div class="c" style="left:659px;top:770px;width:33px;height:13px;line-height:11px;background:#c9a2cd;border-right-width:0px;border-bottom-width:0px"><span>504</span></div>
<div class="c" style="left:692px;top:770px;width:32px;height:13px;line-height:11px;background:#c9a2cd;border-right-width:0px;border-bottom-width:0px"><span>503</span></div>
<div class="c" style="left:724px;top:770px;width:32px;height:13px;line-height:11px;background:#eed8e9;border-right-width:0px;border-bottom-width:0px"><span>502</span></div>
<div class="c" style="left:756px;top:770px;width:34px;height:13px;line-height:11px;background:#c9a2cd;border-right-width:1px;border-bottom-width:0px"><span>501</span></div>
<div class="c" style="left:627px;top:783px;width:32px;height:13px;line-height:11px;background:#c9a2cd;border-right-width:0px;border-bottom-width:0px"><span>405</span></div>
<div class="c" style="left:659px;top:783px;width:33px;height:13px;line-height:11px;background:#c9a2cd;border-right-width:0px;border-bottom-width:0px"><span>404</span></div>
<div class="c" style="left:692px;top:783px;width:32px;height:13px;line-height:11px;background:#c9a2cd;border-right-width:0px;border-bottom-width:0px"><span>403</span></div>
<div class="c" style="left:724px;top:783px;width:32px;height:13px;line-height:11px;background:#eed8e9;border-right-width:0px;border-bottom-width:0px"><span>402</span></div>
<div class="c" style="left:756px;top:783px;width:34px;height:13px;line-height:11px;background:#c9a2cd;border-right-width:1px;border-bottom-width:0px"><span>401</span></div>
<div class="c" style="left:627px;top:796px;width:32px;height:13px;line-height:11px;background:#c9a2cd;border-right-width:0px;border-bottom-width:0px"><span>305</span></div>
<div class="c" style="left:659px;top:796px;width:33px;height:13px;line-height:11px;background:#c9a2cd;border-right-width:0px;border-bottom-width:0px"><span>304</span></div>
<div class="c" style="left:692px;top:796px;width:32px;height:13px;line-height:11px;background:#c9a2cd;border-right-width:0px;border-bottom-width:0px"><span>303</span></div>
<div class="c" style="left:724px;top:796px;width:32px;height:13px;line-height:11px;background:#eed8e9;border-right-width:0px;border-bottom-width:0px"><span>302</span></div>
<div class="c" style="left:756px;top:796px;width:34px;height:13px;line-height:11px;background:#c9a2cd;border-right-width:1px;border-bottom-width:0px"><span>301</span></div>
<div class="c" style="left:627px;top:809px;width:32px;height:13px;line-height:11px;background:#c9a2cd;border-right-width:0px;border-bottom-width:0px"><span>205</span></div>
<div class="c" style="left:659px;top:809px;width:33px;height:13px;line-height:11px;background:#c9a2cd;border-right-width:0px;border-bottom-width:0px"><span>204</span></div>
<div class="c" style="left:692px;top:809px;width:32px;height:13px;line-height:11px;background:#c9a2cd;border-right-width:0px;border-bottom-width:0px"><span>203</span></div>
<div class="c" style="left:724px;top:809px;width:32px;height:13px;line-height:11px;background:#eed8e9;border-right-width:0px;border-bottom-width:0px"><span>202</span></div>
<div class="c" style="left:756px;top:809px;width:34px;height:13px;line-height:11px;background:#c9a2cd;border-right-width:1px;border-bottom-width:0px"><span>201</span></div>
<div class="c w k" style="left:627px;top:822px;width:32px;height:14px;line-height:11px;background:#ffffff;border-right-width:0px;border-bottom-width:1px"><span>로비</span></div>
<div class="c" style="left:659px;top:822px;width:33px;height:14px;line-height:11px;background:#c9a2cd;border-right-width:0px;border-bottom-width:1px"><span>104</span></div>
<div class="c" style="left:692px;top:822px;width:32px;height:14px;line-height:11px;background:#c9a2cd;border-right-width:0px;border-bottom-width:1px"><span>103</span></div>
<div class="c" style="left:724px;top:822px;width:32px;height:14px;line-height:11px;background:#eed8e9;border-right-width:0px;border-bottom-width:1px"><span>102</span></div>
<div class="c w k" style="left:756px;top:822px;width:34px;height:14px;line-height:11px;background:#ffffff;border-right-width:1px;border-bottom-width:1px"><span>로비</span></div>
<div class="lh" style="left:627px;top:848px;width:163px;height:14px;line-height:12px"><span>110<i>동</i></span></div>
<div class="lc" style="left:627px;top:861px;width:33px;height:14px;line-height:12px;background:#d3eaf6"><span>5<i>호</i></span></div>
<div class="lc" style="left:627px;top:874px;width:33px;height:14px;line-height:12px;background:#c9a2cd"><span>84A</span></div>
<div class="lc" style="left:659px;top:861px;width:34px;height:14px;line-height:12px;background:#d3eaf6"><span>4<i>호</i></span></div>
<div class="lc" style="left:659px;top:874px;width:34px;height:14px;line-height:12px;background:#c9a2cd"><span>84A</span></div>
<div class="lc" style="left:692px;top:861px;width:33px;height:14px;line-height:12px;background:#d3eaf6"><span>3<i>호</i></span></div>
<div class="lc" style="left:692px;top:874px;width:33px;height:14px;line-height:12px;background:#c9a2cd"><span>84A</span></div>
<div class="lc" style="left:724px;top:861px;width:33px;height:14px;line-height:12px;background:#d3eaf6"><span>2<i>호</i></span></div>
<div class="lc" style="left:724px;top:874px;width:33px;height:14px;line-height:12px;background:#eed8e9"><span>84B</span></div>
<div class="lc" style="left:756px;top:861px;width:34px;height:14px;line-height:12px;background:#d3eaf6"><span>1<i>호</i></span></div>
<div class="lc" style="left:756px;top:874px;width:34px;height:14px;line-height:12px;background:#c9a2cd"><span>84A</span></div>
<div class="c W" style="left:849px;top:433px;width:32px;height:13px;line-height:11px;background:#ffffff;border-right-width:0px;border-bottom-width:0px"><span>3104</span></div>
<div class="c W" style="left:881px;top:433px;width:33px;height:13px;line-height:11px;background:#ffffff;border-right-width:0px;border-bottom-width:0px"><span>3103</span></div>
<div class="c W" style="left:914px;top:433px;width:32px;height:13px;line-height:11px;background:#ffffff;border-right-width:0px;border-bottom-width:0px"><span>3102</span></div>
<div class="c W" style="left:946px;top:433px;width:33px;height:13px;line-height:11px;background:#ffffff;border-right-width:1px;border-bottom-width:0px"><span>3101</span></div>
<div class="c W" style="left:849px;top:446px;width:32px;height:13px;line-height:11px;background:#ffffff;border-right-width:0px;border-bottom-width:0px"><span>3004</span></div>
<div class="c W" style="left:881px;top:446px;width:33px;height:13px;line-height:11px;background:#ffffff;border-right-width:0px;border-bottom-width:0px"><span>3003</span></div>
<div class="c W" style="left:914px;top:446px;width:32px;height:13px;line-height:11px;background:#ffffff;border-right-width:0px;border-bottom-width:0px"><span>3002</span></div>
<div class="c W" style="left:946px;top:446px;width:33px;height:13px;line-height:11px;background:#ffffff;border-right-width:1px;border-bottom-width:0px"><span>3001</span></div>
<div class="c W" style="left:849px;top:459px;width:32px;height:13px;line-height:11px;background:#ffffff;border-right-width:0px;border-bottom-width:0px"><span>2904</span></div>
<div class="c W" style="left:881px;top:459px;width:33px;height:13px;line-height:11px;background:#ffffff;border-right-width:0px;border-bottom-width:0px"><span>2903</span></div>
<div class="c W" style="left:914px;top:459px;width:32px;height:13px;line-height:11px;background:#ffffff;border-right-width:0px;border-bottom-width:0px"><span>2902</span></div>
<div class="c W" style="left:946px;top:459px;width:33px;height:13px;line-height:11px;background:#ffffff;border-right-width:1px;border-bottom-width:0px"><span>2901</span></div>
<div class="c W" style="left:849px;top:472px;width:32px;height:13px;line-height:11px;background:#ffffff;border-right-width:0px;border-bottom-width:0px"><span>2804</span></div>
<div class="c W" style="left:881px;top:472px;width:33px;height:13px;line-height:11px;background:#ffffff;border-right-width:0px;border-bottom-width:0px"><span>2803</span></div>
<div class="c W" style="left:914px;top:472px;width:32px;height:13px;line-height:11px;background:#ffffff;border-right-width:0px;border-bottom-width:0px"><span>2802</span></div>
<div class="c W" style="left:946px;top:472px;width:33px;height:13px;line-height:11px;background:#ffffff;border-right-width:1px;border-bottom-width:0px"><span>2801</span></div>
<div class="c W" style="left:816px;top:485px;width:33px;height:13px;line-height:11px;background:#ffffff;border-right-width:0px;border-bottom-width:0px"><span>2705</span></div>
<div class="c W" style="left:849px;top:485px;width:32px;height:13px;line-height:11px;background:#ffffff;border-right-width:0px;border-bottom-width:0px"><span>2704</span></div>
<div class="c W" style="left:881px;top:485px;width:33px;height:13px;line-height:11px;background:#ffffff;border-right-width:0px;border-bottom-width:0px"><span>2703</span></div>
<div class="c W" style="left:914px;top:485px;width:32px;height:13px;line-height:11px;background:#ffffff;border-right-width:0px;border-bottom-width:0px"><span>2702</span></div>
<div class="c W" style="left:946px;top:485px;width:33px;height:13px;line-height:11px;background:#ffffff;border-right-width:1px;border-bottom-width:0px"><span>2701</span></div>
<div class="c W" style="left:816px;top:498px;width:33px;height:13px;line-height:11px;background:#ffffff;border-right-width:0px;border-bottom-width:0px"><span>2605</span></div>
<div class="c W" style="left:849px;top:498px;width:32px;height:13px;line-height:11px;background:#ffffff;border-right-width:0px;border-bottom-width:0px"><span>2604</span></div>
<div class="c W" style="left:881px;top:498px;width:33px;height:13px;line-height:11px;background:#ffffff;border-right-width:0px;border-bottom-width:0px"><span>2603</span></div>
<div class="c W" style="left:914px;top:498px;width:32px;height:13px;line-height:11px;background:#ffffff;border-right-width:0px;border-bottom-width:0px"><span>2602</span></div>
<div class="c W" style="left:946px;top:498px;width:33px;height:13px;line-height:11px;background:#ffffff;border-right-width:1px;border-bottom-width:0px"><span>2601</span></div>
<div class="c W" style="left:816px;top:511px;width:33px;height:13px;line-height:11px;background:#ffffff;border-right-width:0px;border-bottom-width:0px"><span>2505</span></div>
<div class="c W" style="left:849px;top:511px;width:32px;height:13px;line-height:11px;background:#ffffff;border-right-width:0px;border-bottom-width:0px"><span>2504</span></div>
<div class="c W" style="left:881px;top:511px;width:33px;height:13px;line-height:11px;background:#ffffff;border-right-width:0px;border-bottom-width:0px"><span>2503</span></div>
<div class="c W" style="left:914px;top:511px;width:32px;height:13px;line-height:11px;background:#ffffff;border-right-width:0px;border-bottom-width:0px"><span>2502</span></div>
<div class="c W" style="left:946px;top:511px;width:33px;height:13px;line-height:11px;background:#ffffff;border-right-width:1px;border-bottom-width:0px"><span>2501</span></div>
<div class="c W" style="left:816px;top:524px;width:33px;height:13px;line-height:11px;background:#ffffff;border-right-width:0px;border-bottom-width:0px"><span>2405</span></div>
<div class="c W" style="left:849px;top:524px;width:32px;height:13px;line-height:11px;background:#ffffff;border-right-width:0px;border-bottom-width:0px"><span>2404</span></div>
<div class="c W" style="left:881px;top:524px;width:33px;height:13px;line-height:11px;background:#ffffff;border-right-width:0px;border-bottom-width:0px"><span>2403</span></div>
<div class="c W" style="left:914px;top:524px;width:32px;height:13px;line-height:11px;background:#ffffff;border-right-width:0px;border-bottom-width:0px"><span>2402</span></div>
<div class="c W" style="left:946px;top:524px;width:33px;height:13px;line-height:11px;background:#ffffff;border-right-width:1px;border-bottom-width:0px"><span>2401</span></div>
<div class="c W" style="left:816px;top:537px;width:33px;height:13px;line-height:11px;background:#ffffff;border-right-width:0px;border-bottom-width:0px"><span>2305</span></div>
<div class="c W" style="left:849px;top:537px;width:32px;height:13px;line-height:11px;background:#ffffff;border-right-width:0px;border-bottom-width:0px"><span>2304</span></div>
<div class="c W" style="left:881px;top:537px;width:33px;height:13px;line-height:11px;background:#ffffff;border-right-width:0px;border-bottom-width:0px"><span>2303</span></div>
<div class="c W" style="left:914px;top:537px;width:32px;height:13px;line-height:11px;background:#ffffff;border-right-width:0px;border-bottom-width:0px"><span>2302</span></div>
<div class="c W" style="left:946px;top:537px;width:33px;height:13px;line-height:11px;background:#ffffff;border-right-width:1px;border-bottom-width:0px"><span>2301</span></div>
<div class="c W" style="left:816px;top:550px;width:33px;height:12px;line-height:10px;background:#ffffff;border-right-width:0px;border-bottom-width:0px"><span>2205</span></div>
<div class="c W" style="left:849px;top:550px;width:32px;height:12px;line-height:10px;background:#ffffff;border-right-width:0px;border-bottom-width:0px"><span>2204</span></div>
<div class="c W" style="left:881px;top:550px;width:33px;height:12px;line-height:10px;background:#ffffff;border-right-width:0px;border-bottom-width:0px"><span>2203</span></div>
<div class="c W" style="left:914px;top:550px;width:32px;height:12px;line-height:10px;background:#ffffff;border-right-width:0px;border-bottom-width:0px"><span>2202</span></div>
<div class="c W" style="left:946px;top:550px;width:33px;height:12px;line-height:10px;background:#ffffff;border-right-width:1px;border-bottom-width:0px"><span>2201</span></div>
<div class="c W" style="left:816px;top:562px;width:33px;height:13px;line-height:11px;background:#ffffff;border-right-width:0px;border-bottom-width:0px"><span>2105</span></div>
<div class="c W" style="left:849px;top:562px;width:32px;height:13px;line-height:11px;background:#ffffff;border-right-width:0px;border-bottom-width:0px"><span>2104</span></div>
<div class="c W" style="left:881px;top:562px;width:33px;height:13px;line-height:11px;background:#ffffff;border-right-width:0px;border-bottom-width:0px"><span>2103</span></div>
<div class="c W" style="left:914px;top:562px;width:32px;height:13px;line-height:11px;background:#ffffff;border-right-width:0px;border-bottom-width:0px"><span>2102</span></div>
<div class="c W" style="left:946px;top:562px;width:33px;height:13px;line-height:11px;background:#ffffff;border-right-width:1px;border-bottom-width:0px"><span>2101</span></div>
<div class="c" style="left:816px;top:575px;width:33px;height:13px;line-height:11px;background:#c9a2cd;border-right-width:0px;border-bottom-width:0px"><span>2005</span></div>
<div class="c" style="left:849px;top:575px;width:32px;height:13px;line-height:11px;background:#eed8e9;border-right-width:0px;border-bottom-width:0px"><span>2004</span></div>
<div class="c W" style="left:881px;top:575px;width:33px;height:13px;line-height:11px;background:#ffffff;border-right-width:0px;border-bottom-width:0px"><span>2003</span></div>
<div class="c W" style="left:914px;top:575px;width:32px;height:13px;line-height:11px;background:#ffffff;border-right-width:0px;border-bottom-width:0px"><span>2002</span></div>
<div class="c W" style="left:946px;top:575px;width:33px;height:13px;line-height:11px;background:#ffffff;border-right-width:1px;border-bottom-width:0px"><span>2001</span></div>
<div class="c" style="left:816px;top:588px;width:33px;height:13px;line-height:11px;background:#c9a2cd;border-right-width:0px;border-bottom-width:0px"><span>1905</span></div>
<div class="c" style="left:849px;top:588px;width:32px;height:13px;line-height:11px;background:#eed8e9;border-right-width:0px;border-bottom-width:0px"><span>1904</span></div>
<div class="c W" style="left:881px;top:588px;width:33px;height:13px;line-height:11px;background:#ffffff;border-right-width:0px;border-bottom-width:0px"><span>1903</span></div>
<div class="c W" style="left:914px;top:588px;width:32px;height:13px;line-height:11px;background:#ffffff;border-right-width:0px;border-bottom-width:0px"><span>1902</span></div>
<div class="c W" style="left:946px;top:588px;width:33px;height:13px;line-height:11px;background:#ffffff;border-right-width:1px;border-bottom-width:0px"><span>1901</span></div>
<div class="c" style="left:816px;top:601px;width:33px;height:13px;line-height:11px;background:#c9a2cd;border-right-width:0px;border-bottom-width:0px"><span>1805</span></div>
<div class="c" style="left:849px;top:601px;width:32px;height:13px;line-height:11px;background:#eed8e9;border-right-width:0px;border-bottom-width:0px"><span>1804</span></div>
<div class="c W" style="left:881px;top:601px;width:33px;height:13px;line-height:11px;background:#ffffff;border-right-width:0px;border-bottom-width:0px"><span>1803</span></div>
<div class="c W" style="left:914px;top:601px;width:32px;height:13px;line-height:11px;background:#ffffff;border-right-width:0px;border-bottom-width:0px"><span>1802</span></div>
<div class="c W" style="left:946px;top:601px;width:33px;height:13px;line-height:11px;background:#ffffff;border-right-width:1px;border-bottom-width:0px"><span>1801</span></div>
<div class="c" style="left:816px;top:614px;width:33px;height:13px;line-height:11px;background:#c9a2cd;border-right-width:0px;border-bottom-width:0px"><span>1705</span></div>
<div class="c" style="left:849px;top:614px;width:32px;height:13px;line-height:11px;background:#eed8e9;border-right-width:0px;border-bottom-width:0px"><span>1704</span></div>
<div class="c W" style="left:881px;top:614px;width:33px;height:13px;line-height:11px;background:#ffffff;border-right-width:0px;border-bottom-width:0px"><span>1703</span></div>
<div class="c W" style="left:914px;top:614px;width:32px;height:13px;line-height:11px;background:#ffffff;border-right-width:0px;border-bottom-width:0px"><span>1702</span></div>
<div class="c W" style="left:946px;top:614px;width:33px;height:13px;line-height:11px;background:#ffffff;border-right-width:1px;border-bottom-width:0px"><span>1701</span></div>
<div class="c" style="left:816px;top:627px;width:33px;height:13px;line-height:11px;background:#c9a2cd;border-right-width:0px;border-bottom-width:0px"><span>1605</span></div>
<div class="c W" style="left:849px;top:627px;width:32px;height:13px;line-height:11px;background:#ffffff;border-right-width:0px;border-bottom-width:0px"><span>1604</span></div>
<div class="c W" style="left:881px;top:627px;width:33px;height:13px;line-height:11px;background:#ffffff;border-right-width:0px;border-bottom-width:0px"><span>1603</span></div>
<div class="c W" style="left:914px;top:627px;width:32px;height:13px;line-height:11px;background:#ffffff;border-right-width:0px;border-bottom-width:0px"><span>1602</span></div>
<div class="c W" style="left:946px;top:627px;width:33px;height:13px;line-height:11px;background:#ffffff;border-right-width:1px;border-bottom-width:0px"><span>1601</span></div>
<div class="c" style="left:816px;top:640px;width:33px;height:13px;line-height:11px;background:#c9a2cd;border-right-width:0px;border-bottom-width:0px"><span>1505</span></div>
<div class="c W" style="left:849px;top:640px;width:32px;height:13px;line-height:11px;background:#ffffff;border-right-width:0px;border-bottom-width:0px"><span>1504</span></div>
<div class="c W" style="left:881px;top:640px;width:33px;height:13px;line-height:11px;background:#ffffff;border-right-width:0px;border-bottom-width:0px"><span>1503</span></div>
<div class="c W" style="left:914px;top:640px;width:32px;height:13px;line-height:11px;background:#ffffff;border-right-width:0px;border-bottom-width:0px"><span>1502</span></div>
<div class="c W" style="left:946px;top:640px;width:33px;height:13px;line-height:11px;background:#ffffff;border-right-width:1px;border-bottom-width:0px"><span>1501</span></div>
<div class="c" style="left:816px;top:653px;width:33px;height:13px;line-height:11px;background:#c9a2cd;border-right-width:0px;border-bottom-width:0px"><span>1405</span></div>
<div class="c W" style="left:849px;top:653px;width:32px;height:13px;line-height:11px;background:#ffffff;border-right-width:0px;border-bottom-width:0px"><span>1404</span></div>
<div class="c W" style="left:881px;top:653px;width:33px;height:13px;line-height:11px;background:#ffffff;border-right-width:0px;border-bottom-width:0px"><span>1403</span></div>
<div class="c W" style="left:914px;top:653px;width:32px;height:13px;line-height:11px;background:#ffffff;border-right-width:0px;border-bottom-width:0px"><span>1402</span></div>
<div class="c" style="left:946px;top:653px;width:33px;height:13px;line-height:11px;background:#a8d9e4;border-right-width:1px;border-bottom-width:0px"><span>1401</span></div>
<div class="c W" style="left:816px;top:666px;width:33px;height:13px;line-height:11px;background:#ffffff;border-right-width:0px;border-bottom-width:0px"><span>1305</span></div>
<div class="c W" style="left:849px;top:666px;width:32px;height:13px;line-height:11px;background:#ffffff;border-right-width:0px;border-bottom-width:0px"><span>1304</span></div>
<div class="c W" style="left:881px;top:666px;width:33px;height:13px;line-height:11px;background:#ffffff;border-right-width:0px;border-bottom-width:0px"><span>1303</span></div>
<div class="c" style="left:914px;top:666px;width:32px;height:13px;line-height:11px;background:#a8d9e4;border-right-width:0px;border-bottom-width:0px"><span>1302</span></div>
<div class="c" style="left:946px;top:666px;width:33px;height:13px;line-height:11px;background:#a8d9e4;border-right-width:1px;border-bottom-width:0px"><span>1301</span></div>
<div class="c W" style="left:816px;top:679px;width:33px;height:13px;line-height:11px;background:#ffffff;border-right-width:0px;border-bottom-width:0px"><span>1205</span></div>
<div class="c W" style="left:849px;top:679px;width:32px;height:13px;line-height:11px;background:#ffffff;border-right-width:0px;border-bottom-width:0px"><span>1204</span></div>
<div class="c W" style="left:881px;top:679px;width:33px;height:13px;line-height:11px;background:#ffffff;border-right-width:0px;border-bottom-width:0px"><span>1203</span></div>
<div class="c" style="left:914px;top:679px;width:32px;height:13px;line-height:11px;background:#a8d9e4;border-right-width:0px;border-bottom-width:0px"><span>1202</span></div>
<div class="c" style="left:946px;top:679px;width:33px;height:13px;line-height:11px;background:#a8d9e4;border-right-width:1px;border-bottom-width:0px"><span>1201</span></div>
<div class="c W" style="left:816px;top:692px;width:33px;height:13px;line-height:11px;background:#ffffff;border-right-width:0px;border-bottom-width:0px"><span>1105</span></div>
<div class="c W" style="left:849px;top:692px;width:32px;height:13px;line-height:11px;background:#ffffff;border-right-width:0px;border-bottom-width:0px"><span>1104</span></div>
<div class="c" style="left:881px;top:692px;width:33px;height:13px;line-height:11px;background:#c9a2cd;border-right-width:0px;border-bottom-width:0px"><span>1103</span></div>
<div class="c" style="left:914px;top:692px;width:32px;height:13px;line-height:11px;background:#a8d9e4;border-right-width:0px;border-bottom-width:0px"><span>1102</span></div>
<div class="c" style="left:946px;top:692px;width:33px;height:13px;line-height:11px;background:#a8d9e4;border-right-width:1px;border-bottom-width:0px"><span>1101</span></div>
<div class="c W" style="left:816px;top:705px;width:33px;height:13px;line-height:11px;background:#ffffff;border-right-width:0px;border-bottom-width:0px"><span>1005</span></div>
<div class="c W" style="left:849px;top:705px;width:32px;height:13px;line-height:11px;background:#ffffff;border-right-width:0px;border-bottom-width:0px"><span>1004</span></div>
<div class="c" style="left:881px;top:705px;width:33px;height:13px;line-height:11px;background:#c9a2cd;border-right-width:0px;border-bottom-width:0px"><span>1003</span></div>
<div class="c" style="left:914px;top:705px;width:32px;height:13px;line-height:11px;background:#a8d9e4;border-right-width:0px;border-bottom-width:0px"><span>1002</span></div>
<div class="c" style="left:946px;top:705px;width:33px;height:13px;line-height:11px;background:#a8d9e4;border-right-width:1px;border-bottom-width:0px"><span>1001</span></div>
<div class="c W" style="left:816px;top:718px;width:33px;height:13px;line-height:11px;background:#ffffff;border-right-width:0px;border-bottom-width:0px"><span>905</span></div>
<div class="c" style="left:849px;top:718px;width:32px;height:13px;line-height:11px;background:#eed8e9;border-right-width:0px;border-bottom-width:0px"><span>904</span></div>
<div class="c" style="left:881px;top:718px;width:33px;height:13px;line-height:11px;background:#c9a2cd;border-right-width:0px;border-bottom-width:0px"><span>903</span></div>
<div class="c" style="left:914px;top:718px;width:32px;height:13px;line-height:11px;background:#a8d9e4;border-right-width:0px;border-bottom-width:0px"><span>902</span></div>
<div class="c" style="left:946px;top:718px;width:33px;height:13px;line-height:11px;background:#a8d9e4;border-right-width:1px;border-bottom-width:0px"><span>901</span></div>
<div class="c W" style="left:816px;top:731px;width:33px;height:13px;line-height:11px;background:#ffffff;border-right-width:0px;border-bottom-width:0px"><span>805</span></div>
<div class="c" style="left:849px;top:731px;width:32px;height:13px;line-height:11px;background:#eed8e9;border-right-width:0px;border-bottom-width:0px"><span>804</span></div>
<div class="c" style="left:881px;top:731px;width:33px;height:13px;line-height:11px;background:#c9a2cd;border-right-width:0px;border-bottom-width:0px"><span>803</span></div>
<div class="c" style="left:914px;top:731px;width:32px;height:13px;line-height:11px;background:#a8d9e4;border-right-width:0px;border-bottom-width:0px"><span>802</span></div>
<div class="c" style="left:946px;top:731px;width:33px;height:13px;line-height:11px;background:#a8d9e4;border-right-width:1px;border-bottom-width:0px"><span>801</span></div>
<div class="c W" style="left:816px;top:744px;width:33px;height:13px;line-height:11px;background:#ffffff;border-right-width:0px;border-bottom-width:0px"><span>705</span></div>
<div class="c" style="left:849px;top:744px;width:32px;height:13px;line-height:11px;background:#eed8e9;border-right-width:0px;border-bottom-width:0px"><span>704</span></div>
<div class="c W" style="left:881px;top:744px;width:33px;height:13px;line-height:11px;background:#ffffff;border-right-width:0px;border-bottom-width:0px"><span>703</span></div>
<div class="c" style="left:914px;top:744px;width:32px;height:13px;line-height:11px;background:#a8d9e4;border-right-width:0px;border-bottom-width:0px"><span>702</span></div>
<div class="c" style="left:946px;top:744px;width:33px;height:13px;line-height:11px;background:#a8d9e4;border-right-width:1px;border-bottom-width:0px"><span>701</span></div>
<div class="c W" style="left:816px;top:757px;width:33px;height:13px;line-height:11px;background:#ffffff;border-right-width:0px;border-bottom-width:0px"><span>605</span></div>
<div class="c" style="left:849px;top:757px;width:32px;height:13px;line-height:11px;background:#eed8e9;border-right-width:0px;border-bottom-width:0px"><span>604</span></div>
<div class="c W" style="left:881px;top:757px;width:33px;height:13px;line-height:11px;background:#ffffff;border-right-width:0px;border-bottom-width:0px"><span>603</span></div>
<div class="c W" style="left:914px;top:757px;width:32px;height:13px;line-height:11px;background:#ffffff;border-right-width:0px;border-bottom-width:0px"><span>602</span></div>
<div class="c" style="left:946px;top:757px;width:33px;height:13px;line-height:11px;background:#a8d9e4;border-right-width:1px;border-bottom-width:0px"><span>601</span></div>
<div class="c W" style="left:816px;top:770px;width:33px;height:13px;line-height:11px;background:#ffffff;border-right-width:0px;border-bottom-width:0px"><span>505</span></div>
<div class="c" style="left:849px;top:770px;width:32px;height:13px;line-height:11px;background:#eed8e9;border-right-width:0px;border-bottom-width:0px"><span>504</span></div>
<div class="c" style="left:881px;top:770px;width:33px;height:13px;line-height:11px;background:#c9a2cd;border-right-width:0px;border-bottom-width:0px"><span>503</span></div>
<div class="c" style="left:914px;top:770px;width:32px;height:13px;line-height:11px;background:#a8d9e4;border-right-width:0px;border-bottom-width:0px"><span>502</span></div>
<div class="c" style="left:946px;top:770px;width:33px;height:13px;line-height:11px;background:#a8d9e4;border-right-width:1px;border-bottom-width:0px"><span>501</span></div>
<div class="c W" style="left:816px;top:783px;width:33px;height:13px;line-height:11px;background:#ffffff;border-right-width:0px;border-bottom-width:0px"><span>405</span></div>
<div class="c" style="left:849px;top:783px;width:32px;height:13px;line-height:11px;background:#eed8e9;border-right-width:0px;border-bottom-width:0px"><span>404</span></div>
<div class="c" style="left:881px;top:783px;width:33px;height:13px;line-height:11px;background:#c9a2cd;border-right-width:0px;border-bottom-width:0px"><span>403</span></div>
<div class="c" style="left:914px;top:783px;width:32px;height:13px;line-height:11px;background:#a8d9e4;border-right-width:0px;border-bottom-width:0px"><span>402</span></div>
<div class="c" style="left:946px;top:783px;width:33px;height:13px;line-height:11px;background:#a8d9e4;border-right-width:1px;border-bottom-width:0px"><span>401</span></div>
<div class="c W" style="left:816px;top:796px;width:33px;height:13px;line-height:11px;background:#ffffff;border-right-width:0px;border-bottom-width:0px"><span>305</span></div>
<div class="c" style="left:849px;top:796px;width:32px;height:13px;line-height:11px;background:#eed8e9;border-right-width:0px;border-bottom-width:0px"><span>304</span></div>
<div class="c" style="left:881px;top:796px;width:33px;height:13px;line-height:11px;background:#c9a2cd;border-right-width:0px;border-bottom-width:0px"><span>303</span></div>
<div class="c" style="left:914px;top:796px;width:32px;height:13px;line-height:11px;background:#a8d9e4;border-right-width:0px;border-bottom-width:0px"><span>302</span></div>
<div class="c" style="left:946px;top:796px;width:33px;height:13px;line-height:11px;background:#a8d9e4;border-right-width:1px;border-bottom-width:0px"><span>301</span></div>
<div class="c W" style="left:816px;top:809px;width:33px;height:13px;line-height:11px;background:#ffffff;border-right-width:0px;border-bottom-width:0px"><span>205</span></div>
<div class="c" style="left:849px;top:809px;width:32px;height:13px;line-height:11px;background:#eed8e9;border-right-width:0px;border-bottom-width:0px"><span>204</span></div>
<div class="c" style="left:881px;top:809px;width:33px;height:13px;line-height:11px;background:#c9a2cd;border-right-width:0px;border-bottom-width:0px"><span>203</span></div>
<div class="c" style="left:914px;top:809px;width:32px;height:13px;line-height:11px;background:#a8d9e4;border-right-width:0px;border-bottom-width:0px"><span>202</span></div>
<div class="c" style="left:946px;top:809px;width:33px;height:13px;line-height:11px;background:#a8d9e4;border-right-width:1px;border-bottom-width:0px"><span>201</span></div>
<div class="c w k" style="left:816px;top:822px;width:33px;height:14px;line-height:11px;background:#ffffff;border-right-width:0px;border-bottom-width:1px"><span>로비</span></div>
<div class="c" style="left:849px;top:822px;width:32px;height:14px;line-height:11px;background:#eed8e9;border-right-width:0px;border-bottom-width:1px"><span>104</span></div>
<div class="c" style="left:881px;top:822px;width:33px;height:14px;line-height:11px;background:#c9a2cd;border-right-width:0px;border-bottom-width:1px"><span>103</span></div>
<div class="c" style="left:914px;top:822px;width:32px;height:14px;line-height:11px;background:#a8d9e4;border-right-width:0px;border-bottom-width:1px"><span>102</span></div>
<div class="c w k" style="left:946px;top:822px;width:33px;height:14px;line-height:11px;background:#ffffff;border-right-width:1px;border-bottom-width:1px"><span>로비</span></div>
<div class="lh" style="left:816px;top:848px;width:163px;height:14px;line-height:12px"><span>111<i>동</i></span></div>
<div class="lc" style="left:816px;top:861px;width:34px;height:14px;line-height:12px;background:#d3eaf6"><span>5<i>호</i></span></div>
<div class="lc" style="left:816px;top:874px;width:34px;height:14px;line-height:12px;background:#c9a2cd"><span>84A</span></div>
<div class="lc" style="left:849px;top:861px;width:33px;height:14px;line-height:12px;background:#d3eaf6"><span>4<i>호</i></span></div>
<div class="lc" style="left:849px;top:874px;width:33px;height:14px;line-height:12px;background:#eed8e9"><span>84B</span></div>
<div class="lc" style="left:881px;top:861px;width:34px;height:14px;line-height:12px;background:#d3eaf6"><span>3<i>호</i></span></div>
<div class="lc" style="left:881px;top:874px;width:34px;height:14px;line-height:12px;background:#c9a2cd"><span>84A</span></div>
<div class="lc" style="left:914px;top:861px;width:33px;height:14px;line-height:12px;background:#d3eaf6"><span>2<i>호</i></span></div>
<div class="lc" style="left:914px;top:874px;width:33px;height:14px;line-height:12px;background:#a8d9e4"><span>74</span></div>
<div class="lc" style="left:946px;top:861px;width:33px;height:14px;line-height:12px;background:#d3eaf6"><span>1<i>호</i></span></div>
<div class="lc" style="left:946px;top:874px;width:33px;height:14px;line-height:12px;background:#a8d9e4"><span>74</span></div>
<div class="c" style="left:1006px;top:459px;width:32px;height:13px;line-height:11px;background:#a8d9e4;border-right-width:0px;border-bottom-width:0px"><span>2905</span></div>
<div class="c W" style="left:1038px;top:459px;width:33px;height:13px;line-height:11px;background:#ffffff;border-right-width:0px;border-bottom-width:0px"><span>2904</span></div>
<div class="c" style="left:1071px;top:459px;width:32px;height:13px;line-height:11px;background:#f7ef7b;border-right-width:0px;border-bottom-width:0px"><span>2903</span></div>
<div class="c W" style="left:1103px;top:459px;width:32px;height:13px;line-height:11px;background:#ffffff;border-right-width:0px;border-bottom-width:0px"><span>2902</span></div>
<div class="c W" style="left:1135px;top:459px;width:34px;height:13px;line-height:11px;background:#ffffff;border-right-width:1px;border-bottom-width:0px"><span>2901</span></div>
<div class="c" style="left:1006px;top:472px;width:32px;height:13px;line-height:11px;background:#a8d9e4;border-right-width:0px;border-bottom-width:0px"><span>2805</span></div>
<div class="c" style="left:1038px;top:472px;width:33px;height:13px;line-height:11px;background:#a8d9e4;border-right-width:0px;border-bottom-width:0px"><span>2804</span></div>
<div class="c W" style="left:1071px;top:472px;width:32px;height:13px;line-height:11px;background:#ffffff;border-right-width:0px;border-bottom-width:0px"><span>2803</span></div>
<div class="c W" style="left:1103px;top:472px;width:32px;height:13px;line-height:11px;background:#ffffff;border-right-width:0px;border-bottom-width:0px"><span>2802</span></div>
<div class="c W" style="left:1135px;top:472px;width:34px;height:13px;line-height:11px;background:#ffffff;border-right-width:1px;border-bottom-width:0px"><span>2801</span></div>
<div class="c" style="left:1006px;top:485px;width:32px;height:13px;line-height:11px;background:#a8d9e4;border-right-width:0px;border-bottom-width:0px"><span>2705</span></div>
<div class="c" style="left:1038px;top:485px;width:33px;height:13px;line-height:11px;background:#a8d9e4;border-right-width:0px;border-bottom-width:0px"><span>2704</span></div>
<div class="c W" style="left:1071px;top:485px;width:32px;height:13px;line-height:11px;background:#ffffff;border-right-width:0px;border-bottom-width:0px"><span>2703</span></div>
<div class="c W" style="left:1103px;top:485px;width:32px;height:13px;line-height:11px;background:#ffffff;border-right-width:0px;border-bottom-width:0px"><span>2702</span></div>
<div class="c W" style="left:1135px;top:485px;width:34px;height:13px;line-height:11px;background:#ffffff;border-right-width:1px;border-bottom-width:0px"><span>2701</span></div>
<div class="c" style="left:1006px;top:498px;width:32px;height:13px;line-height:11px;background:#a8d9e4;border-right-width:0px;border-bottom-width:0px"><span>2605</span></div>
<div class="c" style="left:1038px;top:498px;width:33px;height:13px;line-height:11px;background:#a8d9e4;border-right-width:0px;border-bottom-width:0px"><span>2604</span></div>
<div class="c W" style="left:1071px;top:498px;width:32px;height:13px;line-height:11px;background:#ffffff;border-right-width:0px;border-bottom-width:0px"><span>2603</span></div>
<div class="c W" style="left:1103px;top:498px;width:32px;height:13px;line-height:11px;background:#ffffff;border-right-width:0px;border-bottom-width:0px"><span>2602</span></div>
<div class="c W" style="left:1135px;top:498px;width:34px;height:13px;line-height:11px;background:#ffffff;border-right-width:1px;border-bottom-width:0px"><span>2601</span></div>
<div class="c" style="left:1006px;top:511px;width:32px;height:13px;line-height:11px;background:#a8d9e4;border-right-width:0px;border-bottom-width:0px"><span>2505</span></div>
<div class="c" style="left:1038px;top:511px;width:33px;height:13px;line-height:11px;background:#a8d9e4;border-right-width:0px;border-bottom-width:0px"><span>2504</span></div>
<div class="c W" style="left:1071px;top:511px;width:32px;height:13px;line-height:11px;background:#ffffff;border-right-width:0px;border-bottom-width:0px"><span>2503</span></div>
<div class="c W" style="left:1103px;top:511px;width:32px;height:13px;line-height:11px;background:#ffffff;border-right-width:0px;border-bottom-width:0px"><span>2502</span></div>
<div class="c W" style="left:1135px;top:511px;width:34px;height:13px;line-height:11px;background:#ffffff;border-right-width:1px;border-bottom-width:0px"><span>2501</span></div>
<div class="c" style="left:1006px;top:524px;width:32px;height:13px;line-height:11px;background:#a8d9e4;border-right-width:0px;border-bottom-width:0px"><span>2405</span></div>
<div class="c" style="left:1038px;top:524px;width:33px;height:13px;line-height:11px;background:#a8d9e4;border-right-width:0px;border-bottom-width:0px"><span>2404</span></div>
<div class="c" style="left:1071px;top:524px;width:32px;height:13px;line-height:11px;background:#f7ef7b;border-right-width:0px;border-bottom-width:0px"><span>2403</span></div>
<div class="c W" style="left:1103px;top:524px;width:32px;height:13px;line-height:11px;background:#ffffff;border-right-width:0px;border-bottom-width:0px"><span>2402</span></div>
<div class="c" style="left:1135px;top:524px;width:34px;height:13px;line-height:11px;background:#f7ef7b;border-right-width:1px;border-bottom-width:0px"><span>2401</span></div>
<div class="c" style="left:1006px;top:537px;width:32px;height:13px;line-height:11px;background:#a8d9e4;border-right-width:0px;border-bottom-width:0px"><span>2305</span></div>
<div class="c" style="left:1038px;top:537px;width:33px;height:13px;line-height:11px;background:#a8d9e4;border-right-width:0px;border-bottom-width:0px"><span>2304</span></div>
<div class="c" style="left:1071px;top:537px;width:32px;height:13px;line-height:11px;background:#f7ef7b;border-right-width:0px;border-bottom-width:0px"><span>2303</span></div>
<div class="c" style="left:1103px;top:537px;width:32px;height:13px;line-height:11px;background:#a9d4a1;border-right-width:0px;border-bottom-width:0px"><span>2302</span></div>
<div class="c" style="left:1135px;top:537px;width:34px;height:13px;line-height:11px;background:#f7ef7b;border-right-width:1px;border-bottom-width:0px"><span>2301</span></div>
<div class="c" style="left:1006px;top:550px;width:32px;height:12px;line-height:10px;background:#a8d9e4;border-right-width:0px;border-bottom-width:0px"><span>2205</span></div>
<div class="c" style="left:1038px;top:550px;width:33px;height:12px;line-height:10px;background:#a8d9e4;border-right-width:0px;border-bottom-width:0px"><span>2204</span></div>
<div class="c" style="left:1071px;top:550px;width:32px;height:12px;line-height:10px;background:#f7ef7b;border-right-width:0px;border-bottom-width:0px"><span>2203</span></div>
<div class="c" style="left:1103px;top:550px;width:32px;height:12px;line-height:10px;background:#a9d4a1;border-right-width:0px;border-bottom-width:0px"><span>2202</span></div>
<div class="c" style="left:1135px;top:550px;width:34px;height:12px;line-height:10px;background:#f7ef7b;border-right-width:1px;border-bottom-width:0px"><span>2201</span></div>
<div class="c" style="left:1006px;top:562px;width:32px;height:13px;line-height:11px;background:#a8d9e4;border-right-width:0px;border-bottom-width:0px"><span>2105</span></div>
<div class="c" style="left:1038px;top:562px;width:33px;height:13px;line-height:11px;background:#a8d9e4;border-right-width:0px;border-bottom-width:0px"><span>2104</span></div>
<div class="c" style="left:1071px;top:562px;width:32px;height:13px;line-height:11px;background:#f7ef7b;border-right-width:0px;border-bottom-width:0px"><span>2103</span></div>
<div class="c" style="left:1103px;top:562px;width:32px;height:13px;line-height:11px;background:#a9d4a1;border-right-width:0px;border-bottom-width:0px"><span>2102</span></div>
<div class="c" style="left:1135px;top:562px;width:34px;height:13px;line-height:11px;background:#f7ef7b;border-right-width:1px;border-bottom-width:0px"><span>2101</span></div>
<div class="c" style="left:1006px;top:575px;width:32px;height:13px;line-height:11px;background:#a8d9e4;border-right-width:0px;border-bottom-width:0px"><span>2005</span></div>
<div class="c" style="left:1038px;top:575px;width:33px;height:13px;line-height:11px;background:#a8d9e4;border-right-width:0px;border-bottom-width:0px"><span>2004</span></div>
<div class="c" style="left:1071px;top:575px;width:32px;height:13px;line-height:11px;background:#f7ef7b;border-right-width:0px;border-bottom-width:0px"><span>2003</span></div>
<div class="c" style="left:1103px;top:575px;width:32px;height:13px;line-height:11px;background:#a9d4a1;border-right-width:0px;border-bottom-width:0px"><span>2002</span></div>
<div class="c" style="left:1135px;top:575px;width:34px;height:13px;line-height:11px;background:#f7ef7b;border-right-width:1px;border-bottom-width:0px"><span>2001</span></div>
<div class="c W" style="left:1006px;top:588px;width:32px;height:13px;line-height:11px;background:#ffffff;border-right-width:0px;border-bottom-width:0px"><span>1905</span></div>
<div class="c W" style="left:1038px;top:588px;width:33px;height:13px;line-height:11px;background:#ffffff;border-right-width:0px;border-bottom-width:0px"><span>1904</span></div>
<div class="c" style="left:1071px;top:588px;width:32px;height:13px;line-height:11px;background:#f7ef7b;border-right-width:0px;border-bottom-width:0px"><span>1903</span></div>
<div class="c" style="left:1103px;top:588px;width:32px;height:13px;line-height:11px;background:#a9d4a1;border-right-width:0px;border-bottom-width:0px"><span>1902</span></div>
<div class="c" style="left:1135px;top:588px;width:34px;height:13px;line-height:11px;background:#f7ef7b;border-right-width:1px;border-bottom-width:0px"><span>1901</span></div>
<div class="c W" style="left:1006px;top:601px;width:32px;height:13px;line-height:11px;background:#ffffff;border-right-width:0px;border-bottom-width:0px"><span>1805</span></div>
<div class="c W" style="left:1038px;top:601px;width:33px;height:13px;line-height:11px;background:#ffffff;border-right-width:0px;border-bottom-width:0px"><span>1804</span></div>
<div class="c" style="left:1071px;top:601px;width:32px;height:13px;line-height:11px;background:#f7ef7b;border-right-width:0px;border-bottom-width:0px"><span>1803</span></div>
<div class="c" style="left:1103px;top:601px;width:32px;height:13px;line-height:11px;background:#a9d4a1;border-right-width:0px;border-bottom-width:0px"><span>1802</span></div>
<div class="c" style="left:1135px;top:601px;width:34px;height:13px;line-height:11px;background:#f7ef7b;border-right-width:1px;border-bottom-width:0px"><span>1801</span></div>
<div class="c W" style="left:1006px;top:614px;width:32px;height:13px;line-height:11px;background:#ffffff;border-right-width:0px;border-bottom-width:0px"><span>1705</span></div>
<div class="c W" style="left:1038px;top:614px;width:33px;height:13px;line-height:11px;background:#ffffff;border-right-width:0px;border-bottom-width:0px"><span>1704</span></div>
<div class="c W" style="left:1071px;top:614px;width:32px;height:13px;line-height:11px;background:#ffffff;border-right-width:0px;border-bottom-width:0px"><span>1703</span></div>
<div class="c" style="left:1103px;top:614px;width:32px;height:13px;line-height:11px;background:#a9d4a1;border-right-width:0px;border-bottom-width:0px"><span>1702</span></div>
<div class="c W" style="left:1135px;top:614px;width:34px;height:13px;line-height:11px;background:#ffffff;border-right-width:1px;border-bottom-width:0px"><span>1701</span></div>
<div class="c W" style="left:1006px;top:627px;width:32px;height:13px;line-height:11px;background:#ffffff;border-right-width:0px;border-bottom-width:0px"><span>1605</span></div>
<div class="c W" style="left:1038px;top:627px;width:33px;height:13px;line-height:11px;background:#ffffff;border-right-width:0px;border-bottom-width:0px"><span>1604</span></div>
<div class="c W" style="left:1071px;top:627px;width:32px;height:13px;line-height:11px;background:#ffffff;border-right-width:0px;border-bottom-width:0px"><span>1603</span></div>
<div class="c" style="left:1103px;top:627px;width:32px;height:13px;line-height:11px;background:#a9d4a1;border-right-width:0px;border-bottom-width:0px"><span>1602</span></div>
<div class="c W" style="left:1135px;top:627px;width:34px;height:13px;line-height:11px;background:#ffffff;border-right-width:1px;border-bottom-width:0px"><span>1601</span></div>
<div class="c W" style="left:1006px;top:640px;width:32px;height:13px;line-height:11px;background:#ffffff;border-right-width:0px;border-bottom-width:0px"><span>1505</span></div>
<div class="c W" style="left:1038px;top:640px;width:33px;height:13px;line-height:11px;background:#ffffff;border-right-width:0px;border-bottom-width:0px"><span>1504</span></div>
<div class="c W" style="left:1071px;top:640px;width:32px;height:13px;line-height:11px;background:#ffffff;border-right-width:0px;border-bottom-width:0px"><span>1503</span></div>
<div class="c" style="left:1103px;top:640px;width:32px;height:13px;line-height:11px;background:#a9d4a1;border-right-width:0px;border-bottom-width:0px"><span>1502</span></div>
<div class="c W" style="left:1135px;top:640px;width:34px;height:13px;line-height:11px;background:#ffffff;border-right-width:1px;border-bottom-width:0px"><span>1501</span></div>
<div class="c W" style="left:1006px;top:653px;width:32px;height:13px;line-height:11px;background:#ffffff;border-right-width:0px;border-bottom-width:0px"><span>1405</span></div>
<div class="c W" style="left:1038px;top:653px;width:33px;height:13px;line-height:11px;background:#ffffff;border-right-width:0px;border-bottom-width:0px"><span>1404</span></div>
<div class="c W" style="left:1071px;top:653px;width:32px;height:13px;line-height:11px;background:#ffffff;border-right-width:0px;border-bottom-width:0px"><span>1403</span></div>
<div class="c" style="left:1103px;top:653px;width:32px;height:13px;line-height:11px;background:#a9d4a1;border-right-width:0px;border-bottom-width:0px"><span>1402</span></div>
<div class="c W" style="left:1135px;top:653px;width:34px;height:13px;line-height:11px;background:#ffffff;border-right-width:1px;border-bottom-width:0px"><span>1401</span></div>
<div class="c" style="left:1006px;top:666px;width:32px;height:13px;line-height:11px;background:#a8d9e4;border-right-width:0px;border-bottom-width:0px"><span>1305</span></div>
<div class="c" style="left:1038px;top:666px;width:33px;height:13px;line-height:11px;background:#a8d9e4;border-right-width:0px;border-bottom-width:0px"><span>1304</span></div>
<div class="c W" style="left:1071px;top:666px;width:32px;height:13px;line-height:11px;background:#ffffff;border-right-width:0px;border-bottom-width:0px"><span>1303</span></div>
<div class="c" style="left:1103px;top:666px;width:32px;height:13px;line-height:11px;background:#a9d4a1;border-right-width:0px;border-bottom-width:0px"><span>1302</span></div>
<div class="c W" style="left:1135px;top:666px;width:34px;height:13px;line-height:11px;background:#ffffff;border-right-width:1px;border-bottom-width:0px"><span>1301</span></div>
<div class="c" style="left:1006px;top:679px;width:32px;height:13px;line-height:11px;background:#a8d9e4;border-right-width:0px;border-bottom-width:0px"><span>1205</span></div>
<div class="c" style="left:1038px;top:679px;width:33px;height:13px;line-height:11px;background:#a8d9e4;border-right-width:0px;border-bottom-width:0px"><span>1204</span></div>
<div class="c W" style="left:1071px;top:679px;width:32px;height:13px;line-height:11px;background:#ffffff;border-right-width:0px;border-bottom-width:0px"><span>1203</span></div>
<div class="c" style="left:1103px;top:679px;width:32px;height:13px;line-height:11px;background:#a9d4a1;border-right-width:0px;border-bottom-width:0px"><span>1202</span></div>
<div class="c W" style="left:1135px;top:679px;width:34px;height:13px;line-height:11px;background:#ffffff;border-right-width:1px;border-bottom-width:0px"><span>1201</span></div>
<div class="c" style="left:1006px;top:692px;width:32px;height:13px;line-height:11px;background:#a8d9e4;border-right-width:0px;border-bottom-width:0px"><span>1105</span></div>
<div class="c" style="left:1038px;top:692px;width:33px;height:13px;line-height:11px;background:#a8d9e4;border-right-width:0px;border-bottom-width:0px"><span>1104</span></div>
<div class="c W" style="left:1071px;top:692px;width:32px;height:13px;line-height:11px;background:#ffffff;border-right-width:0px;border-bottom-width:0px"><span>1103</span></div>
<div class="c" style="left:1103px;top:692px;width:32px;height:13px;line-height:11px;background:#a9d4a1;border-right-width:0px;border-bottom-width:0px"><span>1102</span></div>
<div class="c W" style="left:1135px;top:692px;width:34px;height:13px;line-height:11px;background:#ffffff;border-right-width:1px;border-bottom-width:0px"><span>1101</span></div>
<div class="c" style="left:1006px;top:705px;width:32px;height:13px;line-height:11px;background:#a8d9e4;border-right-width:0px;border-bottom-width:0px"><span>1005</span></div>
<div class="c" style="left:1038px;top:705px;width:33px;height:13px;line-height:11px;background:#a8d9e4;border-right-width:0px;border-bottom-width:0px"><span>1004</span></div>
<div class="c W" style="left:1071px;top:705px;width:32px;height:13px;line-height:11px;background:#ffffff;border-right-width:0px;border-bottom-width:0px"><span>1003</span></div>
<div class="c" style="left:1103px;top:705px;width:32px;height:13px;line-height:11px;background:#a9d4a1;border-right-width:0px;border-bottom-width:0px"><span>1002</span></div>
<div class="c W" style="left:1135px;top:705px;width:34px;height:13px;line-height:11px;background:#ffffff;border-right-width:1px;border-bottom-width:0px"><span>1001</span></div>
<div class="c" style="left:1006px;top:718px;width:32px;height:13px;line-height:11px;background:#a8d9e4;border-right-width:0px;border-bottom-width:0px"><span>905</span></div>
<div class="c" style="left:1038px;top:718px;width:33px;height:13px;line-height:11px;background:#a8d9e4;border-right-width:0px;border-bottom-width:0px"><span>904</span></div>
<div class="c W" style="left:1071px;top:718px;width:32px;height:13px;line-height:11px;background:#ffffff;border-right-width:0px;border-bottom-width:0px"><span>903</span></div>
<div class="c" style="left:1103px;top:718px;width:32px;height:13px;line-height:11px;background:#a9d4a1;border-right-width:0px;border-bottom-width:0px"><span>902</span></div>
<div class="c W" style="left:1135px;top:718px;width:34px;height:13px;line-height:11px;background:#ffffff;border-right-width:1px;border-bottom-width:0px"><span>901</span></div>
<div class="c" style="left:1006px;top:731px;width:32px;height:13px;line-height:11px;background:#a8d9e4;border-right-width:0px;border-bottom-width:0px"><span>805</span></div>
<div class="c" style="left:1038px;top:731px;width:33px;height:13px;line-height:11px;background:#a8d9e4;border-right-width:0px;border-bottom-width:0px"><span>804</span></div>
<div class="c W" style="left:1071px;top:731px;width:32px;height:13px;line-height:11px;background:#ffffff;border-right-width:0px;border-bottom-width:0px"><span>803</span></div>
<div class="c W" style="left:1103px;top:731px;width:32px;height:13px;line-height:11px;background:#ffffff;border-right-width:0px;border-bottom-width:0px"><span>802</span></div>
<div class="c W" style="left:1135px;top:731px;width:34px;height:13px;line-height:11px;background:#ffffff;border-right-width:1px;border-bottom-width:0px"><span>801</span></div>
<div class="c" style="left:1006px;top:744px;width:32px;height:13px;line-height:11px;background:#a8d9e4;border-right-width:0px;border-bottom-width:0px"><span>705</span></div>
<div class="c" style="left:1038px;top:744px;width:33px;height:13px;line-height:11px;background:#a8d9e4;border-right-width:0px;border-bottom-width:0px"><span>704</span></div>
<div class="c" style="left:1071px;top:744px;width:32px;height:13px;line-height:11px;background:#f7ef7b;border-right-width:0px;border-bottom-width:0px"><span>703</span></div>
<div class="c W" style="left:1103px;top:744px;width:32px;height:13px;line-height:11px;background:#ffffff;border-right-width:0px;border-bottom-width:0px"><span>702</span></div>
<div class="c W" style="left:1135px;top:744px;width:34px;height:13px;line-height:11px;background:#ffffff;border-right-width:1px;border-bottom-width:0px"><span>701</span></div>
<div class="c" style="left:1006px;top:757px;width:32px;height:13px;line-height:11px;background:#a8d9e4;border-right-width:0px;border-bottom-width:0px"><span>605</span></div>
<div class="c" style="left:1038px;top:757px;width:33px;height:13px;line-height:11px;background:#a8d9e4;border-right-width:0px;border-bottom-width:0px"><span>604</span></div>
<div class="c" style="left:1071px;top:757px;width:32px;height:13px;line-height:11px;background:#f7ef7b;border-right-width:0px;border-bottom-width:0px"><span>603</span></div>
<div class="c W" style="left:1103px;top:757px;width:32px;height:13px;line-height:11px;background:#ffffff;border-right-width:0px;border-bottom-width:0px"><span>602</span></div>
<div class="c" style="left:1135px;top:757px;width:34px;height:13px;line-height:11px;background:#f7ef7b;border-right-width:1px;border-bottom-width:0px"><span>601</span></div>
<div class="c" style="left:1006px;top:770px;width:32px;height:13px;line-height:11px;background:#a8d9e4;border-right-width:0px;border-bottom-width:0px"><span>505</span></div>
<div class="c" style="left:1038px;top:770px;width:33px;height:13px;line-height:11px;background:#a8d9e4;border-right-width:0px;border-bottom-width:0px"><span>504</span></div>
<div class="c" style="left:1071px;top:770px;width:32px;height:13px;line-height:11px;background:#f7ef7b;border-right-width:0px;border-bottom-width:0px"><span>503</span></div>
<div class="c W" style="left:1103px;top:770px;width:32px;height:13px;line-height:11px;background:#ffffff;border-right-width:0px;border-bottom-width:0px"><span>502</span></div>
<div class="c" style="left:1135px;top:770px;width:34px;height:13px;line-height:11px;background:#f7ef7b;border-right-width:1px;border-bottom-width:0px"><span>501</span></div>
<div class="c" style="left:1006px;top:783px;width:32px;height:13px;line-height:11px;background:#a8d9e4;border-right-width:0px;border-bottom-width:0px"><span>405</span></div>
<div class="c" style="left:1038px;top:783px;width:33px;height:13px;line-height:11px;background:#a8d9e4;border-right-width:0px;border-bottom-width:0px"><span>404</span></div>
<div class="c" style="left:1071px;top:783px;width:32px;height:13px;line-height:11px;background:#f7ef7b;border-right-width:0px;border-bottom-width:0px"><span>403</span></div>
<div class="c W" style="left:1103px;top:783px;width:32px;height:13px;line-height:11px;background:#ffffff;border-right-width:0px;border-bottom-width:0px"><span>402</span></div>
<div class="c" style="left:1135px;top:783px;width:34px;height:13px;line-height:11px;background:#f7ef7b;border-right-width:1px;border-bottom-width:0px"><span>401</span></div>
<div class="c" style="left:1006px;top:796px;width:32px;height:13px;line-height:11px;background:#a8d9e4;border-right-width:0px;border-bottom-width:0px"><span>305</span></div>
<div class="c" style="left:1038px;top:796px;width:33px;height:13px;line-height:11px;background:#a8d9e4;border-right-width:0px;border-bottom-width:0px"><span>304</span></div>
<div class="c" style="left:1071px;top:796px;width:32px;height:13px;line-height:11px;background:#f7ef7b;border-right-width:0px;border-bottom-width:0px"><span>303</span></div>
<div class="c W" style="left:1103px;top:796px;width:32px;height:13px;line-height:11px;background:#ffffff;border-right-width:0px;border-bottom-width:0px"><span>302</span></div>
<div class="c" style="left:1135px;top:796px;width:34px;height:13px;line-height:11px;background:#f7ef7b;border-right-width:1px;border-bottom-width:0px"><span>301</span></div>
<div class="c" style="left:1006px;top:809px;width:32px;height:13px;line-height:11px;background:#a8d9e4;border-right-width:0px;border-bottom-width:0px"><span>205</span></div>
<div class="c" style="left:1038px;top:809px;width:33px;height:13px;line-height:11px;background:#a8d9e4;border-right-width:0px;border-bottom-width:0px"><span>204</span></div>
<div class="c" style="left:1071px;top:809px;width:32px;height:13px;line-height:11px;background:#f7ef7b;border-right-width:0px;border-bottom-width:0px"><span>203</span></div>
<div class="c W" style="left:1103px;top:809px;width:32px;height:13px;line-height:11px;background:#ffffff;border-right-width:0px;border-bottom-width:0px"><span>202</span></div>
<div class="c" style="left:1135px;top:809px;width:34px;height:13px;line-height:11px;background:#f7ef7b;border-right-width:1px;border-bottom-width:0px"><span>201</span></div>
<div class="c w m" style="left:1006px;top:822px;width:32px;height:14px;line-height:11px;background:#ffffff;border-right-width:0px;border-bottom-width:1px"><span>경로당</span></div>
<div class="c w k" style="left:1038px;top:822px;width:33px;height:14px;line-height:11px;background:#ffffff;border-right-width:0px;border-bottom-width:1px"><span>로비</span></div>
<div class="c w k" style="left:1071px;top:822px;width:32px;height:14px;line-height:11px;background:#ffffff;border-right-width:0px;border-bottom-width:1px"><span>로비</span></div>
<div class="c w s" style="left:1103px;top:822px;width:32px;height:14px;line-height:11px;background:#ffffff;border-right-width:0px;border-bottom-width:1px"><span>돌봄센터</span></div>
<div class="c" style="left:1135px;top:822px;width:34px;height:14px;line-height:11px;background:#ffffff;border-right-width:1px;border-bottom-width:1px"><svg class="a" style="left:0;top:0" width="32" height="12"><line x1="0" y1="0" x2="32" y2="12" stroke="#8a8a8a" stroke-width="0.8"/><line x1="0" y1="12" x2="32" y2="0" stroke="#8a8a8a" stroke-width="0.8"/></svg></div>
<div class="lh" style="left:1006px;top:848px;width:163px;height:14px;line-height:12px"><span>112<i>동</i></span></div>
<div class="lc" style="left:1006px;top:861px;width:33px;height:14px;line-height:12px;background:#d3eaf6"><span>5<i>호</i></span></div>
<div class="lc" style="left:1006px;top:874px;width:33px;height:14px;line-height:12px;background:#a8d9e4"><span>74</span></div>
<div class="lc" style="left:1038px;top:861px;width:34px;height:14px;line-height:12px;background:#d3eaf6"><span>4<i>호</i></span></div>
<div class="lc" style="left:1038px;top:874px;width:34px;height:14px;line-height:12px;background:#a8d9e4"><span>74</span></div>
<div class="lc" style="left:1071px;top:861px;width:33px;height:14px;line-height:12px;background:#d3eaf6"><span>3<i>호</i></span></div>
<div class="lc" style="left:1071px;top:874px;width:33px;height:14px;line-height:12px;background:#f7ef7b"><span>59A</span></div>
<div class="lc" style="left:1103px;top:861px;width:33px;height:14px;line-height:12px;background:#d3eaf6"><span>2<i>호</i></span></div>
<div class="lc" style="left:1103px;top:874px;width:33px;height:14px;line-height:12px;background:#a9d4a1"><span>59B</span></div>
<div class="lc" style="left:1135px;top:861px;width:34px;height:14px;line-height:12px;background:#d3eaf6"><span>1<i>호</i></span></div>
<div class="lc" style="left:1135px;top:874px;width:34px;height:14px;line-height:12px;background:#f7ef7b"><span>59A</span></div>
<div class="c W" style="left:109px;top:937px;width:32px;height:13px;line-height:11px;background:#ffffff;border-right-width:0px;border-bottom-width:0px"><span>3004</span></div>
<div class="c W" style="left:141px;top:937px;width:32px;height:13px;line-height:11px;background:#ffffff;border-right-width:0px;border-bottom-width:0px"><span>3003</span></div>
<div class="c W" style="left:173px;top:937px;width:33px;height:13px;line-height:11px;background:#ffffff;border-right-width:0px;border-bottom-width:0px"><span>3002</span></div>
<div class="c W" style="left:206px;top:937px;width:33px;height:13px;line-height:11px;background:#ffffff;border-right-width:1px;border-bottom-width:0px"><span>3001</span></div>
<div class="c W" style="left:109px;top:950px;width:32px;height:13px;line-height:11px;background:#ffffff;border-right-width:0px;border-bottom-width:0px"><span>2904</span></div>
<div class="c W" style="left:141px;top:950px;width:32px;height:13px;line-height:11px;background:#ffffff;border-right-width:0px;border-bottom-width:0px"><span>2903</span></div>
<div class="c W" style="left:173px;top:950px;width:33px;height:13px;line-height:11px;background:#ffffff;border-right-width:0px;border-bottom-width:0px"><span>2902</span></div>
<div class="c W" style="left:206px;top:950px;width:33px;height:13px;line-height:11px;background:#ffffff;border-right-width:1px;border-bottom-width:0px"><span>2901</span></div>
<div class="c W" style="left:109px;top:963px;width:32px;height:13px;line-height:11px;background:#ffffff;border-right-width:0px;border-bottom-width:0px"><span>2804</span></div>
<div class="c W" style="left:141px;top:963px;width:32px;height:13px;line-height:11px;background:#ffffff;border-right-width:0px;border-bottom-width:0px"><span>2803</span></div>
<div class="c W" style="left:173px;top:963px;width:33px;height:13px;line-height:11px;background:#ffffff;border-right-width:0px;border-bottom-width:0px"><span>2802</span></div>
<div class="c W" style="left:206px;top:963px;width:33px;height:13px;line-height:11px;background:#ffffff;border-right-width:1px;border-bottom-width:0px"><span>2801</span></div>
<div class="c W" style="left:109px;top:976px;width:32px;height:13px;line-height:11px;background:#ffffff;border-right-width:0px;border-bottom-width:0px"><span>2704</span></div>
<div class="c W" style="left:141px;top:976px;width:32px;height:13px;line-height:11px;background:#ffffff;border-right-width:0px;border-bottom-width:0px"><span>2703</span></div>
<div class="c W" style="left:173px;top:976px;width:33px;height:13px;line-height:11px;background:#ffffff;border-right-width:0px;border-bottom-width:0px"><span>2702</span></div>
<div class="c W" style="left:206px;top:976px;width:33px;height:13px;line-height:11px;background:#ffffff;border-right-width:1px;border-bottom-width:0px"><span>2701</span></div>
<div class="c W" style="left:109px;top:989px;width:32px;height:13px;line-height:11px;background:#ffffff;border-right-width:0px;border-bottom-width:0px"><span>2604</span></div>
<div class="c W" style="left:141px;top:989px;width:32px;height:13px;line-height:11px;background:#ffffff;border-right-width:0px;border-bottom-width:0px"><span>2603</span></div>
<div class="c W" style="left:173px;top:989px;width:33px;height:13px;line-height:11px;background:#ffffff;border-right-width:0px;border-bottom-width:0px"><span>2602</span></div>
<div class="c W" style="left:206px;top:989px;width:33px;height:13px;line-height:11px;background:#ffffff;border-right-width:1px;border-bottom-width:0px"><span>2601</span></div>
<div class="c W" style="left:109px;top:1002px;width:32px;height:13px;line-height:11px;background:#ffffff;border-right-width:0px;border-bottom-width:0px"><span>2504</span></div>
<div class="c W" style="left:141px;top:1002px;width:32px;height:13px;line-height:11px;background:#ffffff;border-right-width:0px;border-bottom-width:0px"><span>2503</span></div>
<div class="c W" style="left:173px;top:1002px;width:33px;height:13px;line-height:11px;background:#ffffff;border-right-width:0px;border-bottom-width:0px"><span>2502</span></div>
<div class="c W" style="left:206px;top:1002px;width:33px;height:13px;line-height:11px;background:#ffffff;border-right-width:1px;border-bottom-width:0px"><span>2501</span></div>
<div class="c W" style="left:109px;top:1015px;width:32px;height:13px;line-height:11px;background:#ffffff;border-right-width:0px;border-bottom-width:0px"><span>2404</span></div>
<div class="c W" style="left:141px;top:1015px;width:32px;height:13px;line-height:11px;background:#ffffff;border-right-width:0px;border-bottom-width:0px"><span>2403</span></div>
<div class="c W" style="left:173px;top:1015px;width:33px;height:13px;line-height:11px;background:#ffffff;border-right-width:0px;border-bottom-width:0px"><span>2402</span></div>
<div class="c W" style="left:206px;top:1015px;width:33px;height:13px;line-height:11px;background:#ffffff;border-right-width:1px;border-bottom-width:0px"><span>2401</span></div>
<div class="c W" style="left:109px;top:1028px;width:32px;height:13px;line-height:11px;background:#ffffff;border-right-width:0px;border-bottom-width:0px"><span>2304</span></div>
<div class="c W" style="left:141px;top:1028px;width:32px;height:13px;line-height:11px;background:#ffffff;border-right-width:0px;border-bottom-width:0px"><span>2303</span></div>
<div class="c W" style="left:173px;top:1028px;width:33px;height:13px;line-height:11px;background:#ffffff;border-right-width:0px;border-bottom-width:0px"><span>2302</span></div>
<div class="c W" style="left:206px;top:1028px;width:33px;height:13px;line-height:11px;background:#ffffff;border-right-width:1px;border-bottom-width:0px"><span>2301</span></div>
<div class="c W" style="left:109px;top:1041px;width:32px;height:13px;line-height:11px;background:#ffffff;border-right-width:0px;border-bottom-width:0px"><span>2204</span></div>
<div class="c W" style="left:141px;top:1041px;width:32px;height:13px;line-height:11px;background:#ffffff;border-right-width:0px;border-bottom-width:0px"><span>2203</span></div>
<div class="c W" style="left:173px;top:1041px;width:33px;height:13px;line-height:11px;background:#ffffff;border-right-width:0px;border-bottom-width:0px"><span>2202</span></div>
<div class="c W" style="left:206px;top:1041px;width:33px;height:13px;line-height:11px;background:#ffffff;border-right-width:1px;border-bottom-width:0px"><span>2201</span></div>
<div class="c W" style="left:109px;top:1054px;width:32px;height:13px;line-height:11px;background:#ffffff;border-right-width:0px;border-bottom-width:0px"><span>2104</span></div>
<div class="c W" style="left:141px;top:1054px;width:32px;height:13px;line-height:11px;background:#ffffff;border-right-width:0px;border-bottom-width:0px"><span>2103</span></div>
<div class="c W" style="left:173px;top:1054px;width:33px;height:13px;line-height:11px;background:#ffffff;border-right-width:0px;border-bottom-width:0px"><span>2102</span></div>
<div class="c W" style="left:206px;top:1054px;width:33px;height:13px;line-height:11px;background:#ffffff;border-right-width:1px;border-bottom-width:0px"><span>2101</span></div>
<div class="c W" style="left:109px;top:1067px;width:32px;height:12px;line-height:10px;background:#ffffff;border-right-width:0px;border-bottom-width:0px"><span>2004</span></div>
<div class="c W" style="left:141px;top:1067px;width:32px;height:12px;line-height:10px;background:#ffffff;border-right-width:0px;border-bottom-width:0px"><span>2003</span></div>
<div class="c W" style="left:173px;top:1067px;width:33px;height:12px;line-height:10px;background:#ffffff;border-right-width:0px;border-bottom-width:0px"><span>2002</span></div>
<div class="c W" style="left:206px;top:1067px;width:33px;height:12px;line-height:10px;background:#ffffff;border-right-width:1px;border-bottom-width:0px"><span>2001</span></div>
<div class="c W" style="left:109px;top:1079px;width:32px;height:13px;line-height:11px;background:#ffffff;border-right-width:0px;border-bottom-width:0px"><span>1904</span></div>
<div class="c W" style="left:141px;top:1079px;width:32px;height:13px;line-height:11px;background:#ffffff;border-right-width:0px;border-bottom-width:0px"><span>1903</span></div>
<div class="c W" style="left:173px;top:1079px;width:33px;height:13px;line-height:11px;background:#ffffff;border-right-width:0px;border-bottom-width:0px"><span>1902</span></div>
<div class="c W" style="left:206px;top:1079px;width:33px;height:13px;line-height:11px;background:#ffffff;border-right-width:1px;border-bottom-width:0px"><span>1901</span></div>
<div class="c W" style="left:109px;top:1092px;width:32px;height:13px;line-height:11px;background:#ffffff;border-right-width:0px;border-bottom-width:0px"><span>1804</span></div>
<div class="c W" style="left:141px;top:1092px;width:32px;height:13px;line-height:11px;background:#ffffff;border-right-width:0px;border-bottom-width:0px"><span>1803</span></div>
<div class="c W" style="left:173px;top:1092px;width:33px;height:13px;line-height:11px;background:#ffffff;border-right-width:0px;border-bottom-width:0px"><span>1802</span></div>
<div class="c W" style="left:206px;top:1092px;width:33px;height:13px;line-height:11px;background:#ffffff;border-right-width:1px;border-bottom-width:0px"><span>1801</span></div>
<div class="c W" style="left:109px;top:1105px;width:32px;height:13px;line-height:11px;background:#ffffff;border-right-width:0px;border-bottom-width:0px"><span>1704</span></div>
<div class="c W" style="left:141px;top:1105px;width:32px;height:13px;line-height:11px;background:#ffffff;border-right-width:0px;border-bottom-width:0px"><span>1703</span></div>
<div class="c W" style="left:173px;top:1105px;width:33px;height:13px;line-height:11px;background:#ffffff;border-right-width:0px;border-bottom-width:0px"><span>1702</span></div>
<div class="c W" style="left:206px;top:1105px;width:33px;height:13px;line-height:11px;background:#ffffff;border-right-width:1px;border-bottom-width:0px"><span>1701</span></div>
<div class="c W" style="left:109px;top:1118px;width:32px;height:13px;line-height:11px;background:#ffffff;border-right-width:0px;border-bottom-width:0px"><span>1604</span></div>
<div class="c W" style="left:141px;top:1118px;width:32px;height:13px;line-height:11px;background:#ffffff;border-right-width:0px;border-bottom-width:0px"><span>1603</span></div>
<div class="c W" style="left:173px;top:1118px;width:33px;height:13px;line-height:11px;background:#ffffff;border-right-width:0px;border-bottom-width:0px"><span>1602</span></div>
<div class="c W" style="left:206px;top:1118px;width:33px;height:13px;line-height:11px;background:#ffffff;border-right-width:1px;border-bottom-width:0px"><span>1601</span></div>
<div class="c W" style="left:109px;top:1131px;width:32px;height:13px;line-height:11px;background:#ffffff;border-right-width:0px;border-bottom-width:0px"><span>1504</span></div>
<div class="c W" style="left:141px;top:1131px;width:32px;height:13px;line-height:11px;background:#ffffff;border-right-width:0px;border-bottom-width:0px"><span>1503</span></div>
<div class="c W" style="left:173px;top:1131px;width:33px;height:13px;line-height:11px;background:#ffffff;border-right-width:0px;border-bottom-width:0px"><span>1502</span></div>
<div class="c W" style="left:206px;top:1131px;width:33px;height:13px;line-height:11px;background:#ffffff;border-right-width:1px;border-bottom-width:0px"><span>1501</span></div>
<div class="c W" style="left:109px;top:1144px;width:32px;height:13px;line-height:11px;background:#ffffff;border-right-width:0px;border-bottom-width:0px"><span>1404</span></div>
<div class="c W" style="left:141px;top:1144px;width:32px;height:13px;line-height:11px;background:#ffffff;border-right-width:0px;border-bottom-width:0px"><span>1403</span></div>
<div class="c W" style="left:173px;top:1144px;width:33px;height:13px;line-height:11px;background:#ffffff;border-right-width:0px;border-bottom-width:0px"><span>1402</span></div>
<div class="c W" style="left:206px;top:1144px;width:33px;height:13px;line-height:11px;background:#ffffff;border-right-width:1px;border-bottom-width:0px"><span>1401</span></div>
<div class="c W" style="left:109px;top:1157px;width:32px;height:13px;line-height:11px;background:#ffffff;border-right-width:0px;border-bottom-width:0px"><span>1304</span></div>
<div class="c W" style="left:141px;top:1157px;width:32px;height:13px;line-height:11px;background:#ffffff;border-right-width:0px;border-bottom-width:0px"><span>1303</span></div>
<div class="c W" style="left:173px;top:1157px;width:33px;height:13px;line-height:11px;background:#ffffff;border-right-width:0px;border-bottom-width:0px"><span>1302</span></div>
<div class="c W" style="left:206px;top:1157px;width:33px;height:13px;line-height:11px;background:#ffffff;border-right-width:1px;border-bottom-width:0px"><span>1301</span></div>
<div class="c W" style="left:109px;top:1170px;width:32px;height:13px;line-height:11px;background:#ffffff;border-right-width:0px;border-bottom-width:0px"><span>1204</span></div>
<div class="c W" style="left:141px;top:1170px;width:32px;height:13px;line-height:11px;background:#ffffff;border-right-width:0px;border-bottom-width:0px"><span>1203</span></div>
<div class="c W" style="left:173px;top:1170px;width:33px;height:13px;line-height:11px;background:#ffffff;border-right-width:0px;border-bottom-width:0px"><span>1202</span></div>
<div class="c W" style="left:206px;top:1170px;width:33px;height:13px;line-height:11px;background:#ffffff;border-right-width:1px;border-bottom-width:0px"><span>1201</span></div>
<div class="c W" style="left:109px;top:1183px;width:32px;height:13px;line-height:11px;background:#ffffff;border-right-width:0px;border-bottom-width:0px"><span>1104</span></div>
<div class="c W" style="left:141px;top:1183px;width:32px;height:13px;line-height:11px;background:#ffffff;border-right-width:0px;border-bottom-width:0px"><span>1103</span></div>
<div class="c W" style="left:173px;top:1183px;width:33px;height:13px;line-height:11px;background:#ffffff;border-right-width:0px;border-bottom-width:0px"><span>1102</span></div>
<div class="c W" style="left:206px;top:1183px;width:33px;height:13px;line-height:11px;background:#ffffff;border-right-width:1px;border-bottom-width:0px"><span>1101</span></div>
<div class="c W" style="left:109px;top:1196px;width:32px;height:13px;line-height:11px;background:#ffffff;border-right-width:0px;border-bottom-width:0px"><span>1004</span></div>
<div class="c W" style="left:141px;top:1196px;width:32px;height:13px;line-height:11px;background:#ffffff;border-right-width:0px;border-bottom-width:0px"><span>1003</span></div>
<div class="c W" style="left:173px;top:1196px;width:33px;height:13px;line-height:11px;background:#ffffff;border-right-width:0px;border-bottom-width:0px"><span>1002</span></div>
<div class="c W" style="left:206px;top:1196px;width:33px;height:13px;line-height:11px;background:#ffffff;border-right-width:1px;border-bottom-width:0px"><span>1001</span></div>
<div class="c W" style="left:109px;top:1209px;width:32px;height:13px;line-height:11px;background:#ffffff;border-right-width:0px;border-bottom-width:0px"><span>904</span></div>
<div class="c W" style="left:141px;top:1209px;width:32px;height:13px;line-height:11px;background:#ffffff;border-right-width:0px;border-bottom-width:0px"><span>903</span></div>
<div class="c W" style="left:173px;top:1209px;width:33px;height:13px;line-height:11px;background:#ffffff;border-right-width:0px;border-bottom-width:0px"><span>902</span></div>
<div class="c W" style="left:206px;top:1209px;width:33px;height:13px;line-height:11px;background:#ffffff;border-right-width:1px;border-bottom-width:0px"><span>901</span></div>
<div class="c W" style="left:109px;top:1222px;width:32px;height:13px;line-height:11px;background:#ffffff;border-right-width:0px;border-bottom-width:0px"><span>804</span></div>
<div class="c W" style="left:141px;top:1222px;width:32px;height:13px;line-height:11px;background:#ffffff;border-right-width:0px;border-bottom-width:0px"><span>803</span></div>
<div class="c W" style="left:173px;top:1222px;width:33px;height:13px;line-height:11px;background:#ffffff;border-right-width:0px;border-bottom-width:0px"><span>802</span></div>
<div class="c W" style="left:206px;top:1222px;width:33px;height:13px;line-height:11px;background:#ffffff;border-right-width:1px;border-bottom-width:0px"><span>801</span></div>
<div class="c W" style="left:109px;top:1235px;width:32px;height:13px;line-height:11px;background:#ffffff;border-right-width:0px;border-bottom-width:0px"><span>704</span></div>
<div class="c W" style="left:141px;top:1235px;width:32px;height:13px;line-height:11px;background:#ffffff;border-right-width:0px;border-bottom-width:0px"><span>703</span></div>
<div class="c W" style="left:173px;top:1235px;width:33px;height:13px;line-height:11px;background:#ffffff;border-right-width:0px;border-bottom-width:0px"><span>702</span></div>
<div class="c W" style="left:206px;top:1235px;width:33px;height:13px;line-height:11px;background:#ffffff;border-right-width:1px;border-bottom-width:0px"><span>701</span></div>
<div class="c W" style="left:109px;top:1248px;width:32px;height:13px;line-height:11px;background:#ffffff;border-right-width:0px;border-bottom-width:0px"><span>604</span></div>
<div class="c W" style="left:141px;top:1248px;width:32px;height:13px;line-height:11px;background:#ffffff;border-right-width:0px;border-bottom-width:0px"><span>603</span></div>
<div class="c W" style="left:173px;top:1248px;width:33px;height:13px;line-height:11px;background:#ffffff;border-right-width:0px;border-bottom-width:0px"><span>602</span></div>
<div class="c W" style="left:206px;top:1248px;width:33px;height:13px;line-height:11px;background:#ffffff;border-right-width:1px;border-bottom-width:0px"><span>601</span></div>
<div class="c W" style="left:109px;top:1261px;width:32px;height:13px;line-height:11px;background:#ffffff;border-right-width:0px;border-bottom-width:0px"><span>504</span></div>
<div class="c W" style="left:141px;top:1261px;width:32px;height:13px;line-height:11px;background:#ffffff;border-right-width:0px;border-bottom-width:0px"><span>503</span></div>
<div class="c" style="left:173px;top:1261px;width:33px;height:13px;line-height:11px;background:#c9a2cd;border-right-width:0px;border-bottom-width:0px"><span>502</span></div>
<div class="c" style="left:206px;top:1261px;width:33px;height:13px;line-height:11px;background:#c9a2cd;border-right-width:1px;border-bottom-width:0px"><span>501</span></div>
<div class="c" style="left:109px;top:1274px;width:32px;height:13px;line-height:11px;background:#c9a2cd;border-right-width:0px;border-bottom-width:0px"><span>404</span></div>
<div class="c" style="left:141px;top:1274px;width:32px;height:13px;line-height:11px;background:#c9a2cd;border-right-width:0px;border-bottom-width:0px"><span>403</span></div>
<div class="c" style="left:173px;top:1274px;width:33px;height:13px;line-height:11px;background:#c9a2cd;border-right-width:0px;border-bottom-width:0px"><span>402</span></div>
<div class="c" style="left:206px;top:1274px;width:33px;height:13px;line-height:11px;background:#c9a2cd;border-right-width:1px;border-bottom-width:0px"><span>401</span></div>
<div class="c" style="left:109px;top:1287px;width:32px;height:13px;line-height:11px;background:#c9a2cd;border-right-width:0px;border-bottom-width:0px"><span>304</span></div>
<div class="c" style="left:141px;top:1287px;width:32px;height:13px;line-height:11px;background:#c9a2cd;border-right-width:0px;border-bottom-width:0px"><span>303</span></div>
<div class="c" style="left:173px;top:1287px;width:33px;height:13px;line-height:11px;background:#c9a2cd;border-right-width:0px;border-bottom-width:0px"><span>302</span></div>
<div class="c" style="left:206px;top:1287px;width:33px;height:13px;line-height:11px;background:#c9a2cd;border-right-width:1px;border-bottom-width:0px"><span>301</span></div>
<div class="c" style="left:109px;top:1300px;width:32px;height:13px;line-height:11px;background:#c9a2cd;border-right-width:0px;border-bottom-width:0px"><span>204</span></div>
<div class="c" style="left:141px;top:1300px;width:32px;height:13px;line-height:11px;background:#c9a2cd;border-right-width:0px;border-bottom-width:0px"><span>203</span></div>
<div class="c" style="left:173px;top:1300px;width:33px;height:13px;line-height:11px;background:#c9a2cd;border-right-width:0px;border-bottom-width:0px"><span>202</span></div>
<div class="c" style="left:206px;top:1300px;width:33px;height:13px;line-height:11px;background:#c9a2cd;border-right-width:1px;border-bottom-width:0px"><span>201</span></div>
<div class="c w k" style="left:109px;top:1313px;width:32px;height:14px;line-height:11px;background:#ffffff;border-right-width:0px;border-bottom-width:1px"><span>로비</span></div>
<div class="c" style="left:141px;top:1313px;width:32px;height:14px;line-height:11px;background:#c9a2cd;border-right-width:0px;border-bottom-width:1px"><span>103</span></div>
<div class="c w k" style="left:173px;top:1313px;width:33px;height:14px;line-height:11px;background:#ffffff;border-right-width:0px;border-bottom-width:1px"><span>로비</span></div>
<div class="c w xs" style="left:206px;top:1313px;width:33px;height:14px;line-height:11px;background:#ffffff;border-right-width:1px;border-bottom-width:1px"><span>작은도서관</span></div>
<div class="lh" style="left:109px;top:1339px;width:130px;height:14px;line-height:12px"><span>113<i>동</i></span></div>
<div class="lc" style="left:109px;top:1352px;width:33px;height:14px;line-height:12px;background:#d3eaf6"><span>4<i>호</i></span></div>
<div class="lc" style="left:109px;top:1365px;width:33px;height:14px;line-height:12px;background:#c9a2cd"><span>84A</span></div>
<div class="lc" style="left:141px;top:1352px;width:33px;height:14px;line-height:12px;background:#d3eaf6"><span>3<i>호</i></span></div>
<div class="lc" style="left:141px;top:1365px;width:33px;height:14px;line-height:12px;background:#c9a2cd"><span>84A</span></div>
<div class="lc" style="left:173px;top:1352px;width:34px;height:14px;line-height:12px;background:#d3eaf6"><span>2<i>호</i></span></div>
<div class="lc" style="left:173px;top:1365px;width:34px;height:14px;line-height:12px;background:#c9a2cd"><span>84A</span></div>
<div class="lc" style="left:206px;top:1352px;width:33px;height:14px;line-height:12px;background:#d3eaf6"><span>1<i>호</i></span></div>
<div class="lc" style="left:206px;top:1365px;width:33px;height:14px;line-height:12px;background:#c9a2cd"><span>84A</span></div>
<div class="c W" style="left:280px;top:937px;width:32px;height:13px;line-height:11px;background:#ffffff;border-right-width:0px;border-bottom-width:0px"><span>3004</span></div>
<div class="c W" style="left:312px;top:937px;width:33px;height:13px;line-height:11px;background:#ffffff;border-right-width:0px;border-bottom-width:0px"><span>3003</span></div>
<div class="c W" style="left:345px;top:937px;width:32px;height:13px;line-height:11px;background:#ffffff;border-right-width:0px;border-bottom-width:0px"><span>3002</span></div>
<div class="c W" style="left:377px;top:937px;width:33px;height:13px;line-height:11px;background:#ffffff;border-right-width:1px;border-bottom-width:0px"><span>3001</span></div>
<div class="c W" style="left:280px;top:950px;width:32px;height:13px;line-height:11px;background:#ffffff;border-right-width:0px;border-bottom-width:0px"><span>2904</span></div>
<div class="c W" style="left:312px;top:950px;width:33px;height:13px;line-height:11px;background:#ffffff;border-right-width:0px;border-bottom-width:0px"><span>2903</span></div>
<div class="c W" style="left:345px;top:950px;width:32px;height:13px;line-height:11px;background:#ffffff;border-right-width:0px;border-bottom-width:0px"><span>2902</span></div>
<div class="c" style="left:377px;top:950px;width:33px;height:13px;line-height:11px;background:#f7ef7b;border-right-width:1px;border-bottom-width:0px"><span>2901</span></div>
<div class="c W" style="left:280px;top:963px;width:32px;height:13px;line-height:11px;background:#ffffff;border-right-width:0px;border-bottom-width:0px"><span>2804</span></div>
<div class="c W" style="left:312px;top:963px;width:33px;height:13px;line-height:11px;background:#ffffff;border-right-width:0px;border-bottom-width:0px"><span>2803</span></div>
<div class="c W" style="left:345px;top:963px;width:32px;height:13px;line-height:11px;background:#ffffff;border-right-width:0px;border-bottom-width:0px"><span>2802</span></div>
<div class="c" style="left:377px;top:963px;width:33px;height:13px;line-height:11px;background:#f7ef7b;border-right-width:1px;border-bottom-width:0px"><span>2801</span></div>
<div class="c W" style="left:280px;top:976px;width:32px;height:13px;line-height:11px;background:#ffffff;border-right-width:0px;border-bottom-width:0px"><span>2704</span></div>
<div class="c W" style="left:312px;top:976px;width:33px;height:13px;line-height:11px;background:#ffffff;border-right-width:0px;border-bottom-width:0px"><span>2703</span></div>
<div class="c W" style="left:345px;top:976px;width:32px;height:13px;line-height:11px;background:#ffffff;border-right-width:0px;border-bottom-width:0px"><span>2702</span></div>
<div class="c" style="left:377px;top:976px;width:33px;height:13px;line-height:11px;background:#f7ef7b;border-right-width:1px;border-bottom-width:0px"><span>2701</span></div>
<div class="c W" style="left:280px;top:989px;width:32px;height:13px;line-height:11px;background:#ffffff;border-right-width:0px;border-bottom-width:0px"><span>2604</span></div>
<div class="c W" style="left:312px;top:989px;width:33px;height:13px;line-height:11px;background:#ffffff;border-right-width:0px;border-bottom-width:0px"><span>2603</span></div>
<div class="c W" style="left:345px;top:989px;width:32px;height:13px;line-height:11px;background:#ffffff;border-right-width:0px;border-bottom-width:0px"><span>2602</span></div>
<div class="c W" style="left:377px;top:989px;width:33px;height:13px;line-height:11px;background:#ffffff;border-right-width:1px;border-bottom-width:0px"><span>2601</span></div>
<div class="c W" style="left:280px;top:1002px;width:32px;height:13px;line-height:11px;background:#ffffff;border-right-width:0px;border-bottom-width:0px"><span>2504</span></div>
<div class="c W" style="left:312px;top:1002px;width:33px;height:13px;line-height:11px;background:#ffffff;border-right-width:0px;border-bottom-width:0px"><span>2503</span></div>
<div class="c W" style="left:345px;top:1002px;width:32px;height:13px;line-height:11px;background:#ffffff;border-right-width:0px;border-bottom-width:0px"><span>2502</span></div>
<div class="c W" style="left:377px;top:1002px;width:33px;height:13px;line-height:11px;background:#ffffff;border-right-width:1px;border-bottom-width:0px"><span>2501</span></div>
<div class="c W" style="left:280px;top:1015px;width:32px;height:13px;line-height:11px;background:#ffffff;border-right-width:0px;border-bottom-width:0px"><span>2404</span></div>
<div class="c W" style="left:312px;top:1015px;width:33px;height:13px;line-height:11px;background:#ffffff;border-right-width:0px;border-bottom-width:0px"><span>2403</span></div>
<div class="c W" style="left:345px;top:1015px;width:32px;height:13px;line-height:11px;background:#ffffff;border-right-width:0px;border-bottom-width:0px"><span>2402</span></div>
<div class="c W" style="left:377px;top:1015px;width:33px;height:13px;line-height:11px;background:#ffffff;border-right-width:1px;border-bottom-width:0px"><span>2401</span></div>
<div class="c W" style="left:280px;top:1028px;width:32px;height:13px;line-height:11px;background:#ffffff;border-right-width:0px;border-bottom-width:0px"><span>2304</span></div>
<div class="c W" style="left:312px;top:1028px;width:33px;height:13px;line-height:11px;background:#ffffff;border-right-width:0px;border-bottom-width:0px"><span>2303</span></div>
<div class="c W" style="left:345px;top:1028px;width:32px;height:13px;line-height:11px;background:#ffffff;border-right-width:0px;border-bottom-width:0px"><span>2302</span></div>
<div class="c W" style="left:377px;top:1028px;width:33px;height:13px;line-height:11px;background:#ffffff;border-right-width:1px;border-bottom-width:0px"><span>2301</span></div>
<div class="c W" style="left:280px;top:1041px;width:32px;height:13px;line-height:11px;background:#ffffff;border-right-width:0px;border-bottom-width:0px"><span>2204</span></div>
<div class="c W" style="left:312px;top:1041px;width:33px;height:13px;line-height:11px;background:#ffffff;border-right-width:0px;border-bottom-width:0px"><span>2203</span></div>
<div class="c W" style="left:345px;top:1041px;width:32px;height:13px;line-height:11px;background:#ffffff;border-right-width:0px;border-bottom-width:0px"><span>2202</span></div>
<div class="c W" style="left:377px;top:1041px;width:33px;height:13px;line-height:11px;background:#ffffff;border-right-width:1px;border-bottom-width:0px"><span>2201</span></div>
<div class="c W" style="left:280px;top:1054px;width:32px;height:13px;line-height:11px;background:#ffffff;border-right-width:0px;border-bottom-width:0px"><span>2104</span></div>
<div class="c W" style="left:312px;top:1054px;width:33px;height:13px;line-height:11px;background:#ffffff;border-right-width:0px;border-bottom-width:0px"><span>2103</span></div>
<div class="c W" style="left:345px;top:1054px;width:32px;height:13px;line-height:11px;background:#ffffff;border-right-width:0px;border-bottom-width:0px"><span>2102</span></div>
<div class="c W" style="left:377px;top:1054px;width:33px;height:13px;line-height:11px;background:#ffffff;border-right-width:1px;border-bottom-width:0px"><span>2101</span></div>
<div class="c W" style="left:280px;top:1067px;width:32px;height:12px;line-height:10px;background:#ffffff;border-right-width:0px;border-bottom-width:0px"><span>2004</span></div>
<div class="c W" style="left:312px;top:1067px;width:33px;height:12px;line-height:10px;background:#ffffff;border-right-width:0px;border-bottom-width:0px"><span>2003</span></div>
<div class="c W" style="left:345px;top:1067px;width:32px;height:12px;line-height:10px;background:#ffffff;border-right-width:0px;border-bottom-width:0px"><span>2002</span></div>
<div class="c W" style="left:377px;top:1067px;width:33px;height:12px;line-height:10px;background:#ffffff;border-right-width:1px;border-bottom-width:0px"><span>2001</span></div>
<div class="c W" style="left:280px;top:1079px;width:32px;height:13px;line-height:11px;background:#ffffff;border-right-width:0px;border-bottom-width:0px"><span>1904</span></div>
<div class="c W" style="left:312px;top:1079px;width:33px;height:13px;line-height:11px;background:#ffffff;border-right-width:0px;border-bottom-width:0px"><span>1903</span></div>
<div class="c W" style="left:345px;top:1079px;width:32px;height:13px;line-height:11px;background:#ffffff;border-right-width:0px;border-bottom-width:0px"><span>1902</span></div>
<div class="c W" style="left:377px;top:1079px;width:33px;height:13px;line-height:11px;background:#ffffff;border-right-width:1px;border-bottom-width:0px"><span>1901</span></div>
<div class="c W" style="left:280px;top:1092px;width:32px;height:13px;line-height:11px;background:#ffffff;border-right-width:0px;border-bottom-width:0px"><span>1804</span></div>
<div class="c W" style="left:312px;top:1092px;width:33px;height:13px;line-height:11px;background:#ffffff;border-right-width:0px;border-bottom-width:0px"><span>1803</span></div>
<div class="c W" style="left:345px;top:1092px;width:32px;height:13px;line-height:11px;background:#ffffff;border-right-width:0px;border-bottom-width:0px"><span>1802</span></div>
<div class="c W" style="left:377px;top:1092px;width:33px;height:13px;line-height:11px;background:#ffffff;border-right-width:1px;border-bottom-width:0px"><span>1801</span></div>
<div class="c W" style="left:280px;top:1105px;width:32px;height:13px;line-height:11px;background:#ffffff;border-right-width:0px;border-bottom-width:0px"><span>1704</span></div>
<div class="c W" style="left:312px;top:1105px;width:33px;height:13px;line-height:11px;background:#ffffff;border-right-width:0px;border-bottom-width:0px"><span>1703</span></div>
<div class="c W" style="left:345px;top:1105px;width:32px;height:13px;line-height:11px;background:#ffffff;border-right-width:0px;border-bottom-width:0px"><span>1702</span></div>
<div class="c W" style="left:377px;top:1105px;width:33px;height:13px;line-height:11px;background:#ffffff;border-right-width:1px;border-bottom-width:0px"><span>1701</span></div>
<div class="c W" style="left:280px;top:1118px;width:32px;height:13px;line-height:11px;background:#ffffff;border-right-width:0px;border-bottom-width:0px"><span>1604</span></div>
<div class="c W" style="left:312px;top:1118px;width:33px;height:13px;line-height:11px;background:#ffffff;border-right-width:0px;border-bottom-width:0px"><span>1603</span></div>
<div class="c W" style="left:345px;top:1118px;width:32px;height:13px;line-height:11px;background:#ffffff;border-right-width:0px;border-bottom-width:0px"><span>1602</span></div>
<div class="c W" style="left:377px;top:1118px;width:33px;height:13px;line-height:11px;background:#ffffff;border-right-width:1px;border-bottom-width:0px"><span>1601</span></div>
<div class="c W" style="left:280px;top:1131px;width:32px;height:13px;line-height:11px;background:#ffffff;border-right-width:0px;border-bottom-width:0px"><span>1504</span></div>
<div class="c W" style="left:312px;top:1131px;width:33px;height:13px;line-height:11px;background:#ffffff;border-right-width:0px;border-bottom-width:0px"><span>1503</span></div>
<div class="c W" style="left:345px;top:1131px;width:32px;height:13px;line-height:11px;background:#ffffff;border-right-width:0px;border-bottom-width:0px"><span>1502</span></div>
<div class="c W" style="left:377px;top:1131px;width:33px;height:13px;line-height:11px;background:#ffffff;border-right-width:1px;border-bottom-width:0px"><span>1501</span></div>
<div class="c W" style="left:280px;top:1144px;width:32px;height:13px;line-height:11px;background:#ffffff;border-right-width:0px;border-bottom-width:0px"><span>1404</span></div>
<div class="c W" style="left:312px;top:1144px;width:33px;height:13px;line-height:11px;background:#ffffff;border-right-width:0px;border-bottom-width:0px"><span>1403</span></div>
<div class="c W" style="left:345px;top:1144px;width:32px;height:13px;line-height:11px;background:#ffffff;border-right-width:0px;border-bottom-width:0px"><span>1402</span></div>
<div class="c W" style="left:377px;top:1144px;width:33px;height:13px;line-height:11px;background:#ffffff;border-right-width:1px;border-bottom-width:0px"><span>1401</span></div>
<div class="c" style="left:280px;top:1157px;width:32px;height:13px;line-height:11px;background:#f2a8b9;border-right-width:0px;border-bottom-width:0px"><span>1304</span></div>
<div class="c" style="left:312px;top:1157px;width:33px;height:13px;line-height:11px;background:#f2a8b9;border-right-width:0px;border-bottom-width:0px"><span>1303</span></div>
<div class="c W" style="left:345px;top:1157px;width:32px;height:13px;line-height:11px;background:#ffffff;border-right-width:0px;border-bottom-width:0px"><span>1302</span></div>
<div class="c" style="left:377px;top:1157px;width:33px;height:13px;line-height:11px;background:#f7ef7b;border-right-width:1px;border-bottom-width:0px"><span>1301</span></div>
<div class="c" style="left:280px;top:1170px;width:32px;height:13px;line-height:11px;background:#f2a8b9;border-right-width:0px;border-bottom-width:0px"><span>1204</span></div>
<div class="c" style="left:312px;top:1170px;width:33px;height:13px;line-height:11px;background:#f2a8b9;border-right-width:0px;border-bottom-width:0px"><span>1203</span></div>
<div class="c W" style="left:345px;top:1170px;width:32px;height:13px;line-height:11px;background:#ffffff;border-right-width:0px;border-bottom-width:0px"><span>1202</span></div>
<div class="c W" style="left:377px;top:1170px;width:33px;height:13px;line-height:11px;background:#ffffff;border-right-width:1px;border-bottom-width:0px"><span>1201</span></div>
<div class="c W" style="left:280px;top:1183px;width:32px;height:13px;line-height:11px;background:#ffffff;border-right-width:0px;border-bottom-width:0px"><span>1104</span></div>
<div class="c W" style="left:312px;top:1183px;width:33px;height:13px;line-height:11px;background:#ffffff;border-right-width:0px;border-bottom-width:0px"><span>1103</span></div>
<div class="c W" style="left:345px;top:1183px;width:32px;height:13px;line-height:11px;background:#ffffff;border-right-width:0px;border-bottom-width:0px"><span>1102</span></div>
<div class="c" style="left:377px;top:1183px;width:33px;height:13px;line-height:11px;background:#f7ef7b;border-right-width:1px;border-bottom-width:0px"><span>1101</span></div>
<div class="c W" style="left:280px;top:1196px;width:32px;height:13px;line-height:11px;background:#ffffff;border-right-width:0px;border-bottom-width:0px"><span>1004</span></div>
<div class="c W" style="left:312px;top:1196px;width:33px;height:13px;line-height:11px;background:#ffffff;border-right-width:0px;border-bottom-width:0px"><span>1003</span></div>
<div class="c W" style="left:345px;top:1196px;width:32px;height:13px;line-height:11px;background:#ffffff;border-right-width:0px;border-bottom-width:0px"><span>1002</span></div>
<div class="c" style="left:377px;top:1196px;width:33px;height:13px;line-height:11px;background:#f7ef7b;border-right-width:1px;border-bottom-width:0px"><span>1001</span></div>
<div class="c W" style="left:280px;top:1209px;width:32px;height:13px;line-height:11px;background:#ffffff;border-right-width:0px;border-bottom-width:0px"><span>904</span></div>
<div class="c W" style="left:312px;top:1209px;width:33px;height:13px;line-height:11px;background:#ffffff;border-right-width:0px;border-bottom-width:0px"><span>903</span></div>
<div class="c W" style="left:345px;top:1209px;width:32px;height:13px;line-height:11px;background:#ffffff;border-right-width:0px;border-bottom-width:0px"><span>902</span></div>
<div class="c" style="left:377px;top:1209px;width:33px;height:13px;line-height:11px;background:#f7ef7b;border-right-width:1px;border-bottom-width:0px"><span>901</span></div>
<div class="c W" style="left:280px;top:1222px;width:32px;height:13px;line-height:11px;background:#ffffff;border-right-width:0px;border-bottom-width:0px"><span>804</span></div>
<div class="c W" style="left:312px;top:1222px;width:33px;height:13px;line-height:11px;background:#ffffff;border-right-width:0px;border-bottom-width:0px"><span>803</span></div>
<div class="c W" style="left:345px;top:1222px;width:32px;height:13px;line-height:11px;background:#ffffff;border-right-width:0px;border-bottom-width:0px"><span>802</span></div>
<div class="c" style="left:377px;top:1222px;width:33px;height:13px;line-height:11px;background:#f7ef7b;border-right-width:1px;border-bottom-width:0px"><span>801</span></div>
<div class="c W" style="left:280px;top:1235px;width:32px;height:13px;line-height:11px;background:#ffffff;border-right-width:0px;border-bottom-width:0px"><span>704</span></div>
<div class="c W" style="left:312px;top:1235px;width:33px;height:13px;line-height:11px;background:#ffffff;border-right-width:0px;border-bottom-width:0px"><span>703</span></div>
<div class="c W" style="left:345px;top:1235px;width:32px;height:13px;line-height:11px;background:#ffffff;border-right-width:0px;border-bottom-width:0px"><span>702</span></div>
<div class="c" style="left:377px;top:1235px;width:33px;height:13px;line-height:11px;background:#f7ef7b;border-right-width:1px;border-bottom-width:0px"><span>701</span></div>
<div class="c W" style="left:280px;top:1248px;width:32px;height:13px;line-height:11px;background:#ffffff;border-right-width:0px;border-bottom-width:0px"><span>604</span></div>
<div class="c W" style="left:312px;top:1248px;width:33px;height:13px;line-height:11px;background:#ffffff;border-right-width:0px;border-bottom-width:0px"><span>603</span></div>
<div class="c W" style="left:345px;top:1248px;width:32px;height:13px;line-height:11px;background:#ffffff;border-right-width:0px;border-bottom-width:0px"><span>602</span></div>
<div class="c" style="left:377px;top:1248px;width:33px;height:13px;line-height:11px;background:#f7ef7b;border-right-width:1px;border-bottom-width:0px"><span>601</span></div>
<div class="c W" style="left:280px;top:1261px;width:32px;height:13px;line-height:11px;background:#ffffff;border-right-width:0px;border-bottom-width:0px"><span>504</span></div>
<div class="c W" style="left:312px;top:1261px;width:33px;height:13px;line-height:11px;background:#ffffff;border-right-width:0px;border-bottom-width:0px"><span>503</span></div>
<div class="c W" style="left:345px;top:1261px;width:32px;height:13px;line-height:11px;background:#ffffff;border-right-width:0px;border-bottom-width:0px"><span>502</span></div>
<div class="c" style="left:377px;top:1261px;width:33px;height:13px;line-height:11px;background:#f7ef7b;border-right-width:1px;border-bottom-width:0px"><span>501</span></div>
<div class="c W" style="left:280px;top:1274px;width:32px;height:13px;line-height:11px;background:#ffffff;border-right-width:0px;border-bottom-width:0px"><span>404</span></div>
<div class="c W" style="left:312px;top:1274px;width:33px;height:13px;line-height:11px;background:#ffffff;border-right-width:0px;border-bottom-width:0px"><span>403</span></div>
<div class="c W" style="left:345px;top:1274px;width:32px;height:13px;line-height:11px;background:#ffffff;border-right-width:0px;border-bottom-width:0px"><span>402</span></div>
<div class="c" style="left:377px;top:1274px;width:33px;height:13px;line-height:11px;background:#f7ef7b;border-right-width:1px;border-bottom-width:0px"><span>401</span></div>
<div class="c W" style="left:280px;top:1287px;width:32px;height:13px;line-height:11px;background:#ffffff;border-right-width:0px;border-bottom-width:0px"><span>304</span></div>
<div class="c W" style="left:312px;top:1287px;width:33px;height:13px;line-height:11px;background:#ffffff;border-right-width:0px;border-bottom-width:0px"><span>303</span></div>
<div class="c W" style="left:345px;top:1287px;width:32px;height:13px;line-height:11px;background:#ffffff;border-right-width:0px;border-bottom-width:0px"><span>302</span></div>
<div class="c" style="left:377px;top:1287px;width:33px;height:13px;line-height:11px;background:#f7ef7b;border-right-width:1px;border-bottom-width:0px"><span>301</span></div>
<div class="c" style="left:280px;top:1300px;width:32px;height:13px;line-height:11px;background:#f2a8b9;border-right-width:0px;border-bottom-width:0px"><span>204</span></div>
<div class="c" style="left:312px;top:1300px;width:33px;height:13px;line-height:11px;background:#f2a8b9;border-right-width:0px;border-bottom-width:0px"><span>203</span></div>
<div class="c W" style="left:345px;top:1300px;width:32px;height:13px;line-height:11px;background:#ffffff;border-right-width:0px;border-bottom-width:0px"><span>202</span></div>
<div class="c" style="left:377px;top:1300px;width:33px;height:13px;line-height:11px;background:#f7ef7b;border-right-width:1px;border-bottom-width:0px"><span>201</span></div>
<div class="c" style="left:280px;top:1313px;width:32px;height:14px;line-height:11px;background:#ffffff;border-right-width:0px;border-bottom-width:1px"><svg class="a" style="left:0;top:0" width="31" height="12"><line x1="0" y1="0" x2="31" y2="12" stroke="#8a8a8a" stroke-width="0.8"/><line x1="0" y1="12" x2="31" y2="0" stroke="#8a8a8a" stroke-width="0.8"/></svg></div>
<div class="c w k" style="left:312px;top:1313px;width:33px;height:14px;line-height:11px;background:#ffffff;border-right-width:0px;border-bottom-width:1px"><span>로비</span></div>
<div class="c w k" style="left:345px;top:1313px;width:32px;height:14px;line-height:11px;background:#ffffff;border-right-width:0px;border-bottom-width:1px"><span>로비</span></div>
<div class="c" style="left:377px;top:1313px;width:33px;height:14px;line-height:11px;background:#f7ef7b;border-right-width:1px;border-bottom-width:1px"><span>101</span></div>
<div class="lh" style="left:280px;top:1339px;width:130px;height:14px;line-height:12px"><span>114<i>동</i></span></div>
<div class="lc" style="left:280px;top:1352px;width:33px;height:14px;line-height:12px;background:#d3eaf6"><span>4<i>호</i></span></div>
<div class="lc" style="left:280px;top:1365px;width:33px;height:14px;line-height:12px;background:#f2a8b9"><span>114</span></div>
<div class="lc" style="left:312px;top:1352px;width:34px;height:14px;line-height:12px;background:#d3eaf6"><span>3<i>호</i></span></div>
<div class="lc" style="left:312px;top:1365px;width:34px;height:14px;line-height:12px;background:#f2a8b9"><span>114</span></div>
<div class="lc" style="left:345px;top:1352px;width:33px;height:14px;line-height:12px;background:#d3eaf6"><span>2<i>호</i></span></div>
<div class="lc" style="left:345px;top:1365px;width:33px;height:14px;line-height:12px;background:#a9d4a1"><span>59B</span></div>
<div class="lc" style="left:377px;top:1352px;width:33px;height:14px;line-height:12px;background:#d3eaf6"><span>1<i>호</i></span></div>
<div class="lc" style="left:377px;top:1365px;width:33px;height:14px;line-height:12px;background:#f7ef7b"><span>59A</span></div>
<div class="c W" style="left:486px;top:1007px;width:32px;height:13px;line-height:11px;background:#ffffff;border-right-width:0px;border-bottom-width:0px"><span>2502</span></div>
<div class="c W" style="left:518px;top:1007px;width:34px;height:13px;line-height:11px;background:#ffffff;border-right-width:1px;border-bottom-width:0px"><span>2501</span></div>
<div class="c W" style="left:486px;top:1020px;width:32px;height:12px;line-height:10px;background:#ffffff;border-right-width:0px;border-bottom-width:0px"><span>2402</span></div>
<div class="c W" style="left:518px;top:1020px;width:34px;height:12px;line-height:10px;background:#ffffff;border-right-width:1px;border-bottom-width:0px"><span>2401</span></div>
<div class="c W" style="left:486px;top:1032px;width:32px;height:13px;line-height:11px;background:#ffffff;border-right-width:0px;border-bottom-width:0px"><span>2302</span></div>
<div class="c W" style="left:518px;top:1032px;width:34px;height:13px;line-height:11px;background:#ffffff;border-right-width:1px;border-bottom-width:0px"><span>2301</span></div>
<div class="c W" style="left:486px;top:1045px;width:32px;height:13px;line-height:11px;background:#ffffff;border-right-width:0px;border-bottom-width:0px"><span>2202</span></div>
<div class="c W" style="left:518px;top:1045px;width:34px;height:13px;line-height:11px;background:#ffffff;border-right-width:1px;border-bottom-width:0px"><span>2201</span></div>
<div class="c W" style="left:486px;top:1058px;width:32px;height:13px;line-height:11px;background:#ffffff;border-right-width:0px;border-bottom-width:0px"><span>2102</span></div>
<div class="c W" style="left:518px;top:1058px;width:34px;height:13px;line-height:11px;background:#ffffff;border-right-width:1px;border-bottom-width:0px"><span>2101</span></div>
<div class="c W" style="left:486px;top:1071px;width:32px;height:13px;line-height:11px;background:#ffffff;border-right-width:0px;border-bottom-width:0px"><span>2002</span></div>
<div class="c W" style="left:518px;top:1071px;width:34px;height:13px;line-height:11px;background:#ffffff;border-right-width:1px;border-bottom-width:0px"><span>2001</span></div>
<div class="c W" style="left:486px;top:1084px;width:32px;height:13px;line-height:11px;background:#ffffff;border-right-width:0px;border-bottom-width:0px"><span>1902</span></div>
<div class="c W" style="left:518px;top:1084px;width:34px;height:13px;line-height:11px;background:#ffffff;border-right-width:1px;border-bottom-width:0px"><span>1901</span></div>
<div class="c W" style="left:486px;top:1097px;width:32px;height:13px;line-height:11px;background:#ffffff;border-right-width:0px;border-bottom-width:0px"><span>1802</span></div>
<div class="c W" style="left:518px;top:1097px;width:34px;height:13px;line-height:11px;background:#ffffff;border-right-width:1px;border-bottom-width:0px"><span>1801</span></div>
<div class="c W" style="left:486px;top:1110px;width:32px;height:13px;line-height:11px;background:#ffffff;border-right-width:0px;border-bottom-width:0px"><span>1702</span></div>
<div class="c W" style="left:518px;top:1110px;width:34px;height:13px;line-height:11px;background:#ffffff;border-right-width:1px;border-bottom-width:0px"><span>1701</span></div>
<div class="c W" style="left:486px;top:1123px;width:32px;height:13px;line-height:11px;background:#ffffff;border-right-width:0px;border-bottom-width:0px"><span>1602</span></div>
<div class="c W" style="left:518px;top:1123px;width:34px;height:13px;line-height:11px;background:#ffffff;border-right-width:1px;border-bottom-width:0px"><span>1601</span></div>
<div class="c W" style="left:486px;top:1136px;width:32px;height:13px;line-height:11px;background:#ffffff;border-right-width:0px;border-bottom-width:0px"><span>1502</span></div>
<div class="c W" style="left:518px;top:1136px;width:34px;height:13px;line-height:11px;background:#ffffff;border-right-width:1px;border-bottom-width:0px"><span>1501</span></div>
<div class="c W" style="left:486px;top:1149px;width:32px;height:13px;line-height:11px;background:#ffffff;border-right-width:0px;border-bottom-width:0px"><span>1402</span></div>
<div class="c W" style="left:518px;top:1149px;width:34px;height:13px;line-height:11px;background:#ffffff;border-right-width:1px;border-bottom-width:0px"><span>1401</span></div>
<div class="c" style="left:486px;top:1162px;width:32px;height:13px;line-height:11px;background:#f2a8b9;border-right-width:0px;border-bottom-width:0px"><span>1302</span></div>
<div class="c" style="left:518px;top:1162px;width:34px;height:13px;line-height:11px;background:#f2a8b9;border-right-width:1px;border-bottom-width:0px"><span>1301</span></div>
<div class="c" style="left:486px;top:1175px;width:32px;height:13px;line-height:11px;background:#f2a8b9;border-right-width:0px;border-bottom-width:0px"><span>1202</span></div>
<div class="c W" style="left:518px;top:1175px;width:34px;height:13px;line-height:11px;background:#ffffff;border-right-width:1px;border-bottom-width:0px"><span>1201</span></div>
<div class="c W" style="left:486px;top:1188px;width:32px;height:13px;line-height:11px;background:#ffffff;border-right-width:0px;border-bottom-width:0px"><span>1102</span></div>
<div class="c W" style="left:518px;top:1188px;width:34px;height:13px;line-height:11px;background:#ffffff;border-right-width:1px;border-bottom-width:0px"><span>1101</span></div>
<div class="c W" style="left:486px;top:1201px;width:32px;height:13px;line-height:11px;background:#ffffff;border-right-width:0px;border-bottom-width:0px"><span>1002</span></div>
<div class="c W" style="left:518px;top:1201px;width:34px;height:13px;line-height:11px;background:#ffffff;border-right-width:1px;border-bottom-width:0px"><span>1001</span></div>
<div class="c W" style="left:486px;top:1214px;width:32px;height:13px;line-height:11px;background:#ffffff;border-right-width:0px;border-bottom-width:0px"><span>902</span></div>
<div class="c W" style="left:518px;top:1214px;width:34px;height:13px;line-height:11px;background:#ffffff;border-right-width:1px;border-bottom-width:0px"><span>901</span></div>
<div class="c W" style="left:486px;top:1227px;width:32px;height:13px;line-height:11px;background:#ffffff;border-right-width:0px;border-bottom-width:0px"><span>802</span></div>
<div class="c W" style="left:518px;top:1227px;width:34px;height:13px;line-height:11px;background:#ffffff;border-right-width:1px;border-bottom-width:0px"><span>801</span></div>
<div class="c W" style="left:486px;top:1240px;width:32px;height:13px;line-height:11px;background:#ffffff;border-right-width:0px;border-bottom-width:0px"><span>702</span></div>
<div class="c W" style="left:518px;top:1240px;width:34px;height:13px;line-height:11px;background:#ffffff;border-right-width:1px;border-bottom-width:0px"><span>701</span></div>
<div class="c W" style="left:486px;top:1253px;width:32px;height:13px;line-height:11px;background:#ffffff;border-right-width:0px;border-bottom-width:0px"><span>602</span></div>
<div class="c W" style="left:518px;top:1253px;width:34px;height:13px;line-height:11px;background:#ffffff;border-right-width:1px;border-bottom-width:0px"><span>601</span></div>
<div class="c W" style="left:486px;top:1266px;width:32px;height:13px;line-height:11px;background:#ffffff;border-right-width:0px;border-bottom-width:0px"><span>502</span></div>
<div class="c W" style="left:518px;top:1266px;width:34px;height:13px;line-height:11px;background:#ffffff;border-right-width:1px;border-bottom-width:0px"><span>501</span></div>
<div class="c W" style="left:486px;top:1279px;width:32px;height:13px;line-height:11px;background:#ffffff;border-right-width:0px;border-bottom-width:0px"><span>402</span></div>
<div class="c W" style="left:518px;top:1279px;width:34px;height:13px;line-height:11px;background:#ffffff;border-right-width:1px;border-bottom-width:0px"><span>401</span></div>
<div class="c W" style="left:486px;top:1292px;width:32px;height:13px;line-height:11px;background:#ffffff;border-right-width:0px;border-bottom-width:0px"><span>302</span></div>
<div class="c W" style="left:518px;top:1292px;width:34px;height:13px;line-height:11px;background:#ffffff;border-right-width:1px;border-bottom-width:0px"><span>301</span></div>
<div class="c" style="left:486px;top:1305px;width:32px;height:13px;line-height:11px;background:#f2a8b9;border-right-width:0px;border-bottom-width:0px"><span>202</span></div>
<div class="c" style="left:518px;top:1305px;width:34px;height:13px;line-height:11px;background:#f2a8b9;border-right-width:1px;border-bottom-width:0px"><span>201</span></div>
<div class="c" style="left:486px;top:1318px;width:32px;height:14px;line-height:11px;background:#f2a8b9;border-right-width:0px;border-bottom-width:1px"><span>102</span></div>
<div class="c" style="left:518px;top:1318px;width:34px;height:14px;line-height:11px;background:#f2a8b9;border-right-width:1px;border-bottom-width:1px"><span>101</span></div>
<div class="lh" style="left:486px;top:1344px;width:66px;height:14px;line-height:12px"><span>115<i>동</i></span></div>
<div class="lc" style="left:486px;top:1357px;width:33px;height:14px;line-height:12px;background:#d3eaf6"><span>2<i>호</i></span></div>
<div class="lc" style="left:486px;top:1370px;width:33px;height:14px;line-height:12px;background:#f2a8b9"><span>114</span></div>
<div class="lc" style="left:518px;top:1357px;width:34px;height:14px;line-height:12px;background:#d3eaf6"><span>1<i>호</i></span></div>
<div class="lc" style="left:518px;top:1370px;width:34px;height:14px;line-height:12px;background:#f2a8b9"><span>114</span></div>
<div class="c W" style="left:643px;top:1062px;width:32px;height:13px;line-height:11px;background:#ffffff;border-right-width:0px;border-bottom-width:0px"><span>2104</span></div>
<div class="c W" style="left:675px;top:1062px;width:34px;height:13px;line-height:11px;background:#ffffff;border-right-width:1px;border-bottom-width:0px"><span>2103</span></div>
<div class="c W" style="left:740px;top:1062px;width:34px;height:13px;line-height:11px;background:#ffffff;border-right-width:1px;border-bottom-width:0px"><span>2101</span></div>
<div class="c" style="left:643px;top:1075px;width:32px;height:13px;line-height:11px;background:#a8d9e4;border-right-width:0px;border-bottom-width:0px"><span>2004</span></div>
<div class="c W" style="left:675px;top:1075px;width:34px;height:13px;line-height:11px;background:#ffffff;border-right-width:1px;border-bottom-width:0px"><span>2003</span></div>
<div class="c W" style="left:740px;top:1075px;width:34px;height:13px;line-height:11px;background:#ffffff;border-right-width:1px;border-bottom-width:0px"><span>2001</span></div>
<div class="c W" style="left:643px;top:1088px;width:32px;height:13px;line-height:11px;background:#ffffff;border-right-width:0px;border-bottom-width:0px"><span>1904</span></div>
<div class="c W" style="left:675px;top:1088px;width:34px;height:13px;line-height:11px;background:#ffffff;border-right-width:1px;border-bottom-width:0px"><span>1903</span></div>
<div class="c W" style="left:740px;top:1088px;width:34px;height:13px;line-height:11px;background:#ffffff;border-right-width:1px;border-bottom-width:0px"><span>1901</span></div>
<div class="c W" style="left:643px;top:1101px;width:32px;height:13px;line-height:11px;background:#ffffff;border-right-width:0px;border-bottom-width:0px"><span>1804</span></div>
<div class="c W" style="left:675px;top:1101px;width:33px;height:13px;line-height:11px;background:#ffffff;border-right-width:0px;border-bottom-width:0px"><span>1803</span></div>
<div class="c W" style="left:708px;top:1101px;width:32px;height:13px;line-height:11px;background:#ffffff;border-right-width:0px;border-bottom-width:0px"><span>1802</span></div>
<div class="c W" style="left:740px;top:1101px;width:34px;height:13px;line-height:11px;background:#ffffff;border-right-width:1px;border-bottom-width:0px"><span>1801</span></div>
<div class="c W" style="left:643px;top:1114px;width:32px;height:13px;line-height:11px;background:#ffffff;border-right-width:0px;border-bottom-width:0px"><span>1704</span></div>
<div class="c W" style="left:675px;top:1114px;width:33px;height:13px;line-height:11px;background:#ffffff;border-right-width:0px;border-bottom-width:0px"><span>1703</span></div>
<div class="c W" style="left:708px;top:1114px;width:32px;height:13px;line-height:11px;background:#ffffff;border-right-width:0px;border-bottom-width:0px"><span>1702</span></div>
<div class="c W" style="left:740px;top:1114px;width:34px;height:13px;line-height:11px;background:#ffffff;border-right-width:1px;border-bottom-width:0px"><span>1701</span></div>
<div class="c W" style="left:643px;top:1127px;width:32px;height:13px;line-height:11px;background:#ffffff;border-right-width:0px;border-bottom-width:0px"><span>1604</span></div>
<div class="c W" style="left:675px;top:1127px;width:33px;height:13px;line-height:11px;background:#ffffff;border-right-width:0px;border-bottom-width:0px"><span>1603</span></div>
<div class="c W" style="left:708px;top:1127px;width:32px;height:13px;line-height:11px;background:#ffffff;border-right-width:0px;border-bottom-width:0px"><span>1602</span></div>
<div class="c W" style="left:740px;top:1127px;width:34px;height:13px;line-height:11px;background:#ffffff;border-right-width:1px;border-bottom-width:0px"><span>1601</span></div>
<div class="c W" style="left:643px;top:1140px;width:32px;height:13px;line-height:11px;background:#ffffff;border-right-width:0px;border-bottom-width:0px"><span>1504</span></div>
<div class="c W" style="left:675px;top:1140px;width:33px;height:13px;line-height:11px;background:#ffffff;border-right-width:0px;border-bottom-width:0px"><span>1503</span></div>
<div class="c W" style="left:708px;top:1140px;width:32px;height:13px;line-height:11px;background:#ffffff;border-right-width:0px;border-bottom-width:0px"><span>1502</span></div>
<div class="c W" style="left:740px;top:1140px;width:34px;height:13px;line-height:11px;background:#ffffff;border-right-width:1px;border-bottom-width:0px"><span>1501</span></div>
<div class="c W" style="left:643px;top:1153px;width:32px;height:13px;line-height:11px;background:#ffffff;border-right-width:0px;border-bottom-width:0px"><span>1404</span></div>
<div class="c W" style="left:675px;top:1153px;width:33px;height:13px;line-height:11px;background:#ffffff;border-right-width:0px;border-bottom-width:0px"><span>1403</span></div>
<div class="c W" style="left:708px;top:1153px;width:32px;height:13px;line-height:11px;background:#ffffff;border-right-width:0px;border-bottom-width:0px"><span>1402</span></div>
<div class="c W" style="left:740px;top:1153px;width:34px;height:13px;line-height:11px;background:#ffffff;border-right-width:1px;border-bottom-width:0px"><span>1401</span></div>
<div class="c W" style="left:643px;top:1166px;width:32px;height:13px;line-height:11px;background:#ffffff;border-right-width:0px;border-bottom-width:0px"><span>1304</span></div>
<div class="c W" style="left:675px;top:1166px;width:33px;height:13px;line-height:11px;background:#ffffff;border-right-width:0px;border-bottom-width:0px"><span>1303</span></div>
<div class="c W" style="left:708px;top:1166px;width:32px;height:13px;line-height:11px;background:#ffffff;border-right-width:0px;border-bottom-width:0px"><span>1302</span></div>
<div class="c W" style="left:740px;top:1166px;width:34px;height:13px;line-height:11px;background:#ffffff;border-right-width:1px;border-bottom-width:0px"><span>1301</span></div>
<div class="c" style="left:643px;top:1179px;width:32px;height:13px;line-height:11px;background:#a8d9e4;border-right-width:0px;border-bottom-width:0px"><span>1204</span></div>
<div class="c" style="left:675px;top:1179px;width:33px;height:13px;line-height:11px;background:#a8d9e4;border-right-width:0px;border-bottom-width:0px"><span>1203</span></div>
<div class="c W" style="left:708px;top:1179px;width:32px;height:13px;line-height:11px;background:#ffffff;border-right-width:0px;border-bottom-width:0px"><span>1202</span></div>
<div class="c W" style="left:740px;top:1179px;width:34px;height:13px;line-height:11px;background:#ffffff;border-right-width:1px;border-bottom-width:0px"><span>1201</span></div>
<div class="c" style="left:643px;top:1192px;width:32px;height:13px;line-height:11px;background:#a8d9e4;border-right-width:0px;border-bottom-width:0px"><span>1104</span></div>
<div class="c" style="left:675px;top:1192px;width:33px;height:13px;line-height:11px;background:#a8d9e4;border-right-width:0px;border-bottom-width:0px"><span>1103</span></div>
<div class="c W" style="left:708px;top:1192px;width:32px;height:13px;line-height:11px;background:#ffffff;border-right-width:0px;border-bottom-width:0px"><span>1102</span></div>
<div class="c W" style="left:740px;top:1192px;width:34px;height:13px;line-height:11px;background:#ffffff;border-right-width:1px;border-bottom-width:0px"><span>1101</span></div>
<div class="c" style="left:643px;top:1205px;width:32px;height:13px;line-height:11px;background:#a8d9e4;border-right-width:0px;border-bottom-width:0px"><span>1004</span></div>
<div class="c W" style="left:675px;top:1205px;width:33px;height:13px;line-height:11px;background:#ffffff;border-right-width:0px;border-bottom-width:0px"><span>1003</span></div>
<div class="c W" style="left:708px;top:1205px;width:32px;height:13px;line-height:11px;background:#ffffff;border-right-width:0px;border-bottom-width:0px"><span>1002</span></div>
<div class="c W" style="left:740px;top:1205px;width:34px;height:13px;line-height:11px;background:#ffffff;border-right-width:1px;border-bottom-width:0px"><span>1001</span></div>
<div class="c" style="left:643px;top:1218px;width:32px;height:13px;line-height:11px;background:#a8d9e4;border-right-width:0px;border-bottom-width:0px"><span>904</span></div>
<div class="c" style="left:675px;top:1218px;width:33px;height:13px;line-height:11px;background:#a8d9e4;border-right-width:0px;border-bottom-width:0px"><span>903</span></div>
<div class="c W" style="left:708px;top:1218px;width:32px;height:13px;line-height:11px;background:#ffffff;border-right-width:0px;border-bottom-width:0px"><span>902</span></div>
<div class="c W" style="left:740px;top:1218px;width:34px;height:13px;line-height:11px;background:#ffffff;border-right-width:1px;border-bottom-width:0px"><span>901</span></div>
<div class="c" style="left:643px;top:1231px;width:32px;height:13px;line-height:11px;background:#a8d9e4;border-right-width:0px;border-bottom-width:0px"><span>804</span></div>
<div class="c" style="left:675px;top:1231px;width:33px;height:13px;line-height:11px;background:#a8d9e4;border-right-width:0px;border-bottom-width:0px"><span>803</span></div>
<div class="c W" style="left:708px;top:1231px;width:32px;height:13px;line-height:11px;background:#ffffff;border-right-width:0px;border-bottom-width:0px"><span>802</span></div>
<div class="c W" style="left:740px;top:1231px;width:34px;height:13px;line-height:11px;background:#ffffff;border-right-width:1px;border-bottom-width:0px"><span>801</span></div>
<div class="c" style="left:643px;top:1244px;width:32px;height:13px;line-height:11px;background:#a8d9e4;border-right-width:0px;border-bottom-width:0px"><span>704</span></div>
<div class="c" style="left:675px;top:1244px;width:33px;height:13px;line-height:11px;background:#a8d9e4;border-right-width:0px;border-bottom-width:0px"><span>703</span></div>
<div class="c W" style="left:708px;top:1244px;width:32px;height:13px;line-height:11px;background:#ffffff;border-right-width:0px;border-bottom-width:0px"><span>702</span></div>
<div class="c W" style="left:740px;top:1244px;width:34px;height:13px;line-height:11px;background:#ffffff;border-right-width:1px;border-bottom-width:0px"><span>701</span></div>
<div class="c" style="left:643px;top:1257px;width:32px;height:13px;line-height:11px;background:#a8d9e4;border-right-width:0px;border-bottom-width:0px"><span>604</span></div>
<div class="c" style="left:675px;top:1257px;width:33px;height:13px;line-height:11px;background:#a8d9e4;border-right-width:0px;border-bottom-width:0px"><span>603</span></div>
<div class="c W" style="left:708px;top:1257px;width:32px;height:13px;line-height:11px;background:#ffffff;border-right-width:0px;border-bottom-width:0px"><span>602</span></div>
<div class="c W" style="left:740px;top:1257px;width:34px;height:13px;line-height:11px;background:#ffffff;border-right-width:1px;border-bottom-width:0px"><span>601</span></div>
<div class="c" style="left:643px;top:1270px;width:32px;height:13px;line-height:11px;background:#a8d9e4;border-right-width:0px;border-bottom-width:0px"><span>504</span></div>
<div class="c" style="left:675px;top:1270px;width:33px;height:13px;line-height:11px;background:#a8d9e4;border-right-width:0px;border-bottom-width:0px"><span>503</span></div>
<div class="c W" style="left:708px;top:1270px;width:32px;height:13px;line-height:11px;background:#ffffff;border-right-width:0px;border-bottom-width:0px"><span>502</span></div>
<div class="c W" style="left:740px;top:1270px;width:34px;height:13px;line-height:11px;background:#ffffff;border-right-width:1px;border-bottom-width:0px"><span>501</span></div>
<div class="c" style="left:643px;top:1283px;width:32px;height:13px;line-height:11px;background:#a8d9e4;border-right-width:0px;border-bottom-width:0px"><span>404</span></div>
<div class="c" style="left:675px;top:1283px;width:33px;height:13px;line-height:11px;background:#a8d9e4;border-right-width:0px;border-bottom-width:0px"><span>403</span></div>
<div class="c W" style="left:708px;top:1283px;width:32px;height:13px;line-height:11px;background:#ffffff;border-right-width:0px;border-bottom-width:0px"><span>402</span></div>
<div class="c W" style="left:740px;top:1283px;width:34px;height:13px;line-height:11px;background:#ffffff;border-right-width:1px;border-bottom-width:0px"><span>401</span></div>
<div class="c" style="left:643px;top:1296px;width:32px;height:13px;line-height:11px;background:#a8d9e4;border-right-width:0px;border-bottom-width:0px"><span>304</span></div>
<div class="c" style="left:675px;top:1296px;width:33px;height:13px;line-height:11px;background:#a8d9e4;border-right-width:0px;border-bottom-width:0px"><span>303</span></div>
<div class="c W" style="left:708px;top:1296px;width:32px;height:13px;line-height:11px;background:#ffffff;border-right-width:0px;border-bottom-width:0px"><span>302</span></div>
<div class="c W" style="left:740px;top:1296px;width:34px;height:13px;line-height:11px;background:#ffffff;border-right-width:1px;border-bottom-width:0px"><span>301</span></div>
<div class="c" style="left:643px;top:1309px;width:32px;height:13px;line-height:11px;background:#a8d9e4;border-right-width:0px;border-bottom-width:0px"><span>204</span></div>
<div class="c" style="left:675px;top:1309px;width:33px;height:13px;line-height:11px;background:#a8d9e4;border-right-width:0px;border-bottom-width:0px"><span>203</span></div>
<div class="c W" style="left:708px;top:1309px;width:32px;height:13px;line-height:11px;background:#ffffff;border-right-width:0px;border-bottom-width:0px"><span>202</span></div>
<div class="c W" style="left:740px;top:1309px;width:34px;height:13px;line-height:11px;background:#ffffff;border-right-width:1px;border-bottom-width:0px"><span>201</span></div>
<div class="c w k" style="left:643px;top:1322px;width:32px;height:14px;line-height:11px;background:#ffffff;border-right-width:0px;border-bottom-width:1px"><span>로비</span></div>
<div class="c W" style="left:675px;top:1322px;width:33px;height:14px;line-height:11px;background:#ffffff;border-right-width:0px;border-bottom-width:1px"><span>103</span></div>
<div class="c w k" style="left:708px;top:1322px;width:32px;height:14px;line-height:11px;background:#ffffff;border-right-width:0px;border-bottom-width:1px"><span>로비</span></div>
<div class="c W" style="left:740px;top:1322px;width:34px;height:14px;line-height:11px;background:#ffffff;border-right-width:1px;border-bottom-width:1px"><span>101</span></div>
<div class="lh" style="left:643px;top:1348px;width:131px;height:14px;line-height:12px"><span>116<i>동</i></span></div>
<div class="lc" style="left:643px;top:1361px;width:33px;height:14px;line-height:12px;background:#d3eaf6"><span>4<i>호</i></span></div>
<div class="lc" style="left:643px;top:1374px;width:33px;height:14px;line-height:12px;background:#a8d9e4"><span>74</span></div>
<div class="lc" style="left:675px;top:1361px;width:34px;height:14px;line-height:12px;background:#d3eaf6"><span>3<i>호</i></span></div>
<div class="lc" style="left:675px;top:1374px;width:34px;height:14px;line-height:12px;background:#a8d9e4"><span>74</span></div>
<div class="lc" style="left:708px;top:1361px;width:33px;height:14px;line-height:12px;background:#d3eaf6"><span>2<i>호</i></span></div>
<div class="lc" style="left:708px;top:1374px;width:33px;height:14px;line-height:12px;background:#a9d4a1"><span>59B</span></div>
<div class="lc" style="left:740px;top:1361px;width:34px;height:14px;line-height:12px;background:#d3eaf6"><span>1<i>호</i></span></div>
<div class="lc" style="left:740px;top:1374px;width:34px;height:14px;line-height:12px;background:#f7ef7b"><span>59A</span></div>
<div class="c" style="left:898px;top:1048px;width:32px;height:13px;line-height:11px;background:#a8d9e4;border-right-width:0px;border-bottom-width:0px"><span>2202</span></div>
<div class="c W" style="left:930px;top:1048px;width:33px;height:13px;line-height:11px;background:#ffffff;border-right-width:1px;border-bottom-width:0px"><span>2201</span></div>
<div class="c" style="left:833px;top:1061px;width:33px;height:13px;line-height:11px;background:#f7ef7b;border-right-width:1px;border-bottom-width:0px"><span>2104</span></div>
<div class="c W" style="left:898px;top:1061px;width:32px;height:13px;line-height:11px;background:#ffffff;border-right-width:0px;border-bottom-width:0px"><span>2102</span></div>
<div class="c W" style="left:930px;top:1061px;width:33px;height:13px;line-height:11px;background:#ffffff;border-right-width:1px;border-bottom-width:0px"><span>2101</span></div>
<div class="c W" style="left:833px;top:1074px;width:33px;height:13px;line-height:11px;background:#ffffff;border-right-width:1px;border-bottom-width:0px"><span>2004</span></div>
<div class="c W" style="left:898px;top:1074px;width:32px;height:13px;line-height:11px;background:#ffffff;border-right-width:0px;border-bottom-width:0px"><span>2002</span></div>
<div class="c W" style="left:930px;top:1074px;width:33px;height:13px;line-height:11px;background:#ffffff;border-right-width:1px;border-bottom-width:0px"><span>2001</span></div>
<div class="c W" style="left:833px;top:1087px;width:33px;height:13px;line-height:11px;background:#ffffff;border-right-width:1px;border-bottom-width:0px"><span>1904</span></div>
<div class="c W" style="left:898px;top:1087px;width:32px;height:13px;line-height:11px;background:#ffffff;border-right-width:0px;border-bottom-width:0px"><span>1902</span></div>
<div class="c W" style="left:930px;top:1087px;width:33px;height:13px;line-height:11px;background:#ffffff;border-right-width:1px;border-bottom-width:0px"><span>1901</span></div>
<div class="c W" style="left:833px;top:1100px;width:33px;height:13px;line-height:11px;background:#ffffff;border-right-width:1px;border-bottom-width:0px"><span>1804</span></div>
<div class="c W" style="left:898px;top:1100px;width:32px;height:13px;line-height:11px;background:#ffffff;border-right-width:0px;border-bottom-width:0px"><span>1802</span></div>
<div class="c W" style="left:930px;top:1100px;width:33px;height:13px;line-height:11px;background:#ffffff;border-right-width:1px;border-bottom-width:0px"><span>1801</span></div>
<div class="c W" style="left:833px;top:1113px;width:33px;height:13px;line-height:11px;background:#ffffff;border-right-width:1px;border-bottom-width:0px"><span>1704</span></div>
<div class="c W" style="left:898px;top:1113px;width:32px;height:13px;line-height:11px;background:#ffffff;border-right-width:0px;border-bottom-width:0px"><span>1702</span></div>
<div class="c W" style="left:930px;top:1113px;width:33px;height:13px;line-height:11px;background:#ffffff;border-right-width:1px;border-bottom-width:0px"><span>1701</span></div>
<div class="c W" style="left:833px;top:1126px;width:33px;height:13px;line-height:11px;background:#ffffff;border-right-width:1px;border-bottom-width:0px"><span>1604</span></div>
<div class="c W" style="left:898px;top:1126px;width:32px;height:13px;line-height:11px;background:#ffffff;border-right-width:0px;border-bottom-width:0px"><span>1602</span></div>
<div class="c W" style="left:930px;top:1126px;width:33px;height:13px;line-height:11px;background:#ffffff;border-right-width:1px;border-bottom-width:0px"><span>1601</span></div>
<div class="c W" style="left:833px;top:1139px;width:33px;height:13px;line-height:11px;background:#ffffff;border-right-width:1px;border-bottom-width:0px"><span>1504</span></div>
<div class="c W" style="left:898px;top:1139px;width:32px;height:13px;line-height:11px;background:#ffffff;border-right-width:0px;border-bottom-width:0px"><span>1502</span></div>
<div class="c W" style="left:930px;top:1139px;width:33px;height:13px;line-height:11px;background:#ffffff;border-right-width:1px;border-bottom-width:0px"><span>1501</span></div>
<div class="c W" style="left:833px;top:1152px;width:32px;height:13px;line-height:11px;background:#ffffff;border-right-width:0px;border-bottom-width:0px"><span>1404</span></div>
<div class="c W" style="left:865px;top:1152px;width:33px;height:13px;line-height:11px;background:#ffffff;border-right-width:0px;border-bottom-width:0px"><span>1403</span></div>
<div class="c" style="left:898px;top:1152px;width:32px;height:13px;line-height:11px;background:#a8d9e4;border-right-width:0px;border-bottom-width:0px"><span>1402</span></div>
<div class="c" style="left:930px;top:1152px;width:33px;height:13px;line-height:11px;background:#a8d9e4;border-right-width:1px;border-bottom-width:0px"><span>1401</span></div>
<div class="c W" style="left:833px;top:1165px;width:32px;height:13px;line-height:11px;background:#ffffff;border-right-width:0px;border-bottom-width:0px"><span>1304</span></div>
<div class="c W" style="left:865px;top:1165px;width:33px;height:13px;line-height:11px;background:#ffffff;border-right-width:0px;border-bottom-width:0px"><span>1303</span></div>
<div class="c" style="left:898px;top:1165px;width:32px;height:13px;line-height:11px;background:#a8d9e4;border-right-width:0px;border-bottom-width:0px"><span>1302</span></div>
<div class="c" style="left:930px;top:1165px;width:33px;height:13px;line-height:11px;background:#a8d9e4;border-right-width:1px;border-bottom-width:0px"><span>1301</span></div>
<div class="c W" style="left:833px;top:1178px;width:32px;height:13px;line-height:11px;background:#ffffff;border-right-width:0px;border-bottom-width:0px"><span>1204</span></div>
<div class="c W" style="left:865px;top:1178px;width:33px;height:13px;line-height:11px;background:#ffffff;border-right-width:0px;border-bottom-width:0px"><span>1203</span></div>
<div class="c" style="left:898px;top:1178px;width:32px;height:13px;line-height:11px;background:#a8d9e4;border-right-width:0px;border-bottom-width:0px"><span>1202</span></div>
<div class="c" style="left:930px;top:1178px;width:33px;height:13px;line-height:11px;background:#a8d9e4;border-right-width:1px;border-bottom-width:0px"><span>1201</span></div>
<div class="c W" style="left:833px;top:1191px;width:32px;height:13px;line-height:11px;background:#ffffff;border-right-width:0px;border-bottom-width:0px"><span>1104</span></div>
<div class="c W" style="left:865px;top:1191px;width:33px;height:13px;line-height:11px;background:#ffffff;border-right-width:0px;border-bottom-width:0px"><span>1103</span></div>
<div class="c" style="left:898px;top:1191px;width:32px;height:13px;line-height:11px;background:#a8d9e4;border-right-width:0px;border-bottom-width:0px"><span>1102</span></div>
<div class="c" style="left:930px;top:1191px;width:33px;height:13px;line-height:11px;background:#a8d9e4;border-right-width:1px;border-bottom-width:0px"><span>1101</span></div>
<div class="c W" style="left:833px;top:1204px;width:32px;height:13px;line-height:11px;background:#ffffff;border-right-width:0px;border-bottom-width:0px"><span>1004</span></div>
<div class="c W" style="left:865px;top:1204px;width:33px;height:13px;line-height:11px;background:#ffffff;border-right-width:0px;border-bottom-width:0px"><span>1003</span></div>
<div class="c" style="left:898px;top:1204px;width:32px;height:13px;line-height:11px;background:#a8d9e4;border-right-width:0px;border-bottom-width:0px"><span>1002</span></div>
<div class="c" style="left:930px;top:1204px;width:33px;height:13px;line-height:11px;background:#a8d9e4;border-right-width:1px;border-bottom-width:0px"><span>1001</span></div>
<div class="c W" style="left:833px;top:1217px;width:32px;height:13px;line-height:11px;background:#ffffff;border-right-width:0px;border-bottom-width:0px"><span>904</span></div>
<div class="c W" style="left:865px;top:1217px;width:33px;height:13px;line-height:11px;background:#ffffff;border-right-width:0px;border-bottom-width:0px"><span>903</span></div>
<div class="c" style="left:898px;top:1217px;width:32px;height:13px;line-height:11px;background:#a8d9e4;border-right-width:0px;border-bottom-width:0px"><span>902</span></div>
<div class="c" style="left:930px;top:1217px;width:33px;height:13px;line-height:11px;background:#a8d9e4;border-right-width:1px;border-bottom-width:0px"><span>901</span></div>
<div class="c W" style="left:833px;top:1230px;width:32px;height:13px;line-height:11px;background:#ffffff;border-right-width:0px;border-bottom-width:0px"><span>804</span></div>
<div class="c W" style="left:865px;top:1230px;width:33px;height:13px;line-height:11px;background:#ffffff;border-right-width:0px;border-bottom-width:0px"><span>803</span></div>
<div class="c W" style="left:898px;top:1230px;width:32px;height:13px;line-height:11px;background:#ffffff;border-right-width:0px;border-bottom-width:0px"><span>802</span></div>
<div class="c" style="left:930px;top:1230px;width:33px;height:13px;line-height:11px;background:#a8d9e4;border-right-width:1px;border-bottom-width:0px"><span>801</span></div>
<div class="c W" style="left:833px;top:1243px;width:32px;height:13px;line-height:11px;background:#ffffff;border-right-width:0px;border-bottom-width:0px"><span>704</span></div>
<div class="c W" style="left:865px;top:1243px;width:33px;height:13px;line-height:11px;background:#ffffff;border-right-width:0px;border-bottom-width:0px"><span>703</span></div>
<div class="c" style="left:898px;top:1243px;width:32px;height:13px;line-height:11px;background:#a8d9e4;border-right-width:0px;border-bottom-width:0px"><span>702</span></div>
<div class="c" style="left:930px;top:1243px;width:33px;height:13px;line-height:11px;background:#a8d9e4;border-right-width:1px;border-bottom-width:0px"><span>701</span></div>
<div class="c W" style="left:833px;top:1256px;width:32px;height:13px;line-height:11px;background:#ffffff;border-right-width:0px;border-bottom-width:0px"><span>604</span></div>
<div class="c W" style="left:865px;top:1256px;width:33px;height:13px;line-height:11px;background:#ffffff;border-right-width:0px;border-bottom-width:0px"><span>603</span></div>
<div class="c" style="left:898px;top:1256px;width:32px;height:13px;line-height:11px;background:#a8d9e4;border-right-width:0px;border-bottom-width:0px"><span>602</span></div>
<div class="c" style="left:930px;top:1256px;width:33px;height:13px;line-height:11px;background:#a8d9e4;border-right-width:1px;border-bottom-width:0px"><span>601</span></div>
<div class="c W" style="left:833px;top:1269px;width:32px;height:13px;line-height:11px;background:#ffffff;border-right-width:0px;border-bottom-width:0px"><span>504</span></div>
<div class="c W" style="left:865px;top:1269px;width:33px;height:13px;line-height:11px;background:#ffffff;border-right-width:0px;border-bottom-width:0px"><span>503</span></div>
<div class="c" style="left:898px;top:1269px;width:32px;height:13px;line-height:11px;background:#a8d9e4;border-right-width:0px;border-bottom-width:0px"><span>502</span></div>
<div class="c" style="left:930px;top:1269px;width:33px;height:13px;line-height:11px;background:#a8d9e4;border-right-width:1px;border-bottom-width:0px"><span>501</span></div>
<div class="c W" style="left:833px;top:1282px;width:32px;height:13px;line-height:11px;background:#ffffff;border-right-width:0px;border-bottom-width:0px"><span>404</span></div>
<div class="c W" style="left:865px;top:1282px;width:33px;height:13px;line-height:11px;background:#ffffff;border-right-width:0px;border-bottom-width:0px"><span>403</span></div>
<div class="c" style="left:898px;top:1282px;width:32px;height:13px;line-height:11px;background:#a8d9e4;border-right-width:0px;border-bottom-width:0px"><span>402</span></div>
<div class="c" style="left:930px;top:1282px;width:33px;height:13px;line-height:11px;background:#a8d9e4;border-right-width:1px;border-bottom-width:0px"><span>401</span></div>
<div class="c W" style="left:833px;top:1295px;width:32px;height:13px;line-height:11px;background:#ffffff;border-right-width:0px;border-bottom-width:0px"><span>304</span></div>
<div class="c W" style="left:865px;top:1295px;width:33px;height:13px;line-height:11px;background:#ffffff;border-right-width:0px;border-bottom-width:0px"><span>303</span></div>
<div class="c" style="left:898px;top:1295px;width:32px;height:13px;line-height:11px;background:#a8d9e4;border-right-width:0px;border-bottom-width:0px"><span>302</span></div>
<div class="c" style="left:930px;top:1295px;width:33px;height:13px;line-height:11px;background:#a8d9e4;border-right-width:1px;border-bottom-width:0px"><span>301</span></div>
<div class="c W" style="left:833px;top:1308px;width:32px;height:13px;line-height:11px;background:#ffffff;border-right-width:0px;border-bottom-width:0px"><span>204</span></div>
<div class="c W" style="left:865px;top:1308px;width:33px;height:13px;line-height:11px;background:#ffffff;border-right-width:0px;border-bottom-width:0px"><span>203</span></div>
<div class="c" style="left:898px;top:1308px;width:32px;height:13px;line-height:11px;background:#a8d9e4;border-right-width:0px;border-bottom-width:0px"><span>202</span></div>
<div class="c" style="left:930px;top:1308px;width:33px;height:13px;line-height:11px;background:#a8d9e4;border-right-width:1px;border-bottom-width:0px"><span>201</span></div>
<div class="c W" style="left:833px;top:1321px;width:32px;height:14px;line-height:11px;background:#ffffff;border-right-width:0px;border-bottom-width:1px"><span>104</span></div>
<div class="c w k" style="left:865px;top:1321px;width:33px;height:14px;line-height:11px;background:#ffffff;border-right-width:0px;border-bottom-width:1px"><span>로비</span></div>
<div class="c W" style="left:898px;top:1321px;width:32px;height:14px;line-height:11px;background:#ffffff;border-right-width:0px;border-bottom-width:1px"><span>102</span></div>
<div class="c w k" style="left:930px;top:1321px;width:33px;height:14px;line-height:11px;background:#ffffff;border-right-width:1px;border-bottom-width:1px"><span>로비</span></div>
<div class="lh" style="left:833px;top:1347px;width:130px;height:14px;line-height:12px"><span>117<i>동</i></span></div>
<div class="lc" style="left:833px;top:1360px;width:33px;height:14px;line-height:12px;background:#d3eaf6"><span>4<i>호</i></span></div>
<div class="lc" style="left:833px;top:1373px;width:33px;height:14px;line-height:12px;background:#f7ef7b"><span>59A</span></div>
<div class="lc" style="left:865px;top:1360px;width:34px;height:14px;line-height:12px;background:#d3eaf6"><span>3<i>호</i></span></div>
<div class="lc" style="left:865px;top:1373px;width:34px;height:14px;line-height:12px;background:#a9d4a1"><span>59B</span></div>
<div class="lc" style="left:898px;top:1360px;width:33px;height:14px;line-height:12px;background:#d3eaf6"><span>2<i>호</i></span></div>
<div class="lc" style="left:898px;top:1373px;width:33px;height:14px;line-height:12px;background:#a8d9e4"><span>74</span></div>
<div class="lc" style="left:930px;top:1360px;width:33px;height:14px;line-height:12px;background:#d3eaf6"><span>1<i>호</i></span></div>
<div class="lc" style="left:930px;top:1373px;width:33px;height:14px;line-height:12px;background:#a8d9e4"><span>74</span></div>
<div class="c W" style="left:1038px;top:951px;width:32px;height:13px;line-height:11px;background:#ffffff;border-right-width:0px;border-bottom-width:0px"><span>2903</span></div>
<div class="c W" style="left:1070px;top:951px;width:34px;height:13px;line-height:11px;background:#ffffff;border-right-width:1px;border-bottom-width:0px"><span>2902</span></div>
<div class="c W" style="left:1038px;top:964px;width:32px;height:13px;line-height:11px;background:#ffffff;border-right-width:0px;border-bottom-width:0px"><span>2803</span></div>
<div class="c W" style="left:1070px;top:964px;width:34px;height:13px;line-height:11px;background:#ffffff;border-right-width:1px;border-bottom-width:0px"><span>2802</span></div>
<div class="c W" style="left:1038px;top:977px;width:32px;height:13px;line-height:11px;background:#ffffff;border-right-width:0px;border-bottom-width:0px"><span>2703</span></div>
<div class="c W" style="left:1070px;top:977px;width:34px;height:13px;line-height:11px;background:#ffffff;border-right-width:1px;border-bottom-width:0px"><span>2702</span></div>
<div class="c W" style="left:1038px;top:990px;width:32px;height:13px;line-height:11px;background:#ffffff;border-right-width:0px;border-bottom-width:0px"><span>2603</span></div>
<div class="c W" style="left:1070px;top:990px;width:34px;height:13px;line-height:11px;background:#ffffff;border-right-width:1px;border-bottom-width:0px"><span>2602</span></div>
<div class="c W" style="left:1038px;top:1003px;width:32px;height:13px;line-height:11px;background:#ffffff;border-right-width:0px;border-bottom-width:0px"><span>2503</span></div>
<div class="c W" style="left:1070px;top:1003px;width:34px;height:13px;line-height:11px;background:#ffffff;border-right-width:1px;border-bottom-width:0px"><span>2502</span></div>
<div class="c W" style="left:1038px;top:1016px;width:32px;height:13px;line-height:11px;background:#ffffff;border-right-width:0px;border-bottom-width:0px"><span>2403</span></div>
<div class="c W" style="left:1070px;top:1016px;width:34px;height:13px;line-height:11px;background:#ffffff;border-right-width:1px;border-bottom-width:0px"><span>2402</span></div>
<div class="c W" style="left:1038px;top:1029px;width:32px;height:13px;line-height:11px;background:#ffffff;border-right-width:0px;border-bottom-width:0px"><span>2303</span></div>
<div class="c W" style="left:1070px;top:1029px;width:33px;height:13px;line-height:11px;background:#ffffff;border-right-width:0px;border-bottom-width:0px"><span>2302</span></div>
<div class="c W" style="left:1103px;top:1029px;width:33px;height:13px;line-height:11px;background:#ffffff;border-right-width:1px;border-bottom-width:0px"><span>2301</span></div>
<div class="c W" style="left:1038px;top:1042px;width:32px;height:13px;line-height:11px;background:#ffffff;border-right-width:0px;border-bottom-width:0px"><span>2203</span></div>
<div class="c W" style="left:1070px;top:1042px;width:33px;height:13px;line-height:11px;background:#ffffff;border-right-width:0px;border-bottom-width:0px"><span>2202</span></div>
<div class="c W" style="left:1103px;top:1042px;width:33px;height:13px;line-height:11px;background:#ffffff;border-right-width:1px;border-bottom-width:0px"><span>2201</span></div>
<div class="c W" style="left:1038px;top:1055px;width:32px;height:13px;line-height:11px;background:#ffffff;border-right-width:0px;border-bottom-width:0px"><span>2103</span></div>
<div class="c" style="left:1070px;top:1055px;width:33px;height:13px;line-height:11px;background:#eed8e9;border-right-width:0px;border-bottom-width:0px"><span>2102</span></div>
<div class="c W" style="left:1103px;top:1055px;width:33px;height:13px;line-height:11px;background:#ffffff;border-right-width:1px;border-bottom-width:0px"><span>2101</span></div>
<div class="c W" style="left:1038px;top:1068px;width:32px;height:13px;line-height:11px;background:#ffffff;border-right-width:0px;border-bottom-width:0px"><span>2003</span></div>
<div class="c" style="left:1070px;top:1068px;width:33px;height:13px;line-height:11px;background:#eed8e9;border-right-width:0px;border-bottom-width:0px"><span>2002</span></div>
<div class="c W" style="left:1103px;top:1068px;width:33px;height:13px;line-height:11px;background:#ffffff;border-right-width:1px;border-bottom-width:0px"><span>2001</span></div>
<div class="c W" style="left:1038px;top:1081px;width:32px;height:12px;line-height:10px;background:#ffffff;border-right-width:0px;border-bottom-width:0px"><span>1903</span></div>
<div class="c" style="left:1070px;top:1081px;width:33px;height:12px;line-height:10px;background:#eed8e9;border-right-width:0px;border-bottom-width:0px"><span>1902</span></div>
<div class="c W" style="left:1103px;top:1081px;width:33px;height:12px;line-height:10px;background:#ffffff;border-right-width:1px;border-bottom-width:0px"><span>1901</span></div>
<div class="c W" style="left:1038px;top:1093px;width:32px;height:13px;line-height:11px;background:#ffffff;border-right-width:0px;border-bottom-width:0px"><span>1803</span></div>
<div class="c" style="left:1070px;top:1093px;width:33px;height:13px;line-height:11px;background:#eed8e9;border-right-width:0px;border-bottom-width:0px"><span>1802</span></div>
<div class="c W" style="left:1103px;top:1093px;width:33px;height:13px;line-height:11px;background:#ffffff;border-right-width:1px;border-bottom-width:0px"><span>1801</span></div>
<div class="c W" style="left:1038px;top:1106px;width:32px;height:13px;line-height:11px;background:#ffffff;border-right-width:0px;border-bottom-width:0px"><span>1703</span></div>
<div class="c W" style="left:1070px;top:1106px;width:33px;height:13px;line-height:11px;background:#ffffff;border-right-width:0px;border-bottom-width:0px"><span>1702</span></div>
<div class="c W" style="left:1103px;top:1106px;width:33px;height:13px;line-height:11px;background:#ffffff;border-right-width:1px;border-bottom-width:0px"><span>1701</span></div>
<div class="c W" style="left:1038px;top:1119px;width:32px;height:13px;line-height:11px;background:#ffffff;border-right-width:0px;border-bottom-width:0px"><span>1603</span></div>
<div class="c W" style="left:1070px;top:1119px;width:33px;height:13px;line-height:11px;background:#ffffff;border-right-width:0px;border-bottom-width:0px"><span>1602</span></div>
<div class="c W" style="left:1103px;top:1119px;width:33px;height:13px;line-height:11px;background:#ffffff;border-right-width:1px;border-bottom-width:0px"><span>1601</span></div>
<div class="c" style="left:1038px;top:1132px;width:32px;height:13px;line-height:11px;background:#c9a2cd;border-right-width:0px;border-bottom-width:0px"><span>1503</span></div>
<div class="c W" style="left:1070px;top:1132px;width:33px;height:13px;line-height:11px;background:#ffffff;border-right-width:0px;border-bottom-width:0px"><span>1502</span></div>
<div class="c W" style="left:1103px;top:1132px;width:33px;height:13px;line-height:11px;background:#ffffff;border-right-width:1px;border-bottom-width:0px"><span>1501</span></div>
<div class="c" style="left:1038px;top:1145px;width:32px;height:13px;line-height:11px;background:#c9a2cd;border-right-width:0px;border-bottom-width:0px"><span>1403</span></div>
<div class="c W" style="left:1070px;top:1145px;width:33px;height:13px;line-height:11px;background:#ffffff;border-right-width:0px;border-bottom-width:0px"><span>1402</span></div>
<div class="c W" style="left:1103px;top:1145px;width:33px;height:13px;line-height:11px;background:#ffffff;border-right-width:1px;border-bottom-width:0px"><span>1401</span></div>
<div class="c" style="left:1038px;top:1158px;width:32px;height:13px;line-height:11px;background:#c9a2cd;border-right-width:0px;border-bottom-width:0px"><span>1303</span></div>
<div class="c W" style="left:1070px;top:1158px;width:33px;height:13px;line-height:11px;background:#ffffff;border-right-width:0px;border-bottom-width:0px"><span>1302</span></div>
<div class="c W" style="left:1103px;top:1158px;width:33px;height:13px;line-height:11px;background:#ffffff;border-right-width:1px;border-bottom-width:0px"><span>1301</span></div>
<div class="c" style="left:1038px;top:1171px;width:32px;height:13px;line-height:11px;background:#c9a2cd;border-right-width:0px;border-bottom-width:0px"><span>1203</span></div>
<div class="c W" style="left:1070px;top:1171px;width:33px;height:13px;line-height:11px;background:#ffffff;border-right-width:0px;border-bottom-width:0px"><span>1202</span></div>
<div class="c W" style="left:1103px;top:1171px;width:33px;height:13px;line-height:11px;background:#ffffff;border-right-width:1px;border-bottom-width:0px"><span>1201</span></div>
<div class="c W" style="left:1038px;top:1184px;width:32px;height:13px;line-height:11px;background:#ffffff;border-right-width:0px;border-bottom-width:0px"><span>1103</span></div>
<div class="c W" style="left:1070px;top:1184px;width:33px;height:13px;line-height:11px;background:#ffffff;border-right-width:0px;border-bottom-width:0px"><span>1102</span></div>
<div class="c W" style="left:1103px;top:1184px;width:33px;height:13px;line-height:11px;background:#ffffff;border-right-width:1px;border-bottom-width:0px"><span>1101</span></div>
<div class="c W" style="left:1038px;top:1197px;width:32px;height:13px;line-height:11px;background:#ffffff;border-right-width:0px;border-bottom-width:0px"><span>1003</span></div>
<div class="c W" style="left:1070px;top:1197px;width:33px;height:13px;line-height:11px;background:#ffffff;border-right-width:0px;border-bottom-width:0px"><span>1002</span></div>
<div class="c W" style="left:1103px;top:1197px;width:33px;height:13px;line-height:11px;background:#ffffff;border-right-width:1px;border-bottom-width:0px"><span>1001</span></div>
<div class="c W" style="left:1038px;top:1210px;width:32px;height:13px;line-height:11px;background:#ffffff;border-right-width:0px;border-bottom-width:0px"><span>903</span></div>
<div class="c" style="left:1070px;top:1210px;width:33px;height:13px;line-height:11px;background:#eed8e9;border-right-width:0px;border-bottom-width:0px"><span>902</span></div>
<div class="c W" style="left:1103px;top:1210px;width:33px;height:13px;line-height:11px;background:#ffffff;border-right-width:1px;border-bottom-width:0px"><span>901</span></div>
<div class="c W" style="left:1038px;top:1223px;width:32px;height:13px;line-height:11px;background:#ffffff;border-right-width:0px;border-bottom-width:0px"><span>803</span></div>
<div class="c" style="left:1070px;top:1223px;width:33px;height:13px;line-height:11px;background:#eed8e9;border-right-width:0px;border-bottom-width:0px"><span>802</span></div>
<div class="c W" style="left:1103px;top:1223px;width:33px;height:13px;line-height:11px;background:#ffffff;border-right-width:1px;border-bottom-width:0px"><span>801</span></div>
<div class="c W" style="left:1038px;top:1236px;width:32px;height:13px;line-height:11px;background:#ffffff;border-right-width:0px;border-bottom-width:0px"><span>703</span></div>
<div class="c" style="left:1070px;top:1236px;width:33px;height:13px;line-height:11px;background:#eed8e9;border-right-width:0px;border-bottom-width:0px"><span>702</span></div>
<div class="c W" style="left:1103px;top:1236px;width:33px;height:13px;line-height:11px;background:#ffffff;border-right-width:1px;border-bottom-width:0px"><span>701</span></div>
<div class="c W" style="left:1038px;top:1249px;width:32px;height:13px;line-height:11px;background:#ffffff;border-right-width:0px;border-bottom-width:0px"><span>603</span></div>
<div class="c" style="left:1070px;top:1249px;width:33px;height:13px;line-height:11px;background:#eed8e9;border-right-width:0px;border-bottom-width:0px"><span>602</span></div>
<div class="c W" style="left:1103px;top:1249px;width:33px;height:13px;line-height:11px;background:#ffffff;border-right-width:1px;border-bottom-width:0px"><span>601</span></div>
<div class="c W" style="left:1038px;top:1262px;width:32px;height:13px;line-height:11px;background:#ffffff;border-right-width:0px;border-bottom-width:0px"><span>503</span></div>
<div class="c" style="left:1070px;top:1262px;width:33px;height:13px;line-height:11px;background:#eed8e9;border-right-width:0px;border-bottom-width:0px"><span>502</span></div>
<div class="c W" style="left:1103px;top:1262px;width:33px;height:13px;line-height:11px;background:#ffffff;border-right-width:1px;border-bottom-width:0px"><span>501</span></div>
<div class="c W" style="left:1038px;top:1275px;width:32px;height:13px;line-height:11px;background:#ffffff;border-right-width:0px;border-bottom-width:0px"><span>403</span></div>
<div class="c" style="left:1070px;top:1275px;width:33px;height:13px;line-height:11px;background:#eed8e9;border-right-width:0px;border-bottom-width:0px"><span>402</span></div>
<div class="c W" style="left:1103px;top:1275px;width:33px;height:13px;line-height:11px;background:#ffffff;border-right-width:1px;border-bottom-width:0px"><span>401</span></div>
<div class="c W" style="left:1038px;top:1288px;width:32px;height:13px;line-height:11px;background:#ffffff;border-right-width:0px;border-bottom-width:0px"><span>303</span></div>
<div class="c" style="left:1070px;top:1288px;width:33px;height:13px;line-height:11px;background:#eed8e9;border-right-width:0px;border-bottom-width:0px"><span>302</span></div>
<div class="c W" style="left:1103px;top:1288px;width:33px;height:13px;line-height:11px;background:#ffffff;border-right-width:1px;border-bottom-width:0px"><span>301</span></div>
<div class="c W" style="left:1038px;top:1301px;width:32px;height:13px;line-height:11px;background:#ffffff;border-right-width:0px;border-bottom-width:0px"><span>203</span></div>
<div class="c" style="left:1070px;top:1301px;width:33px;height:13px;line-height:11px;background:#eed8e9;border-right-width:0px;border-bottom-width:0px"><span>202</span></div>
<div class="c W" style="left:1103px;top:1301px;width:33px;height:13px;line-height:11px;background:#ffffff;border-right-width:1px;border-bottom-width:0px"><span>201</span></div>
<div class="c" style="left:1038px;top:1314px;width:32px;height:14px;line-height:11px;background:#c9a2cd;border-right-width:0px;border-bottom-width:1px"><span>103</span></div>
<div class="c" style="left:1070px;top:1314px;width:33px;height:14px;line-height:11px;background:#eed8e9;border-right-width:0px;border-bottom-width:1px"><span>102</span></div>
<div class="c w k" style="left:1103px;top:1314px;width:33px;height:14px;line-height:11px;background:#ffffff;border-right-width:1px;border-bottom-width:1px"><span>로비</span></div>
<div class="lh" style="left:1038px;top:1340px;width:98px;height:14px;line-height:12px"><span>118<i>동</i></span></div>
<div class="lc" style="left:1038px;top:1353px;width:33px;height:14px;line-height:12px;background:#d3eaf6"><span>3<i>호</i></span></div>
<div class="lc" style="left:1038px;top:1366px;width:33px;height:14px;line-height:12px;background:#c9a2cd"><span>84A</span></div>
<div class="lc" style="left:1070px;top:1353px;width:34px;height:14px;line-height:12px;background:#d3eaf6"><span>2<i>호</i></span></div>
<div class="lc" style="left:1070px;top:1366px;width:34px;height:14px;line-height:12px;background:#eed8e9"><span>84B</span></div>
<div class="lc" style="left:1103px;top:1353px;width:33px;height:14px;line-height:12px;background:#d3eaf6"><span>1<i>호</i></span></div>
<div class="lc" style="left:1103px;top:1366px;width:33px;height:14px;line-height:12px;background:#c9a2cd"><span>84A</span></div>
<div class="a" style="left:30px;top:1412px;width:1140px;height:56px;background:#e8e5e1"></div>
<div class="a" style="left:30px;top:1412px;width:190px;height:56px;background:#bcb2a9"></div>
<div class="a" style="left:48.2px;top:1427px;height:26px;line-height:26px;font-size:18px;-webkit-text-stroke:0.75px #2a2420;color:#2a2420;white-space:nowrap;">일</div>
<div class="a" style="left:63.1px;top:1427px;height:26px;line-height:26px;font-size:18px;-webkit-text-stroke:0.75px #2a2420;color:#2a2420;white-space:nowrap;">반</div>
<div class="a" style="left:78.0px;top:1427px;height:26px;line-height:26px;font-size:18px;-webkit-text-stroke:0.75px #2a2420;color:#2a2420;white-space:nowrap;">분</div>
<div class="a" style="left:93.5px;top:1427px;height:26px;line-height:26px;font-size:18px;-webkit-text-stroke:0.75px #2a2420;color:#2a2420;white-space:nowrap;">양</div>
<div class="a" style="left:118.2px;top:1427px;height:26px;line-height:26px;font-size:18px;-webkit-text-stroke:0.75px #2a2420;color:#2a2420;white-space:nowrap;">총</div>
<div class="a" style="left:139.4px;top:1427px;height:26px;line-height:26px;font-size:18px;-webkit-text-stroke:0.75px #2a2420;color:#2a2420;white-space:nowrap;font-family:'Liberation Sans';font-size:19.8px;letter-spacing:-1.3px">705</div>
<div class="a" style="left:168.2px;top:1427px;height:26px;line-height:26px;font-size:18px;-webkit-text-stroke:0.75px #2a2420;color:#2a2420;white-space:nowrap;">세</div>
<div class="a" style="left:185.5px;top:1427px;height:26px;line-height:26px;font-size:18px;-webkit-text-stroke:0.75px #2a2420;color:#2a2420;white-space:nowrap;">대</div>
<div class="a" style="left:271px;top:1431px;width:29px;height:18px;border-radius:3px;border:1px solid #8f8a84;background:#f7ef7b"></div>
<div class="a" style="left:309px;top:1430px;height:20px;line-height:20px;font-size:15px;color:#2a2420;white-space:nowrap;letter-spacing:-0.5px">59A | 118세대</div>
<div class="a" style="left:421px;top:1431px;width:29px;height:18px;border-radius:3px;border:1px solid #8f8a84;background:#a9d4a1"></div>
<div class="a" style="left:459px;top:1430px;height:20px;line-height:20px;font-size:15px;color:#2a2420;white-space:nowrap;letter-spacing:-0.5px">59B | 15세대</div>
<div class="a" style="left:563px;top:1431px;width:29px;height:18px;border-radius:3px;border:1px solid #8f8a84;background:#a8d9e4"></div>
<div class="a" style="left:600px;top:1430px;height:20px;line-height:20px;font-size:15px;color:#2a2420;white-space:nowrap;letter-spacing:-0.5px">74 | 164세대</div>
<div class="a" style="left:705px;top:1431px;width:29px;height:18px;border-radius:3px;border:1px solid #8f8a84;background:#c9a2cd"></div>
<div class="a" style="left:743px;top:1430px;height:20px;line-height:20px;font-size:15px;color:#2a2420;white-space:nowrap;letter-spacing:-0.5px">84A | 285세대</div>
<div class="a" style="left:857px;top:1431px;width:29px;height:18px;border-radius:3px;border:1px solid #8f8a84;background:#eed8e9"></div>
<div class="a" style="left:894px;top:1430px;height:20px;line-height:20px;font-size:15px;color:#2a2420;white-space:nowrap;letter-spacing:-0.5px">84B | 110세대</div>
<div class="a" style="left:1007px;top:1431px;width:29px;height:18px;border-radius:3px;border:1px solid #8f8a84;background:#f2a8b9"></div>
<div class="a" style="left:1045px;top:1430px;height:20px;line-height:20px;font-size:15px;color:#2a2420;white-space:nowrap;letter-spacing:-0.5px">114 | 13세대</div>
</div></body></html>
